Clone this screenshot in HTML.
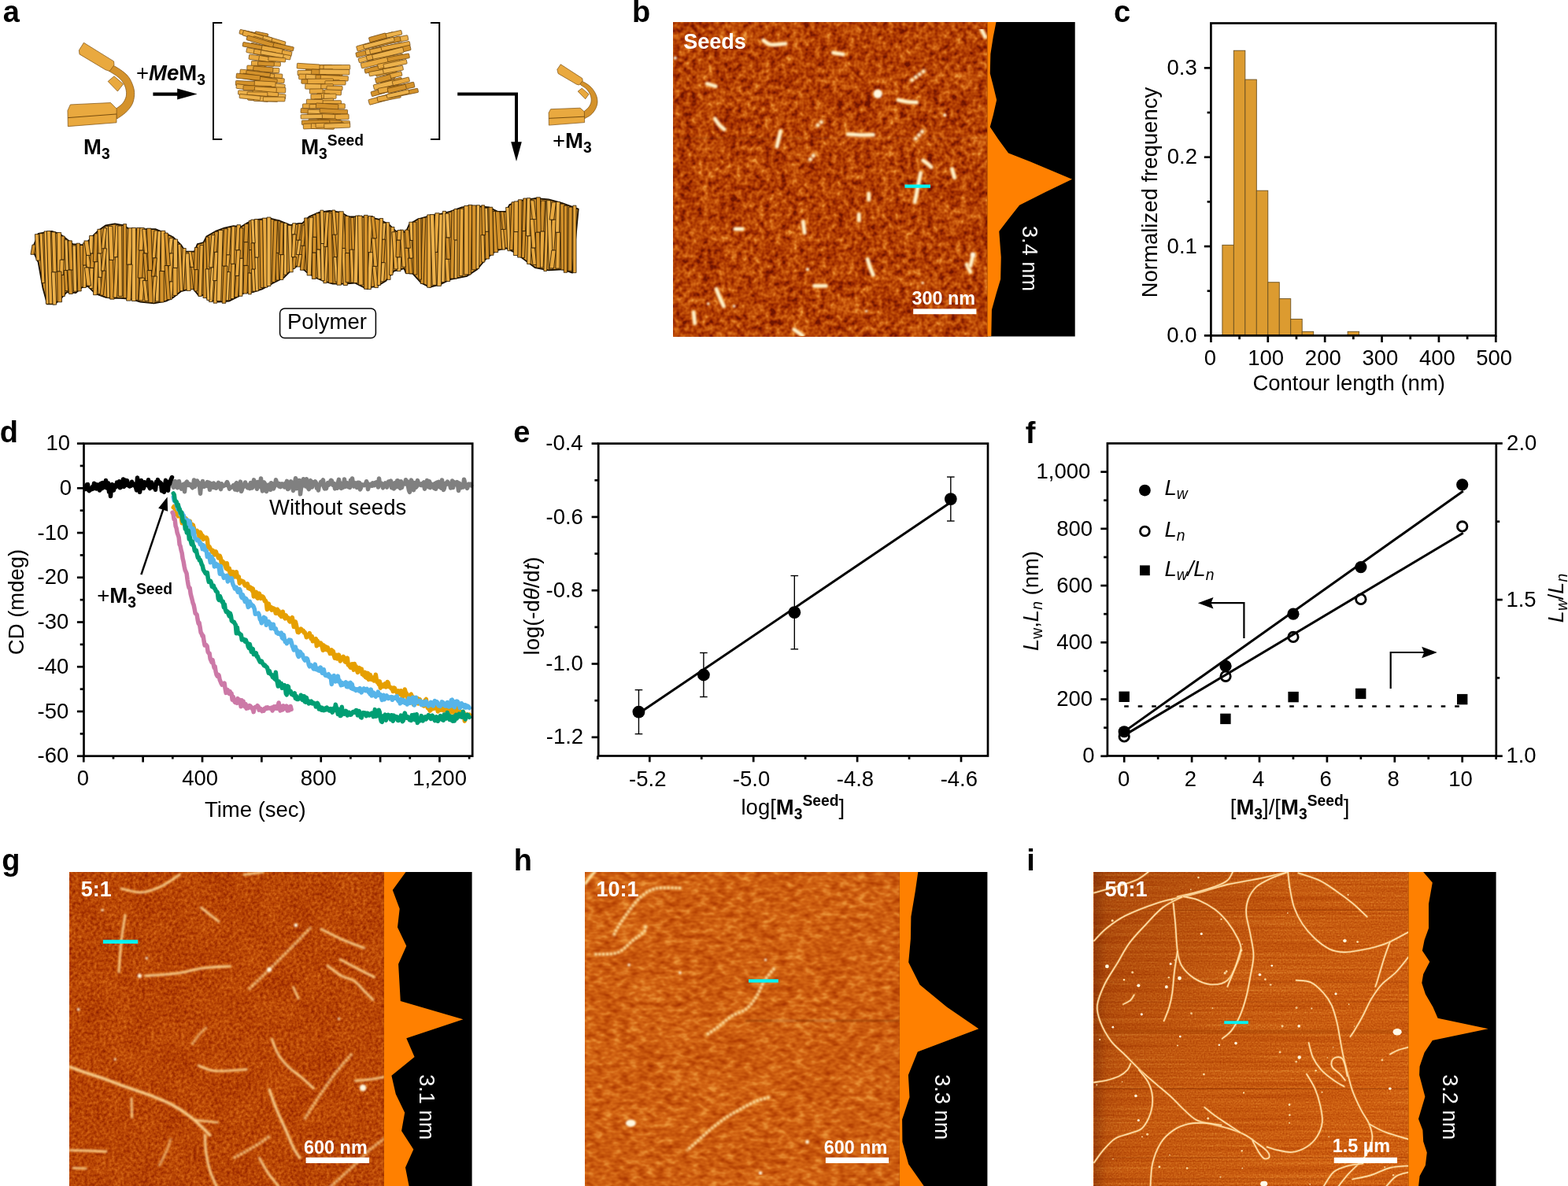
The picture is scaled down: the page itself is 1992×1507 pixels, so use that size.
<!DOCTYPE html>
<html lang="en"><head><meta charset="utf-8"><title>Figure</title>
<style>html,body{margin:0;padding:0;background:#fff}svg{display:block}text{font-family:"Liberation Sans",Arial,Helvetica,sans-serif}</style></head>
<body>
<svg width="1992" height="1507" viewBox="0 0 1992 1507">
<defs><filter id="nb" x="0" y="0" width="1" height="1" color-interpolation-filters="sRGB"><feTurbulence type="fractalNoise" baseFrequency="0.14" numOctaves="2" seed="4" stitchTiles="noStitch" result="t1"/><feColorMatrix in="t1" type="matrix" values="1 0 0 0 0 1 0 0 0 0 1 0 0 0 0 0 0 0 0 1" result="a1"/><feTurbulence type="fractalNoise" baseFrequency="0.035" numOctaves="2" seed="8" stitchTiles="noStitch" result="t2"/><feColorMatrix in="t2" type="matrix" values="1 0 0 0 0 1 0 0 0 0 1 0 0 0 0 0 0 0 0 1" result="a2"/><feComposite in="a1" in2="a2" operator="arithmetic" k1="0" k2="0.75" k3="0.25" k4="0" result="t3"/><feColorMatrix type="matrix" values="1.9 0 0 0 -0.5 1.9 0 0 0 -0.5 1.9 0 0 0 -0.5 0 0 0 0 1"/><feComponentTransfer><feFuncR type="table" tableValues="0.45 0.62 0.73 0.83 0.92"/><feFuncG type="table" tableValues="0.08 0.17 0.28 0.40 0.58"/><feFuncB type="table" tableValues="0.00 0.00 0.02 0.08 0.22"/></feComponentTransfer></filter><filter id="ng" x="0" y="0" width="1" height="1" color-interpolation-filters="sRGB"><feTurbulence type="fractalNoise" baseFrequency="0.26" numOctaves="2" seed="9" stitchTiles="noStitch" result="t1"/><feColorMatrix in="t1" type="matrix" values="1 0 0 0 0 1 0 0 0 0 1 0 0 0 0 0 0 0 0 1" result="a1"/><feTurbulence type="fractalNoise" baseFrequency="0.03" numOctaves="2" seed="2" stitchTiles="noStitch" result="t2"/><feColorMatrix in="t2" type="matrix" values="1 0 0 0 0 1 0 0 0 0 1 0 0 0 0 0 0 0 0 1" result="a2"/><feComposite in="a1" in2="a2" operator="arithmetic" k1="0" k2="0.8" k3="0.2" k4="0" result="t3"/><feColorMatrix type="matrix" values="1.05 0 0 0 -0.04 1.05 0 0 0 -0.04 1.05 0 0 0 -0.04 0 0 0 0 1"/><feComponentTransfer><feFuncR type="table" tableValues="0.45 0.62 0.73 0.83 0.92"/><feFuncG type="table" tableValues="0.08 0.17 0.28 0.40 0.58"/><feFuncB type="table" tableValues="0.00 0.00 0.02 0.08 0.22"/></feComponentTransfer></filter><filter id="nh" x="0" y="0" width="1" height="1" color-interpolation-filters="sRGB"><feTurbulence type="fractalNoise" baseFrequency="0.09 0.15" numOctaves="2" seed="21" stitchTiles="noStitch" result="t1"/><feColorMatrix in="t1" type="matrix" values="1 0 0 0 0 1 0 0 0 0 1 0 0 0 0 0 0 0 0 1" result="a1"/><feTurbulence type="fractalNoise" baseFrequency="0.025" numOctaves="2" seed="5" stitchTiles="noStitch" result="t2"/><feColorMatrix in="t2" type="matrix" values="1 0 0 0 0 1 0 0 0 0 1 0 0 0 0 0 0 0 0 1" result="a2"/><feComposite in="a1" in2="a2" operator="arithmetic" k1="0" k2="0.8" k3="0.2" k4="0" result="t3"/><feColorMatrix type="matrix" values="1.05 0 0 0 0.17 1.05 0 0 0 0.17 1.05 0 0 0 0.17 0 0 0 0 1"/><feComponentTransfer><feFuncR type="table" tableValues="0.45 0.62 0.73 0.83 0.92"/><feFuncG type="table" tableValues="0.08 0.17 0.28 0.40 0.58"/><feFuncB type="table" tableValues="0.00 0.00 0.02 0.08 0.22"/></feComponentTransfer></filter><filter id="ni" x="0" y="0" width="1" height="1" color-interpolation-filters="sRGB"><feTurbulence type="fractalNoise" baseFrequency="0.5" numOctaves="1" seed="5" stitchTiles="noStitch" result="t1"/><feColorMatrix in="t1" type="matrix" values="1 0 0 0 0 1 0 0 0 0 1 0 0 0 0 0 0 0 0 1" result="a1"/><feTurbulence type="fractalNoise" baseFrequency="0.004 0.35" numOctaves="2" seed="3" stitchTiles="noStitch" result="t2"/><feColorMatrix in="t2" type="matrix" values="1 0 0 0 0 1 0 0 0 0 1 0 0 0 0 0 0 0 0 1" result="a2"/><feComposite in="a1" in2="a2" operator="arithmetic" k1="0" k2="0.55" k3="0.45" k4="0" result="t3"/><feColorMatrix type="matrix" values="0.9 0 0 0 0.24 0.9 0 0 0 0.24 0.9 0 0 0 0.24 0 0 0 0 1"/><feComponentTransfer><feFuncR type="table" tableValues="0.45 0.62 0.73 0.83 0.92"/><feFuncG type="table" tableValues="0.08 0.17 0.28 0.40 0.58"/><feFuncB type="table" tableValues="0.00 0.00 0.02 0.08 0.22"/></feComponentTransfer></filter><filter id="soft" x="0" y="0" width="1" height="1" filterUnits="objectBoundingBox"><feGaussianBlur stdDeviation="0.8"/></filter><filter id="softi" x="0" y="0" width="1" height="1" filterUnits="objectBoundingBox"><feGaussianBlur stdDeviation="0.5"/></filter><linearGradient id="gi" x1="0" y1="0" x2="1" y2="0.6"><stop offset="0" stop-color="#5a1800" stop-opacity="0.30"/><stop offset="0.5" stop-color="#5a1800" stop-opacity="0.08"/><stop offset="1" stop-color="#5a1800" stop-opacity="0"/></linearGradient><linearGradient id="gi2" x1="0" y1="0" x2="1" y2="0"><stop offset="0" stop-color="#5a1800" stop-opacity="0.35"/><stop offset="0.04" stop-color="#5a1800" stop-opacity="0.05"/><stop offset="0.1" stop-color="#5a1800" stop-opacity="0"/><stop offset="1" stop-color="#5a1800" stop-opacity="0"/></linearGradient><clipPath id="clip-b"><rect x="855" y="28" width="399.6" height="399.5"/></clipPath><clipPath id="clip-g"><rect x="88.7" y="1108" width="399.3" height="400"/></clipPath><clipPath id="clip-h"><rect x="743.8" y="1108" width="399.1" height="400"/></clipPath><clipPath id="clip-i"><rect x="1389.7" y="1108" width="399.6" height="400"/></clipPath></defs>
<rect width="1992" height="1507" fill="#fff"/>
<g id="panel-a"><text x="3.86" y="28.1" font-size="38" font-weight="bold" fill="#000">a</text><path d="M138.55 80.32 C140.9 81.66 148.53 85.51 152.61 88.35 C156.69 91.2 160.31 93.88 163.05 97.39 C165.8 100.9 167.8 105.59 169.08 109.44 C170.35 113.29 170.88 116.63 170.68 120.48 C170.48 124.33 169.71 128.78 167.87 132.53 C166.03 136.28 162.85 139.89 159.64 142.97 C156.43 146.05 150.44 149.67 148.59 151 L146.99 138.55 C148.43 137.38 153.41 134.2 155.62 131.53 C157.83 128.85 159.54 125.6 160.24 122.49 C160.94 119.38 160.58 115.93 159.84 112.85 C159.1 109.77 157.7 106.69 155.82 104.02 C153.95 101.34 151.47 99.06 148.59 96.79 C145.72 94.51 140.23 91.43 138.55 90.36 Z" fill="#D4922B" stroke="#7a4e10" stroke-width="0.7" stroke-linejoin="round"/><polygon points="85.94,140.56 89.36,132.93 140.56,130.52 148.19,138.15 147.99,155.82 86.35,160.64" fill="#E9A93F" stroke="#7a4e10" stroke-width="0.7" stroke-linejoin="round"/><line x1="86.35" y1="149.6" x2="147.99" y2="144.98" stroke="#6a4208" stroke-width="0.9"/><polygon points="137.15,103.41 144.98,96.79 156.63,106.83 149.4,116.06" fill="#E9A93F" stroke="#7a4e10" stroke-width="0.7" stroke-linejoin="round"/><polygon points="106.43,54.22 144.58,77.91 144.98,82.73 139.36,90.36 134.14,88.76 101,68.88 100.4,63.86" fill="#E9A93F" stroke="#7a4e10" stroke-width="0.7" stroke-linejoin="round"/><path d="M735.62 101.46 C737.08 102.19 741.7 104.14 744.38 105.84 C747.06 107.54 749.54 109.25 751.68 111.68 C753.82 114.11 756.01 117.4 757.23 120.44 C758.44 123.48 759.12 126.89 758.98 129.93 C758.83 132.97 757.76 136.01 756.35 138.69 C754.94 141.36 752.8 143.99 750.51 145.99 C748.22 147.98 743.94 149.88 742.63 150.66 L741.75 141.9 C742.8 140.92 746.47 138.25 748.03 136.06 C749.59 133.87 750.78 131.34 751.09 128.76 C751.41 126.18 750.92 123.19 749.93 120.58 C748.93 117.98 747.13 115.23 745.11 113.14 C743.09 111.05 739.03 108.88 737.81 108.03 Z" fill="#D4922B" stroke="#7a4e10" stroke-width="0.7" stroke-linejoin="round"/><polygon points="697.08,143.36 699.56,138.69 737.08,137.23 742.34,141.9 742.63,155.62 697.37,159.12" fill="#E9A93F" stroke="#7a4e10" stroke-width="0.7" stroke-linejoin="round"/><line x1="697.37" y1="150.36" x2="742.34" y2="148.18" stroke="#6a4208" stroke-width="0.9"/><polygon points="734.16,116.06 739.27,112.12 748.03,119.71 743.65,125.84" fill="#E9A93F" stroke="#7a4e10" stroke-width="0.7" stroke-linejoin="round"/><polygon points="712.26,81.75 739.71,99.56 740.29,102.48 735.91,108.03 732.7,107.3 709.05,93.43 707.88,88.32" fill="#E9A93F" stroke="#7a4e10" stroke-width="0.7" stroke-linejoin="round"/><text x="106.0" y="195.6" font-size="27.5" font-weight="bold" fill="#000">M<tspan font-size="19.3" dy="6">3</tspan></text><text x="173.0" y="102.4" font-size="27.5" fill="#000">+<tspan font-weight="bold" font-style="italic">Me</tspan><tspan font-weight="bold">M<tspan font-size="19.3" dy="6">3</tspan></tspan></text><text x="382.2" y="195.8" font-size="27.5" font-weight="bold" fill="#000">M<tspan font-size="19.3" dy="6">3</tspan><tspan font-size="19.3" dy="-17">Seed</tspan></text><text x="702.0" y="187.6" font-size="27.5" fill="#000">+<tspan font-weight="bold">M<tspan font-size="19.3" dy="6">3</tspan></tspan></text><line x1="194.4" y1="119.6" x2="228" y2="119.6" stroke="#000" stroke-width="4.2"/><polygon points="250.6,119.6 225.2,112.6 225.2,126.6" fill="#000" stroke="none" stroke-width="1"/><polyline points="282.2,29 271,29 271,177 282.2,177" fill="none" stroke="#000" stroke-width="2"/><polyline points="547,29 558.2,29 558.2,177 547,177" fill="none" stroke="#000" stroke-width="2"/><polyline points="581.2,119.4 656,119.4 656,182" fill="none" stroke="#000" stroke-width="4"/><polygon points="656,205 649.2,180.2 662.8,180.2" fill="#000" stroke="none" stroke-width="1"/><rect x="313.74" y="41.34" width="17.02" height="5.96" rx="0.8" fill="#D4922B" stroke="#6b430c" stroke-width="0.7" transform="rotate(11.28 322.25 44.32)"/><rect x="323.62" y="41.36" width="16.7" height="6.54" rx="0.8" fill="#D4922B" stroke="#6b430c" stroke-width="0.7" transform="rotate(11.6 331.97 44.63)"/><rect x="304.18" y="39.71" width="20.69" height="5.63" rx="0.8" fill="#E9A93F" stroke="#6b430c" stroke-width="0.7" transform="rotate(13.81 314.52 42.52)"/><rect x="329.15" y="48.45" width="23.18" height="5.81" rx="0.8" fill="#E9A93F" stroke="#6b430c" stroke-width="0.7" transform="rotate(12.3 340.74 51.36)"/><rect x="335.26" y="49.23" width="27.55" height="6.42" rx="0.8" fill="#E9A93F" stroke="#6b430c" stroke-width="0.7" transform="rotate(16.64 349.04 52.44)"/><rect x="316.74" y="44.51" width="28.98" height="5.55" rx="0.8" fill="#EDB24C" stroke="#6b430c" stroke-width="0.7" transform="rotate(13.76 331.23 47.28)"/><rect x="308.19" y="41.91" width="26.11" height="6.67" rx="0.8" fill="#E9A93F" stroke="#6b430c" stroke-width="0.7" transform="rotate(16.53 321.25 45.24)"/><rect x="335.33" y="54.38" width="26.76" height="6.76" rx="0.8" fill="#EDB24C" stroke="#6b430c" stroke-width="0.7" transform="rotate(14 348.71 57.76)"/><rect x="320.77" y="50.91" width="36.95" height="6.14" rx="0.8" fill="#E9A93F" stroke="#6b430c" stroke-width="0.7" transform="rotate(16.29 339.25 53.98)"/><rect x="337.76" y="56.09" width="35.5" height="5.26" rx="0.8" fill="#D4922B" stroke="#6b430c" stroke-width="0.7" transform="rotate(12.46 355.5 58.72)"/><rect x="313.01" y="49.77" width="34.91" height="5.79" rx="0.8" fill="#D4922B" stroke="#6b430c" stroke-width="0.7" transform="rotate(16.3 330.47 52.66)"/><rect x="336.21" y="62.48" width="34.63" height="6.03" rx="0.8" fill="#E9A93F" stroke="#6b430c" stroke-width="0.7" transform="rotate(11.36 353.53 65.49)"/><rect x="318.26" y="57.86" width="32.45" height="5.69" rx="0.8" fill="#E9A93F" stroke="#6b430c" stroke-width="0.7" transform="rotate(14.09 334.48 60.7)"/><rect x="308.19" y="56.42" width="34.02" height="5.47" rx="0.8" fill="#D4922B" stroke="#6b430c" stroke-width="0.7" transform="rotate(10.36 325.2 59.16)"/><rect x="332.31" y="59.94" width="26.47" height="6.58" rx="0.8" fill="#E9A93F" stroke="#6b430c" stroke-width="0.7" transform="rotate(10.39 345.55 63.22)"/><rect x="313.01" y="63.15" width="28.78" height="6.17" rx="0.8" fill="#EDB24C" stroke="#6b430c" stroke-width="0.7" transform="rotate(11.38 327.4 66.24)"/><rect x="322.44" y="64.44" width="27.93" height="6.1" rx="0.8" fill="#E9A93F" stroke="#6b430c" stroke-width="0.7" transform="rotate(9.56 336.41 67.49)"/><rect x="344.99" y="68.5" width="24.25" height="5.52" rx="0.8" fill="#EDB24C" stroke="#6b430c" stroke-width="0.7" transform="rotate(10.03 357.11 71.26)"/><rect x="331.12" y="66.26" width="29.07" height="5.2" rx="0.8" fill="#EDB24C" stroke="#6b430c" stroke-width="0.7" transform="rotate(10.24 345.65 68.87)"/><rect x="316.22" y="70.72" width="23.83" height="6.22" rx="0.8" fill="#E9A93F" stroke="#6b430c" stroke-width="0.7" transform="rotate(8.3 328.14 73.83)"/><rect x="328.89" y="72.18" width="21.25" height="6.48" rx="0.8" fill="#E9A93F" stroke="#6b430c" stroke-width="0.7" transform="rotate(9.9 339.52 75.42)"/><rect x="340.87" y="72.82" width="21.94" height="5.23" rx="0.8" fill="#E9A93F" stroke="#6b430c" stroke-width="0.7" transform="rotate(5.09 351.84 75.43)"/><rect x="338.88" y="78.78" width="17.5" height="5.31" rx="0.8" fill="#E9A93F" stroke="#6b430c" stroke-width="0.7" transform="rotate(1.96 347.63 81.43)"/><rect x="319.44" y="77.77" width="19.42" height="6.24" rx="0.8" fill="#E9A93F" stroke="#6b430c" stroke-width="0.7" transform="rotate(2.77 329.15 80.89)"/><rect x="327.56" y="78.44" width="20.71" height="5.24" rx="0.8" fill="#D4922B" stroke="#6b430c" stroke-width="0.7" transform="rotate(3.32 337.91 81.06)"/><rect x="335.46" y="86.26" width="19.32" height="6.02" rx="0.8" fill="#EDB24C" stroke="#6b430c" stroke-width="0.7" transform="rotate(2.25 345.12 89.27)"/><rect x="313.82" y="83.32" width="22.17" height="5.84" rx="0.8" fill="#E9A93F" stroke="#6b430c" stroke-width="0.7" transform="rotate(1.21 324.9 86.23)"/><rect x="321.76" y="84.9" width="25.07" height="6.29" rx="0.8" fill="#D4922B" stroke="#6b430c" stroke-width="0.7" transform="rotate(4.27 334.3 88.04)"/><rect x="304.98" y="89.15" width="25" height="6.12" rx="0.8" fill="#E9A93F" stroke="#6b430c" stroke-width="0.7" transform="rotate(4.93 317.48 92.21)"/><rect x="329.4" y="93.13" width="29.39" height="5.4" rx="0.8" fill="#E9A93F" stroke="#6b430c" stroke-width="0.7" transform="rotate(4.27 344.1 95.83)"/><rect x="325.45" y="92.53" width="23.11" height="5.7" rx="0.8" fill="#E9A93F" stroke="#6b430c" stroke-width="0.7" transform="rotate(8.64 337 95.37)"/><rect x="312.72" y="91.02" width="30.61" height="5.41" rx="0.8" fill="#D4922B" stroke="#6b430c" stroke-width="0.7" transform="rotate(6.36 328.02 93.73)"/><rect x="308.05" y="95.9" width="37.39" height="6.59" rx="0.8" fill="#D4922B" stroke="#6b430c" stroke-width="0.7" transform="rotate(8.84 326.74 99.2)"/><rect x="326.97" y="98.64" width="34.23" height="5.76" rx="0.8" fill="#E9A93F" stroke="#6b430c" stroke-width="0.7" transform="rotate(4.23 344.09 101.52)"/><rect x="318.28" y="98.1" width="33.87" height="5.99" rx="0.8" fill="#D4922B" stroke="#6b430c" stroke-width="0.7" transform="rotate(8.63 335.21 101.1)"/><rect x="300.16" y="94.54" width="30.4" height="6.18" rx="0.8" fill="#D4922B" stroke="#6b430c" stroke-width="0.7" transform="rotate(5.41 315.36 97.63)"/><rect x="310.63" y="104.03" width="28.83" height="6.1" rx="0.8" fill="#EDB24C" stroke="#6b430c" stroke-width="0.7" transform="rotate(2.81 325.05 107.08)"/><rect x="330.32" y="105.33" width="31.69" height="6.54" rx="0.8" fill="#EDB24C" stroke="#6b430c" stroke-width="0.7" transform="rotate(7.59 346.16 108.6)"/><rect x="299.36" y="103.04" width="30.62" height="6.05" rx="0.8" fill="#D4922B" stroke="#6b430c" stroke-width="0.7" transform="rotate(2.39 314.67 106.07)"/><rect x="323.24" y="103.23" width="26.82" height="6.66" rx="0.8" fill="#E9A93F" stroke="#6b430c" stroke-width="0.7" transform="rotate(3.28 336.65 106.56)"/><rect x="300.16" y="108.43" width="30.93" height="5.58" rx="0.8" fill="#EDB24C" stroke="#6b430c" stroke-width="0.7" transform="rotate(6.66 315.62 111.22)"/><rect x="309.02" y="109.03" width="36.08" height="6.08" rx="0.8" fill="#D4922B" stroke="#6b430c" stroke-width="0.7" transform="rotate(1.63 327.06 112.07)"/><rect x="336.01" y="110.83" width="26.8" height="6.79" rx="0.8" fill="#E9A93F" stroke="#6b430c" stroke-width="0.7" transform="rotate(1.88 349.41 114.22)"/><rect x="323.34" y="110.71" width="27.88" height="6.45" rx="0.8" fill="#E9A93F" stroke="#6b430c" stroke-width="0.7" transform="rotate(3.27 337.28 113.93)"/><rect x="326.04" y="118.18" width="36.77" height="6.1" rx="0.8" fill="#EDB24C" stroke="#6b430c" stroke-width="0.7" transform="rotate(5.55 344.42 121.23)"/><rect x="302.57" y="115.33" width="30.82" height="5.27" rx="0.8" fill="#EDB24C" stroke="#6b430c" stroke-width="0.7" transform="rotate(1.77 317.98 117.97)"/><rect x="320.93" y="116.25" width="32.69" height="5.38" rx="0.8" fill="#E9A93F" stroke="#6b430c" stroke-width="0.7" transform="rotate(5.31 337.28 118.94)"/><rect x="314.06" y="116.99" width="25.78" height="6.14" rx="0.8" fill="#E9A93F" stroke="#6b430c" stroke-width="0.7" transform="rotate(0.97 326.95 120.06)"/><rect x="314.74" y="121.5" width="26.13" height="6.74" rx="0.8" fill="#E9A93F" stroke="#6b430c" stroke-width="0.7" transform="rotate(4.84 327.81 124.87)"/><rect x="322.35" y="122.49" width="30.57" height="6.34" rx="0.8" fill="#EDB24C" stroke="#6b430c" stroke-width="0.7" transform="rotate(1.89 337.64 125.66)"/><rect x="304.18" y="120.77" width="26.69" height="5.22" rx="0.8" fill="#EDB24C" stroke="#6b430c" stroke-width="0.7" transform="rotate(5.9 317.52 123.38)"/><rect x="334.3" y="123.12" width="27.71" height="5.7" rx="0.8" fill="#EDB24C" stroke="#6b430c" stroke-width="0.7" transform="rotate(0.38 348.15 125.97)"/><rect x="388.69" y="82.47" width="33.21" height="6.27" rx="0.8" fill="#E9A93F" stroke="#6b430c" stroke-width="0.7" transform="rotate(-0.15 405.29 85.61)"/><rect x="397.91" y="82.7" width="36.51" height="5.45" rx="0.8" fill="#E9A93F" stroke="#6b430c" stroke-width="0.7" transform="rotate(0.58 416.16 85.43)"/><rect x="411.09" y="82.59" width="33.65" height="5.91" rx="0.8" fill="#EDB24C" stroke="#6b430c" stroke-width="0.7" transform="rotate(-0.39 427.92 85.54)"/><rect x="377.27" y="81.13" width="28.82" height="6.69" rx="0.8" fill="#E9A93F" stroke="#6b430c" stroke-width="0.7" transform="rotate(3.45 391.68 84.48)"/><rect x="388.34" y="88.09" width="35.05" height="5.48" rx="0.8" fill="#E9A93F" stroke="#6b430c" stroke-width="0.7" transform="rotate(-0.96 405.87 90.83)"/><rect x="378.07" y="89.35" width="34.38" height="6.28" rx="0.8" fill="#EDB24C" stroke="#6b430c" stroke-width="0.7" transform="rotate(-0.91 395.26 92.49)"/><rect x="395.69" y="88.88" width="39.43" height="6.65" rx="0.8" fill="#D4922B" stroke="#6b430c" stroke-width="0.7" transform="rotate(2.58 415.41 92.21)"/><rect x="405.87" y="88.19" width="38.07" height="6.57" rx="0.8" fill="#EDB24C" stroke="#6b430c" stroke-width="0.7" transform="rotate(0.67 424.9 91.48)"/><rect x="379.68" y="94.38" width="34.52" height="6.68" rx="0.8" fill="#E9A93F" stroke="#6b430c" stroke-width="0.7" transform="rotate(1.01 396.94 97.72)"/><rect x="388.32" y="95.34" width="36.73" height="5.93" rx="0.8" fill="#EDB24C" stroke="#6b430c" stroke-width="0.7" transform="rotate(3.42 406.68 98.3)"/><rect x="400.97" y="95.28" width="30.71" height="5.55" rx="0.8" fill="#D4922B" stroke="#6b430c" stroke-width="0.7" transform="rotate(-0.05 416.33 98.05)"/><rect x="407.25" y="96.04" width="35.08" height="6.19" rx="0.8" fill="#E9A93F" stroke="#6b430c" stroke-width="0.7" transform="rotate(2.64 424.79 99.14)"/><rect x="382.89" y="101.01" width="34.38" height="5.53" rx="0.8" fill="#D4922B" stroke="#6b430c" stroke-width="0.7" transform="rotate(1.07 400.08 103.78)"/><rect x="397.63" y="102.29" width="34.12" height="5.75" rx="0.8" fill="#E9A93F" stroke="#6b430c" stroke-width="0.7" transform="rotate(-1.95 414.69 105.16)"/><rect x="390.71" y="100.17" width="32.78" height="6.24" rx="0.8" fill="#E9A93F" stroke="#6b430c" stroke-width="0.7" transform="rotate(-0.36 407.1 103.29)"/><rect x="412.95" y="102.58" width="26.16" height="5.42" rx="0.8" fill="#E9A93F" stroke="#6b430c" stroke-width="0.7" transform="rotate(-0.4 426.04 105.29)"/><rect x="399.45" y="106.89" width="23.91" height="5.78" rx="0.8" fill="#E9A93F" stroke="#6b430c" stroke-width="0.7" transform="rotate(-1.5 411.41 109.78)"/><rect x="414.97" y="109.31" width="20.13" height="5.24" rx="0.8" fill="#E9A93F" stroke="#6b430c" stroke-width="0.7" transform="rotate(1.38 425.04 111.93)"/><rect x="387.71" y="106.6" width="20.1" height="6.7" rx="0.8" fill="#EDB24C" stroke="#6b430c" stroke-width="0.7" transform="rotate(1.41 397.76 109.95)"/><rect x="403.43" y="114.37" width="19.96" height="5.6" rx="0.8" fill="#E9A93F" stroke="#6b430c" stroke-width="0.7" transform="rotate(2.82 413.41 117.17)"/><rect x="393.33" y="112.96" width="16.9" height="5.98" rx="0.8" fill="#E9A93F" stroke="#6b430c" stroke-width="0.7" transform="rotate(-1.15 401.78 115.95)"/><rect x="412.2" y="114.23" width="21.3" height="6.41" rx="0.8" fill="#E9A93F" stroke="#6b430c" stroke-width="0.7" transform="rotate(2.17 422.85 117.43)"/><rect x="402.74" y="118.77" width="16.53" height="6.3" rx="0.8" fill="#E9A93F" stroke="#6b430c" stroke-width="0.7" transform="rotate(2.03 411 121.92)"/><rect x="394.94" y="119.71" width="13.65" height="6.45" rx="0.8" fill="#E9A93F" stroke="#6b430c" stroke-width="0.7" transform="rotate(-0.08 401.76 122.94)"/><rect x="411.47" y="119.23" width="15.6" height="6.17" rx="0.8" fill="#EDB24C" stroke="#6b430c" stroke-width="0.7" transform="rotate(-0.48 419.27 122.31)"/><rect x="399.17" y="125.47" width="24.48" height="5.46" rx="0.8" fill="#EDB24C" stroke="#6b430c" stroke-width="0.7" transform="rotate(-2.42 411.41 128.2)"/><rect x="409.33" y="127.72" width="24.17" height="5.57" rx="0.8" fill="#E9A93F" stroke="#6b430c" stroke-width="0.7" transform="rotate(-0.33 421.41 130.5)"/><rect x="389.32" y="126.38" width="20.77" height="6.48" rx="0.8" fill="#E9A93F" stroke="#6b430c" stroke-width="0.7" transform="rotate(1.26 399.7 129.62)"/><rect x="384.5" y="131.75" width="25.6" height="5.82" rx="0.8" fill="#E9A93F" stroke="#6b430c" stroke-width="0.7" transform="rotate(-1.04 397.3 134.66)"/><rect x="393.07" y="132.37" width="28.11" height="5.36" rx="0.8" fill="#E9A93F" stroke="#6b430c" stroke-width="0.7" transform="rotate(-0.91 407.12 135.05)"/><rect x="413.22" y="131.72" width="25.09" height="6.27" rx="0.8" fill="#E9A93F" stroke="#6b430c" stroke-width="0.7" transform="rotate(0.72 425.77 134.85)"/><rect x="401.46" y="131.8" width="28.37" height="6.65" rx="0.8" fill="#D4922B" stroke="#6b430c" stroke-width="0.7" transform="rotate(3.78 415.65 135.13)"/><rect x="400.47" y="139.82" width="31.87" height="6.69" rx="0.8" fill="#E9A93F" stroke="#6b430c" stroke-width="0.7" transform="rotate(1.49 416.4 143.16)"/><rect x="382.09" y="138.63" width="35.91" height="6.03" rx="0.8" fill="#D4922B" stroke="#6b430c" stroke-width="0.7" transform="rotate(3.53 400.04 141.64)"/><rect x="391.16" y="139.2" width="32.22" height="6.69" rx="0.8" fill="#EDB24C" stroke="#6b430c" stroke-width="0.7" transform="rotate(-0.15 407.27 142.55)"/><rect x="406.17" y="138.58" width="35.36" height="5.69" rx="0.8" fill="#D4922B" stroke="#6b430c" stroke-width="0.7" transform="rotate(3.04 423.85 141.42)"/><rect x="402.35" y="145.28" width="30.65" height="6.62" rx="0.8" fill="#D4922B" stroke="#6b430c" stroke-width="0.7" transform="rotate(1.68 417.68 148.59)"/><rect x="417.43" y="145.25" width="25.7" height="6.7" rx="0.8" fill="#E9A93F" stroke="#6b430c" stroke-width="0.7" transform="rotate(-1.54 430.28 148.6)"/><rect x="390.82" y="144.7" width="34.86" height="5.8" rx="0.8" fill="#E9A93F" stroke="#6b430c" stroke-width="0.7" transform="rotate(2.3 408.25 147.6)"/><rect x="382.09" y="145.35" width="27.34" height="5.39" rx="0.8" fill="#EDB24C" stroke="#6b430c" stroke-width="0.7" transform="rotate(-1.27 395.76 148.05)"/><rect x="410.95" y="153.1" width="33.46" height="5.24" rx="0.8" fill="#E9A93F" stroke="#6b430c" stroke-width="0.7" transform="rotate(1.95 427.69 155.72)"/><rect x="392.01" y="151.07" width="35.13" height="6.74" rx="0.8" fill="#D4922B" stroke="#6b430c" stroke-width="0.7" transform="rotate(-1.15 409.58 154.44)"/><rect x="403.93" y="152.19" width="30.22" height="5.96" rx="0.8" fill="#D4922B" stroke="#6b430c" stroke-width="0.7" transform="rotate(3.73 419.03 155.17)"/><rect x="383.37" y="152.77" width="35.46" height="5.67" rx="0.8" fill="#D4922B" stroke="#6b430c" stroke-width="0.7" transform="rotate(-0.61 401.1 155.6)"/><rect x="385.3" y="156.79" width="31.48" height="6.51" rx="0.8" fill="#E9A93F" stroke="#6b430c" stroke-width="0.7" transform="rotate(-2.42 401.04 160.05)"/><rect x="395.38" y="157.26" width="29.2" height="6.64" rx="0.8" fill="#E9A93F" stroke="#6b430c" stroke-width="0.7" transform="rotate(1.79 409.98 160.57)"/><rect x="401.06" y="156.11" width="35.8" height="5.67" rx="0.8" fill="#E9A93F" stroke="#6b430c" stroke-width="0.7" transform="rotate(-1.61 418.96 158.95)"/><rect x="411.8" y="156.67" width="32.94" height="6.04" rx="0.8" fill="#EDB24C" stroke="#6b430c" stroke-width="0.7" transform="rotate(-2.33 428.27 159.69)"/><rect x="479.4" y="43.43" width="20.63" height="5.3" rx="0.8" fill="#D4922B" stroke="#6b430c" stroke-width="0.7" transform="rotate(-16.92 489.72 46.08)"/><rect x="486.06" y="41" width="24.54" height="5.51" rx="0.8" fill="#EDB24C" stroke="#6b430c" stroke-width="0.7" transform="rotate(-12.7 498.33 43.76)"/><rect x="468.84" y="44.7" width="22.06" height="6.58" rx="0.8" fill="#D4922B" stroke="#6b430c" stroke-width="0.7" transform="rotate(-15.61 479.87 47.99)"/><rect x="452.77" y="53.72" width="37.43" height="6.73" rx="0.8" fill="#E9A93F" stroke="#6b430c" stroke-width="0.7" transform="rotate(-15.74 471.48 57.08)"/><rect x="480.7" y="48.15" width="37.94" height="6.35" rx="0.8" fill="#EDB24C" stroke="#6b430c" stroke-width="0.7" transform="rotate(-10.73 499.67 51.33)"/><rect x="471.97" y="50.02" width="37.07" height="6.48" rx="0.8" fill="#D4922B" stroke="#6b430c" stroke-width="0.7" transform="rotate(-13.33 490.5 53.26)"/><rect x="461.4" y="51.94" width="39.99" height="5.42" rx="0.8" fill="#EDB24C" stroke="#6b430c" stroke-width="0.7" transform="rotate(-14.7 481.39 54.65)"/><rect x="451.97" y="62.95" width="34.83" height="6.05" rx="0.8" fill="#D4922B" stroke="#6b430c" stroke-width="0.7" transform="rotate(-13.55 469.38 65.98)"/><rect x="464.25" y="60.36" width="32.22" height="6.69" rx="0.8" fill="#EDB24C" stroke="#6b430c" stroke-width="0.7" transform="rotate(-10.86 480.36 63.7)"/><rect x="469.55" y="58.45" width="42.7" height="5.72" rx="0.8" fill="#E9A93F" stroke="#6b430c" stroke-width="0.7" transform="rotate(-12.75 490.9 61.31)"/><rect x="484.13" y="55.88" width="36.91" height="5.54" rx="0.8" fill="#E9A93F" stroke="#6b430c" stroke-width="0.7" transform="rotate(-11.01 502.59 58.65)"/><rect x="493" y="60.48" width="28.85" height="6.48" rx="0.8" fill="#D4922B" stroke="#6b430c" stroke-width="0.7" transform="rotate(-13.54 507.42 63.72)"/><rect x="455.18" y="70.2" width="30.01" height="5.86" rx="0.8" fill="#EDB24C" stroke="#6b430c" stroke-width="0.7" transform="rotate(-15.29 470.19 73.13)"/><rect x="465.38" y="66.89" width="36.07" height="6.14" rx="0.8" fill="#E9A93F" stroke="#6b430c" stroke-width="0.7" transform="rotate(-12.69 483.41 69.96)"/><rect x="472.76" y="64.68" width="40.29" height="6.8" rx="0.8" fill="#EDB24C" stroke="#6b430c" stroke-width="0.7" transform="rotate(-14.14 492.91 68.07)"/><rect x="466.44" y="73.92" width="37.71" height="5.62" rx="0.8" fill="#D4922B" stroke="#6b430c" stroke-width="0.7" transform="rotate(-11.86 485.29 76.73)"/><rect x="474.23" y="71.58" width="38.1" height="6.73" rx="0.8" fill="#EDB24C" stroke="#6b430c" stroke-width="0.7" transform="rotate(-10.62 493.28 74.94)"/><rect x="489.59" y="70.68" width="30.65" height="5.82" rx="0.8" fill="#D4922B" stroke="#6b430c" stroke-width="0.7" transform="rotate(-10.8 504.92 73.59)"/><rect x="458.39" y="76.41" width="34.4" height="6.7" rx="0.8" fill="#E9A93F" stroke="#6b430c" stroke-width="0.7" transform="rotate(-12.96 475.59 79.76)"/><rect x="470.26" y="82.41" width="32.68" height="6.03" rx="0.8" fill="#D4922B" stroke="#6b430c" stroke-width="0.7" transform="rotate(-11.71 486.6 85.43)"/><rect x="463.21" y="85.16" width="22.73" height="5.7" rx="0.8" fill="#D4922B" stroke="#6b430c" stroke-width="0.7" transform="rotate(-12.74 474.58 88.01)"/><rect x="479.79" y="78.5" width="28.94" height="6.2" rx="0.8" fill="#E9A93F" stroke="#6b430c" stroke-width="0.7" transform="rotate(-12.2 494.27 81.6)"/><rect x="487.11" y="78.43" width="29.91" height="5.65" rx="0.8" fill="#EDB24C" stroke="#6b430c" stroke-width="0.7" transform="rotate(-12.06 502.07 81.26)"/><rect x="477.27" y="89.07" width="26.5" height="5.6" rx="0.8" fill="#E9A93F" stroke="#6b430c" stroke-width="0.7" transform="rotate(-12.26 490.52 91.87)"/><rect x="468.84" y="89.37" width="23.36" height="5.5" rx="0.8" fill="#EDB24C" stroke="#6b430c" stroke-width="0.7" transform="rotate(-10.45 480.51 92.12)"/><rect x="486.67" y="85.49" width="25.54" height="5.8" rx="0.8" fill="#EDB24C" stroke="#6b430c" stroke-width="0.7" transform="rotate(-10.37 499.44 88.39)"/><rect x="485.6" y="95.55" width="16.26" height="5.63" rx="0.8" fill="#E9A93F" stroke="#6b430c" stroke-width="0.7" transform="rotate(-13.03 493.73 98.36)"/><rect x="491.86" y="92.59" width="18.74" height="5.72" rx="0.8" fill="#E9A93F" stroke="#6b430c" stroke-width="0.7" transform="rotate(-13 501.23 95.44)"/><rect x="476.87" y="96.85" width="19.79" height="6.74" rx="0.8" fill="#D4922B" stroke="#6b430c" stroke-width="0.7" transform="rotate(-14.52 486.76 100.22)"/><rect x="483.68" y="101.44" width="27.33" height="6.46" rx="0.8" fill="#D4922B" stroke="#6b430c" stroke-width="0.7" transform="rotate(-14.8 497.35 104.67)"/><rect x="474.46" y="104.58" width="28" height="6.54" rx="0.8" fill="#EDB24C" stroke="#6b430c" stroke-width="0.7" transform="rotate(-13.9 488.46 107.85)"/><rect x="498.46" y="100.53" width="21.78" height="5.75" rx="0.8" fill="#E9A93F" stroke="#6b430c" stroke-width="0.7" transform="rotate(-14.22 509.35 103.4)"/><rect x="471.24" y="112.81" width="28.43" height="6.11" rx="0.8" fill="#D4922B" stroke="#6b430c" stroke-width="0.7" transform="rotate(-15.79 485.46 115.87)"/><rect x="480.43" y="109.77" width="27.86" height="6.71" rx="0.8" fill="#E9A93F" stroke="#6b430c" stroke-width="0.7" transform="rotate(-10.72 494.36 113.12)"/><rect x="492.45" y="107.56" width="34.22" height="6.78" rx="0.8" fill="#D4922B" stroke="#6b430c" stroke-width="0.7" transform="rotate(-11.7 509.56 110.95)"/><rect x="492.44" y="109.71" width="23.64" height="6.26" rx="0.8" fill="#D4922B" stroke="#6b430c" stroke-width="0.7" transform="rotate(-12.89 504.25 112.84)"/><rect x="468.03" y="121.71" width="37.94" height="6.75" rx="0.8" fill="#E9A93F" stroke="#6b430c" stroke-width="0.7" transform="rotate(-15.28 487 125.09)"/><rect x="479.27" y="120.4" width="29.75" height="6.31" rx="0.8" fill="#E9A93F" stroke="#6b430c" stroke-width="0.7" transform="rotate(-10.46 494.14 123.55)"/><rect x="493.46" y="115.92" width="38.03" height="5.22" rx="0.8" fill="#D4922B" stroke="#6b430c" stroke-width="0.7" transform="rotate(-11.53 512.47 118.53)"/><rect x="491.11" y="116.71" width="28.83" height="5.23" rx="0.8" fill="#EDB24C" stroke="#6b430c" stroke-width="0.7" transform="rotate(-12.78 505.53 119.33)"/><polygon points="40.98,316.8 48.62,296.77 65.78,293.91 75.32,296.77 82.95,302.49 92.49,310.12 102.03,311.08 107.75,311.08 115.38,302.49 124.92,292.95 134.46,286.28 145.91,284.37 157.35,286.28 164.98,292 185.97,291.05 197.41,291.05 208.86,295.81 220.31,301.54 229.84,311.08 235.57,319.66 247.01,319.66 250.83,310.12 258.46,308.21 262.27,300.58 273.72,293.91 285.17,289.52 296.61,287.23 306.15,288.18 313.78,283.41 325.23,279.22 342.4,277.31 355.9,280.72 368.85,286.12 379.64,283.96 383.96,283.96 392.59,275.33 405.55,269.93 418.5,267.77 433.6,269.93 442.24,275.33 459.51,275.33 470.3,276.41 481.09,278.56 494.04,285.04 502.67,293.67 515.62,294.75 519.94,285.04 530.73,278.56 545.84,274.25 558.79,272.09 571.74,268.85 586.85,263.46 604.12,261.94 621.39,263.46 632.18,268.85 642.97,268.85 647.29,260.22 662.4,254.82 679.67,252.02 696.93,253.31 714.2,258.06 734.71,265.61 727.15,346.56 714.2,342.24 696.93,343.32 679.67,340.08 666.71,330.37 653.76,320.65 642.97,315.26 630.02,318.5 617.07,329.29 606.28,342.24 593.33,350.87 571.74,355.19 558.79,361.66 545.84,364.9 535.05,359.51 524.26,347.63 515.62,346.56 513.47,341.16 500.52,344.4 489.72,357.35 478.93,363.82 463.82,365.98 450.87,359.51 437.92,360.58 422.81,360.58 412.02,357.35 401.23,353.03 390.44,346.56 379.64,336.84 371.01,342.24 360.22,353.03 347.27,359.51 332.86,367.35 321.41,371.17 309.97,372.12 302.33,376.89 290.89,382.61 277.54,383.57 266.09,381.66 258.46,374.98 252.74,375.94 245.1,366.4 229.84,370.21 220.31,377.84 210.77,382.61 195.51,385.48 178.34,383.57 164.98,379.75 153.54,378.8 142.09,378.8 134.46,377.84 121.11,373.08 111.57,363.54 103.94,365.44 96.31,372.12 84.86,371.17 77.23,379.75 69.6,386.43 60.06,386.43 54.34,365.44 48.62,333.01 40.98,316.8" fill="#D4922B" stroke="#1a1000" stroke-width="1.8" stroke-linejoin="round"/><polygon points="247.29,314.5 251.43,314.5 250.47,342.61 246.33,342.61" fill="#D4922B" stroke="#241500" stroke-width="0.8" stroke-linejoin="round"/><polygon points="384.18,312.2 388.74,312.2 385.99,343.23 381.42,343.23" fill="#D4922B" stroke="#241500" stroke-width="0.8" stroke-linejoin="round"/><polygon points="687.24,255.01 692.58,255.01 690.73,294.11 685.39,294.11" fill="#D4922B" stroke="#241500" stroke-width="0.8" stroke-linejoin="round"/><polygon points="658.26,253.78 663.05,253.78 662.36,327.06 657.57,327.06" fill="#D4922B" stroke="#241500" stroke-width="0.8" stroke-linejoin="round"/><polygon points="65.59,294.82 70.35,294.82 71.96,345.79 67.2,345.79" fill="#E9A93F" stroke="#241500" stroke-width="0.8" stroke-linejoin="round"/><polygon points="86.45,305.86 91.35,305.86 92.96,343.05 88.06,343.05" fill="#D4922B" stroke="#241500" stroke-width="0.8" stroke-linejoin="round"/><polygon points="77.19,300.06 82.19,300.06 81.59,330.14 76.59,330.14" fill="#D4922B" stroke="#241500" stroke-width="0.8" stroke-linejoin="round"/><polygon points="701.17,279.11 706.69,279.11 703.84,318.04 698.32,318.04" fill="#E9A93F" stroke="#241500" stroke-width="0.8" stroke-linejoin="round"/><polygon points="97.04,309.2 101.53,309.2 103.24,369.92 98.76,369.92" fill="#D4922B" stroke="#241500" stroke-width="0.8" stroke-linejoin="round"/><polygon points="310.07,307.61 315.12,307.61 314.02,337.42 308.97,337.42" fill="#D4922B" stroke="#241500" stroke-width="0.8" stroke-linejoin="round"/><polygon points="513.57,315.21 518.85,315.21 520.75,347.69 515.47,347.69" fill="#D4922B" stroke="#241500" stroke-width="0.8" stroke-linejoin="round"/><polygon points="204.48,293.32 209.87,293.32 209.96,344.52 204.57,344.52" fill="#E9A93F" stroke="#241500" stroke-width="0.8" stroke-linejoin="round"/><polygon points="484.89,304.13 489.44,304.13 487.78,333.68 483.23,333.68" fill="#D4922B" stroke="#241500" stroke-width="0.8" stroke-linejoin="round"/><polygon points="55.99,293.9 59.87,293.9 62.32,386.28 58.43,386.28" fill="#E9A93F" stroke="#241500" stroke-width="0.8" stroke-linejoin="round"/><polygon points="615.95,294.21 620.71,294.21 621.55,328.95 616.79,328.95" fill="#D4922B" stroke="#241500" stroke-width="0.8" stroke-linejoin="round"/><polygon points="635.62,291.45 639.61,291.45 641.95,317.13 637.96,317.13" fill="#E9A93F" stroke="#241500" stroke-width="0.8" stroke-linejoin="round"/><polygon points="402.09,316.96 406.72,316.96 408.42,354.6 403.79,354.6" fill="#EDB24C" stroke="#241500" stroke-width="0.8" stroke-linejoin="round"/><polygon points="322.91,326.97 327.59,326.97 328.39,369.84 323.7,369.84" fill="#EDB24C" stroke="#241500" stroke-width="0.8" stroke-linejoin="round"/><polygon points="215.25,321.85 220.17,321.85 217.76,357.91 212.84,357.91" fill="#E9A93F" stroke="#241500" stroke-width="0.8" stroke-linejoin="round"/><polygon points="664.78,252.03 668.89,252.03 667.46,293.59 663.34,293.59" fill="#D4922B" stroke="#241500" stroke-width="0.8" stroke-linejoin="round"/><polygon points="314.98,346.88 319,346.88 319.26,373.89 315.25,373.89" fill="#E9A93F" stroke="#241500" stroke-width="0.8" stroke-linejoin="round"/><polygon points="177.89,353.04 183.34,353.04 181.57,381.83 176.12,381.83" fill="#E9A93F" stroke="#241500" stroke-width="0.8" stroke-linejoin="round"/><polygon points="508.08,292.12 512.55,292.12 515.5,339.19 511.04,339.19" fill="#E9A93F" stroke="#241500" stroke-width="0.8" stroke-linejoin="round"/><polygon points="316.55,317.55 320.57,317.55 320.83,346.88 316.82,346.88" fill="#D4922B" stroke="#241500" stroke-width="0.8" stroke-linejoin="round"/><polygon points="423.59,326.55 427.49,326.55 429.78,358.21 425.88,358.21" fill="#EDB24C" stroke="#241500" stroke-width="0.8" stroke-linejoin="round"/><polygon points="542.75,272.89 547.88,272.89 547.74,365.26 542.61,365.26" fill="#E9A93F" stroke="#241500" stroke-width="0.8" stroke-linejoin="round"/><polygon points="565.25,329.28 570.13,329.28 571.74,357.45 566.86,357.45" fill="#E9A93F" stroke="#241500" stroke-width="0.8" stroke-linejoin="round"/><polygon points="287.58,345.53 292.32,345.53 290.41,381.76 285.67,381.76" fill="#EDB24C" stroke="#241500" stroke-width="0.8" stroke-linejoin="round"/><polygon points="413.86,313.36 418.02,313.36 415.01,359.71 410.85,359.71" fill="#E9A93F" stroke="#241500" stroke-width="0.8" stroke-linejoin="round"/><polygon points="105.62,336.96 109.75,336.96 109.32,365.44 105.2,365.44" fill="#E9A93F" stroke="#241500" stroke-width="0.8" stroke-linejoin="round"/><polygon points="468.06,274.52 473.5,274.52 470.74,320.7 465.3,320.7" fill="#E9A93F" stroke="#241500" stroke-width="0.8" stroke-linejoin="round"/><polygon points="72.32,295.54 77.7,295.54 78.22,345.02 72.85,345.02" fill="#E9A93F" stroke="#241500" stroke-width="0.8" stroke-linejoin="round"/><polygon points="114.06,340.37 118.88,340.37 118.15,366.47 113.33,366.47" fill="#E9A93F" stroke="#241500" stroke-width="0.8" stroke-linejoin="round"/><polygon points="77.92,349.33 82.92,349.33 82.32,376.53 77.32,376.53" fill="#D4922B" stroke="#241500" stroke-width="0.8" stroke-linejoin="round"/><polygon points="173.65,289.38 178.21,289.38 175.66,381.22 171.11,381.22" fill="#D4922B" stroke="#241500" stroke-width="0.8" stroke-linejoin="round"/><polygon points="176.99,317.95 182.45,317.95 180.68,353.04 175.23,353.04" fill="#D4922B" stroke="#241500" stroke-width="0.8" stroke-linejoin="round"/><polygon points="384.32,285.89 388.89,285.89 386.13,312.2 381.57,312.2" fill="#D4922B" stroke="#241500" stroke-width="0.8" stroke-linejoin="round"/><polygon points="107.59,324.4 112.96,324.4 115.76,339.93 110.39,339.93" fill="#E9A93F" stroke="#241500" stroke-width="0.8" stroke-linejoin="round"/><polygon points="552.74,320.43 558.21,320.43 555.7,361.93 550.24,361.93" fill="#D4922B" stroke="#241500" stroke-width="0.8" stroke-linejoin="round"/><polygon points="594.74,260.38 599.84,260.38 598.2,349.07 593.1,349.07" fill="#D4922B" stroke="#241500" stroke-width="0.8" stroke-linejoin="round"/><polygon points="519.76,282.21 524.28,282.21 525.74,305.48 521.23,305.48" fill="#EDB24C" stroke="#241500" stroke-width="0.8" stroke-linejoin="round"/><polygon points="349.17,279.68 353.11,279.68 354.48,321.38 350.54,321.38" fill="#D4922B" stroke="#241500" stroke-width="0.8" stroke-linejoin="round"/><polygon points="625.98,268.55 631.39,268.55 632.73,320.65 627.32,320.65" fill="#D4922B" stroke="#241500" stroke-width="0.8" stroke-linejoin="round"/><polygon points="123.62,352.25 127.79,352.25 129.08,373.64 124.91,373.64" fill="#E9A93F" stroke="#241500" stroke-width="0.8" stroke-linejoin="round"/><polygon points="397.68,272.96 402.61,272.96 402.46,301.32 397.53,301.32" fill="#D4922B" stroke="#241500" stroke-width="0.8" stroke-linejoin="round"/><polygon points="199.88,293.63 204.45,293.63 201.91,382.92 197.34,382.92" fill="#EDB24C" stroke="#241500" stroke-width="0.8" stroke-linejoin="round"/><polygon points="287.48,323.73 292.22,323.73 290.32,345.53 285.57,345.53" fill="#E9A93F" stroke="#241500" stroke-width="0.8" stroke-linejoin="round"/><polygon points="137.95,330.29 143.43,330.29 145.18,380.13 139.7,380.13" fill="#D4922B" stroke="#241500" stroke-width="0.8" stroke-linejoin="round"/><polygon points="333.35,277.14 338.72,277.14 340.16,365.1 334.79,365.1" fill="#E9A93F" stroke="#241500" stroke-width="0.8" stroke-linejoin="round"/><polygon points="620.91,263.26 625.81,263.26 627.03,324.24 622.12,324.24" fill="#D4922B" stroke="#241500" stroke-width="0.8" stroke-linejoin="round"/><polygon points="272.8,294.26 277.46,294.26 275.43,320.34 270.77,320.34" fill="#D4922B" stroke="#241500" stroke-width="0.8" stroke-linejoin="round"/><polygon points="268.46,339.81 272.73,339.81 269.75,383.55 265.48,383.55" fill="#EDB24C" stroke="#241500" stroke-width="0.8" stroke-linejoin="round"/><polygon points="577.01,304.88 580.93,304.88 580.86,353.87 576.94,353.87" fill="#EDB24C" stroke="#241500" stroke-width="0.8" stroke-linejoin="round"/><polygon points="177.87,289.49 183.32,289.49 181.55,317.95 176.1,317.95" fill="#E9A93F" stroke="#241500" stroke-width="0.8" stroke-linejoin="round"/><polygon points="76.17,330.14 81.17,330.14 80.57,349.33 75.56,349.33" fill="#E9A93F" stroke="#241500" stroke-width="0.8" stroke-linejoin="round"/><polygon points="386.62,276.96 390.62,276.96 393.12,343.1 389.12,343.1" fill="#D4922B" stroke="#241500" stroke-width="0.8" stroke-linejoin="round"/><polygon points="133.7,287.4 137.55,287.4 139.51,378.23 135.66,378.23" fill="#EDB24C" stroke="#241500" stroke-width="0.8" stroke-linejoin="round"/><polygon points="92.02,311.97 96.32,311.97 97.74,370.2 93.44,370.2" fill="#EDB24C" stroke="#241500" stroke-width="0.8" stroke-linejoin="round"/><polygon points="239.05,319.66 243.22,319.66 246.31,339.41 242.13,339.41" fill="#E9A93F" stroke="#241500" stroke-width="0.8" stroke-linejoin="round"/><polygon points="610.91,298.61 615.01,298.61 615.91,333.05 611.81,333.05" fill="#E9A93F" stroke="#241500" stroke-width="0.8" stroke-linejoin="round"/><polygon points="552.78,270.82 558.25,270.82 555.74,320.43 550.28,320.43" fill="#E9A93F" stroke="#241500" stroke-width="0.8" stroke-linejoin="round"/><polygon points="711.63,259.09 717.11,259.09 718.25,342.91 712.78,342.91" fill="#D4922B" stroke="#241500" stroke-width="0.8" stroke-linejoin="round"/><polygon points="319.34,341.94 323.3,341.94 324.71,370.23 320.75,370.23" fill="#E9A93F" stroke="#241500" stroke-width="0.8" stroke-linejoin="round"/><polygon points="378.86,305.1 382.89,305.1 380.35,323.46 376.32,323.46" fill="#EDB24C" stroke="#241500" stroke-width="0.8" stroke-linejoin="round"/><polygon points="693.87,253.69 697.72,253.69 694.66,344.43 690.81,344.43" fill="#E9A93F" stroke="#241500" stroke-width="0.8" stroke-linejoin="round"/><polygon points="445.41,276.51 449.55,276.51 451.17,317.23 447.02,317.23" fill="#D4922B" stroke="#241500" stroke-width="0.8" stroke-linejoin="round"/><polygon points="300.93,285.69 305.64,285.69 303.66,317.88 298.95,317.88" fill="#E9A93F" stroke="#241500" stroke-width="0.8" stroke-linejoin="round"/><polygon points="431.83,274.21 436.94,274.21 439.63,315.49 434.53,315.49" fill="#D4922B" stroke="#241500" stroke-width="0.8" stroke-linejoin="round"/><polygon points="605.16,260.72 609.54,260.72 608.66,341.43 604.29,341.43" fill="#EDB24C" stroke="#241500" stroke-width="0.8" stroke-linejoin="round"/><polygon points="329.62,279.47 333.63,279.47 334.98,365.45 330.96,365.45" fill="#D4922B" stroke="#241500" stroke-width="0.8" stroke-linejoin="round"/><polygon points="284.27,338.01 288.96,338.01 286.82,385.31 282.13,385.31" fill="#D4922B" stroke="#241500" stroke-width="0.8" stroke-linejoin="round"/><polygon points="215.34,302.4 220.26,302.4 217.85,321.85 212.93,321.85" fill="#EDB24C" stroke="#241500" stroke-width="0.8" stroke-linejoin="round"/><polygon points="694.61,254.68 699.65,254.68 702.43,342.05 697.39,342.05" fill="#EDB24C" stroke="#241500" stroke-width="0.8" stroke-linejoin="round"/><polygon points="323.15,278.59 327.83,278.59 328.62,326.97 323.94,326.97" fill="#EDB24C" stroke="#241500" stroke-width="0.8" stroke-linejoin="round"/><polygon points="700.98,256.96 706.49,256.96 703.65,279.11 698.13,279.11" fill="#E9A93F" stroke="#241500" stroke-width="0.8" stroke-linejoin="round"/><polygon points="360.6,283.51 364.69,283.51 364.37,349.11 360.28,349.11" fill="#EDB24C" stroke="#241500" stroke-width="0.8" stroke-linejoin="round"/><polygon points="415.6,270.23 421,270.23 423,359.72 417.6,359.72" fill="#D4922B" stroke="#241500" stroke-width="0.8" stroke-linejoin="round"/><polygon points="299.7,350.36 304.41,350.36 302.43,377.39 297.72,377.39" fill="#D4922B" stroke="#241500" stroke-width="0.8" stroke-linejoin="round"/><polygon points="82.01,304.77 85.92,304.77 87.3,343.52 83.39,343.52" fill="#EDB24C" stroke="#241500" stroke-width="0.8" stroke-linejoin="round"/><polygon points="130.21,343.98 134.41,343.98 131.3,375.18 127.1,375.18" fill="#D4922B" stroke="#241500" stroke-width="0.8" stroke-linejoin="round"/><polygon points="700.83,318.04 706.35,318.04 703.5,340.86 697.99,340.86" fill="#E9A93F" stroke="#241500" stroke-width="0.8" stroke-linejoin="round"/><polygon points="574,267.55 578.69,267.55 576.64,354.01 571.96,354.01" fill="#D4922B" stroke="#241500" stroke-width="0.8" stroke-linejoin="round"/><polygon points="202.83,344.52 208.22,344.52 208.3,383.97 202.91,383.97" fill="#D4922B" stroke="#241500" stroke-width="0.8" stroke-linejoin="round"/><polygon points="85.83,343.05 90.73,343.05 92.34,373.44 87.44,373.44" fill="#D4922B" stroke="#241500" stroke-width="0.8" stroke-linejoin="round"/><polygon points="674.29,314.88 679.32,314.88 681.97,336.45 676.95,336.45" fill="#E9A93F" stroke="#241500" stroke-width="0.8" stroke-linejoin="round"/><polygon points="113.63,299.5 118.45,299.5 117.72,322.14 112.9,322.14" fill="#EDB24C" stroke="#241500" stroke-width="0.8" stroke-linejoin="round"/><polygon points="642.63,263.44 646.87,263.44 649.14,318.73 644.9,318.73" fill="#EDB24C" stroke="#241500" stroke-width="0.8" stroke-linejoin="round"/><polygon points="258.79,307.13 263.22,307.13 262.42,378.62 257.99,378.62" fill="#D4922B" stroke="#241500" stroke-width="0.8" stroke-linejoin="round"/><polygon points="304.47,289.77 308.96,289.77 308.11,328.33 303.62,328.33" fill="#D4922B" stroke="#241500" stroke-width="0.8" stroke-linejoin="round"/><polygon points="438.28,274.45 443.45,274.45 443.88,321.57 438.71,321.57" fill="#D4922B" stroke="#241500" stroke-width="0.8" stroke-linejoin="round"/><polygon points="484.84,333.68 489.39,333.68 487.72,357.77 483.17,357.77" fill="#EDB24C" stroke="#241500" stroke-width="0.8" stroke-linejoin="round"/><polygon points="123.98,321.91 128.15,321.91 129.44,352.25 125.27,352.25" fill="#EDB24C" stroke="#241500" stroke-width="0.8" stroke-linejoin="round"/><polygon points="195.95,292.93 200.2,292.93 197.36,327.8 193.11,327.8" fill="#E9A93F" stroke="#241500" stroke-width="0.8" stroke-linejoin="round"/><polygon points="546.27,272.65 551.43,272.65 554.35,362.3 549.19,362.3" fill="#EDB24C" stroke="#241500" stroke-width="0.8" stroke-linejoin="round"/><polygon points="261.32,301.12 265.28,301.12 266.93,341.83 262.97,341.83" fill="#D4922B" stroke="#241500" stroke-width="0.8" stroke-linejoin="round"/><polygon points="254.02,311.56 258.37,311.56 256.24,376.39 251.89,376.39" fill="#E9A93F" stroke="#241500" stroke-width="0.8" stroke-linejoin="round"/><polygon points="444.24,317.23 448.38,317.23 450,359.08 445.85,359.08" fill="#E9A93F" stroke="#241500" stroke-width="0.8" stroke-linejoin="round"/><polygon points="379.7,323.46 383.72,323.46 381.18,338.97 377.16,338.97" fill="#E9A93F" stroke="#241500" stroke-width="0.8" stroke-linejoin="round"/><polygon points="131.51,289.84 135.71,289.84 132.61,315.83 128.41,315.83" fill="#E9A93F" stroke="#241500" stroke-width="0.8" stroke-linejoin="round"/><polygon points="636.03,269.02 640.02,269.02 642.37,291.45 638.38,291.45" fill="#D4922B" stroke="#241500" stroke-width="0.8" stroke-linejoin="round"/><polygon points="41.01,311.02 45.39,311.02 43.34,323.31 38.95,323.31" fill="#D4922B" stroke="#241500" stroke-width="0.8" stroke-linejoin="round"/><polygon points="670.47,299.73 675.11,299.73 674.19,335.45 669.55,335.45" fill="#EDB24C" stroke="#241500" stroke-width="0.8" stroke-linejoin="round"/><polygon points="304.37,328.33 308.85,328.33 308,376.31 303.52,376.31" fill="#EDB24C" stroke="#241500" stroke-width="0.8" stroke-linejoin="round"/><polygon points="407.29,309.52 411.44,309.52 412.27,356.66 408.12,356.66" fill="#EDB24C" stroke="#241500" stroke-width="0.8" stroke-linejoin="round"/><polygon points="490.51,282.68 494.67,282.68 496.07,355.37 491.91,355.37" fill="#E9A93F" stroke="#241500" stroke-width="0.8" stroke-linejoin="round"/><polygon points="105.63,308.6 109.75,308.6 109.33,336.96 105.2,336.96" fill="#D4922B" stroke="#241500" stroke-width="0.8" stroke-linejoin="round"/><polygon points="50.13,296.63 54.16,296.63 56.96,359.58 52.94,359.58" fill="#E9A93F" stroke="#241500" stroke-width="0.8" stroke-linejoin="round"/><polygon points="378.77,284.11 382.79,284.11 380.26,305.1 376.23,305.1" fill="#D4922B" stroke="#241500" stroke-width="0.8" stroke-linejoin="round"/><polygon points="451.6,274.11 456.85,274.11 454.3,359.47 449.05,359.47" fill="#EDB24C" stroke="#241500" stroke-width="0.8" stroke-linejoin="round"/><polygon points="272.6,320.34 277.25,320.34 275.22,356.55 270.57,356.55" fill="#E9A93F" stroke="#241500" stroke-width="0.8" stroke-linejoin="round"/><polygon points="220.27,304.06 225.6,304.06 225.64,340.43 220.31,340.43" fill="#EDB24C" stroke="#241500" stroke-width="0.8" stroke-linejoin="round"/><polygon points="681.3,250.77 686.44,250.77 687.21,295.22 682.07,295.22" fill="#D4922B" stroke="#241500" stroke-width="0.8" stroke-linejoin="round"/><polygon points="722.37,263.09 727.14,263.09 726.66,344.18 721.89,344.18" fill="#D4922B" stroke="#241500" stroke-width="0.8" stroke-linejoin="round"/><polygon points="195.15,351.05 199.4,351.05 196.56,385.09 192.32,385.09" fill="#E9A93F" stroke="#241500" stroke-width="0.8" stroke-linejoin="round"/><polygon points="673.13,278.6 678.15,278.6 680.81,314.88 675.78,314.88" fill="#E9A93F" stroke="#241500" stroke-width="0.8" stroke-linejoin="round"/><polygon points="589.61,261.52 595.2,261.52 595.25,348.83 589.66,348.83" fill="#E9A93F" stroke="#241500" stroke-width="0.8" stroke-linejoin="round"/><polygon points="186.53,290.17 191.97,290.17 193.9,343.67 188.46,343.67" fill="#D4922B" stroke="#241500" stroke-width="0.8" stroke-linejoin="round"/><polygon points="44.4,297.65 49.12,297.65 50.78,331.03 46.06,331.03" fill="#E9A93F" stroke="#241500" stroke-width="0.8" stroke-linejoin="round"/><polygon points="59.43,293.55 64.25,293.55 67.05,386.19 62.22,386.19" fill="#E9A93F" stroke="#241500" stroke-width="0.8" stroke-linejoin="round"/><polygon points="496.5,288.5 501.01,288.5 499.04,349.41 494.52,349.41" fill="#E9A93F" stroke="#241500" stroke-width="0.8" stroke-linejoin="round"/><polygon points="473,338.39 477.63,338.39 480.41,365.54 475.78,365.54" fill="#E9A93F" stroke="#241500" stroke-width="0.8" stroke-linejoin="round"/><polygon points="356.56,323.59 360.87,323.59 359.87,355.4 355.56,355.4" fill="#E9A93F" stroke="#241500" stroke-width="0.8" stroke-linejoin="round"/><polygon points="422.16,298.14 426.06,298.14 428.36,326.55 424.45,326.55" fill="#D4922B" stroke="#241500" stroke-width="0.8" stroke-linejoin="round"/><polygon points="137.38,287.36 142.86,287.36 144.61,330.29 139.12,330.29" fill="#E9A93F" stroke="#241500" stroke-width="0.8" stroke-linejoin="round"/><polygon points="81.28,343.52 85.2,343.52 86.58,369.56 82.66,369.56" fill="#D4922B" stroke="#241500" stroke-width="0.8" stroke-linejoin="round"/><polygon points="371.67,283.68 375.94,283.68 374.37,297.89 370.1,297.89" fill="#EDB24C" stroke="#241500" stroke-width="0.8" stroke-linejoin="round"/><polygon points="273.11,356.55 277.77,356.55 275.74,385.16 271.08,385.16" fill="#E9A93F" stroke="#241500" stroke-width="0.8" stroke-linejoin="round"/><polygon points="120.1,332.66 124.78,332.66 123.18,374.73 118.51,374.73" fill="#E9A93F" stroke="#241500" stroke-width="0.8" stroke-linejoin="round"/><polygon points="557.97,272.14 563.27,272.14 560.46,363.4 555.17,363.4" fill="#EDB24C" stroke="#241500" stroke-width="0.8" stroke-linejoin="round"/><polygon points="238.59,339.41 242.76,339.41 245.84,367.65 241.67,367.65" fill="#D4922B" stroke="#241500" stroke-width="0.8" stroke-linejoin="round"/><polygon points="349.33,321.38 353.27,321.38 354.64,356.05 350.69,356.05" fill="#D4922B" stroke="#241500" stroke-width="0.8" stroke-linejoin="round"/><polygon points="261.11,341.83 265.06,341.83 266.71,381.39 262.76,381.39" fill="#EDB24C" stroke="#241500" stroke-width="0.8" stroke-linejoin="round"/><polygon points="727.83,261.16 731.99,261.16 732.05,346.6 727.88,346.6" fill="#E9A93F" stroke="#241500" stroke-width="0.8" stroke-linejoin="round"/><polygon points="147.06,286.13 151.72,286.13 149.1,326.73 144.43,326.73" fill="#E9A93F" stroke="#241500" stroke-width="0.8" stroke-linejoin="round"/><polygon points="146.45,326.73 151.11,326.73 148.49,378 143.83,378" fill="#E9A93F" stroke="#241500" stroke-width="0.8" stroke-linejoin="round"/><polygon points="316.2,280.47 320.22,280.47 320.48,317.55 316.47,317.55" fill="#D4922B" stroke="#241500" stroke-width="0.8" stroke-linejoin="round"/><polygon points="181.19,356.55 185.57,356.55 188.41,382.38 184.02,382.38" fill="#E9A93F" stroke="#241500" stroke-width="0.8" stroke-linejoin="round"/><polygon points="584.27,265.17 588.99,265.17 588.01,350.45 583.29,350.45" fill="#E9A93F" stroke="#241500" stroke-width="0.8" stroke-linejoin="round"/><polygon points="716.37,261.37 720.69,261.37 720.57,346.27 716.25,346.27" fill="#D4922B" stroke="#241500" stroke-width="0.8" stroke-linejoin="round"/><polygon points="652.55,294.54 658.04,294.54 657.84,324.52 652.35,324.52" fill="#E9A93F" stroke="#241500" stroke-width="0.8" stroke-linejoin="round"/><polygon points="706.83,295.19 711.77,295.19 710.83,341.1 705.89,341.1" fill="#E9A93F" stroke="#241500" stroke-width="0.8" stroke-linejoin="round"/><polygon points="180.66,291.25 185.05,291.25 187.89,321.95 183.5,321.95" fill="#E9A93F" stroke="#241500" stroke-width="0.8" stroke-linejoin="round"/><polygon points="706.57,256.51 711.51,256.51 710.57,295.19 705.64,295.19" fill="#EDB24C" stroke="#241500" stroke-width="0.8" stroke-linejoin="round"/><polygon points="485.86,283.35 490.41,283.35 488.75,304.13 484.2,304.13" fill="#EDB24C" stroke="#241500" stroke-width="0.8" stroke-linejoin="round"/><polygon points="162.91,289.76 168.48,289.76 166.56,336.16 161,336.16" fill="#E9A93F" stroke="#241500" stroke-width="0.8" stroke-linejoin="round"/><polygon points="536.8,276.65 540.83,276.65 538.21,360.44 534.17,360.44" fill="#D4922B" stroke="#241500" stroke-width="0.8" stroke-linejoin="round"/><polygon points="518.41,328.03 522.92,328.03 524.39,347.84 519.88,347.84" fill="#D4922B" stroke="#241500" stroke-width="0.8" stroke-linejoin="round"/><polygon points="524.45,282.17 529,282.17 529.87,349.01 525.32,349.01" fill="#D4922B" stroke="#241500" stroke-width="0.8" stroke-linejoin="round"/><polygon points="215.71,357.91 220.63,357.91 218.22,380.64 213.3,380.64" fill="#E9A93F" stroke="#241500" stroke-width="0.8" stroke-linejoin="round"/><polygon points="468.67,320.7 474.11,320.7 471.35,367.58 465.91,367.58" fill="#EDB24C" stroke="#241500" stroke-width="0.8" stroke-linejoin="round"/><polygon points="518.62,305.48 523.14,305.48 524.6,328.03 520.09,328.03" fill="#E9A93F" stroke="#241500" stroke-width="0.8" stroke-linejoin="round"/><polygon points="599.53,260.9 604.8,260.9 604.93,342.74 599.66,342.74" fill="#D4922B" stroke="#241500" stroke-width="0.8" stroke-linejoin="round"/><polygon points="235.13,322.01 240.2,322.01 242.24,369.41 237.17,369.41" fill="#EDB24C" stroke="#241500" stroke-width="0.8" stroke-linejoin="round"/><polygon points="181.83,321.95 186.21,321.95 189.05,356.55 184.66,356.55" fill="#D4922B" stroke="#241500" stroke-width="0.8" stroke-linejoin="round"/><polygon points="401.18,270.94 405.81,270.94 407.5,316.96 402.88,316.96" fill="#D4922B" stroke="#241500" stroke-width="0.8" stroke-linejoin="round"/><polygon points="209.03,337.51 213.56,337.51 216.64,380.67 212.11,380.67" fill="#D4922B" stroke="#241500" stroke-width="0.8" stroke-linejoin="round"/><polygon points="504.84,326.75 509.73,326.75 509.07,344.5 504.18,344.5" fill="#EDB24C" stroke="#241500" stroke-width="0.8" stroke-linejoin="round"/><polygon points="288.73,288.95 293.47,288.95 291.57,323.73 286.82,323.73" fill="#E9A93F" stroke="#241500" stroke-width="0.8" stroke-linejoin="round"/><polygon points="663.84,293.59 667.95,293.59 666.51,327.48 662.4,327.48" fill="#D4922B" stroke="#241500" stroke-width="0.8" stroke-linejoin="round"/><polygon points="565.79,301.84 570.67,301.84 572.27,329.28 567.39,329.28" fill="#D4922B" stroke="#241500" stroke-width="0.8" stroke-linejoin="round"/><polygon points="531.09,277.67 534.9,277.67 535.5,355.13 531.69,355.13" fill="#D4922B" stroke="#241500" stroke-width="0.8" stroke-linejoin="round"/><polygon points="219.74,340.43 225.06,340.43 225.1,375.37 219.77,375.37" fill="#E9A93F" stroke="#241500" stroke-width="0.8" stroke-linejoin="round"/><polygon points="355.82,282.74 360.13,282.74 359.13,323.59 354.82,323.59" fill="#D4922B" stroke="#241500" stroke-width="0.8" stroke-linejoin="round"/><polygon points="372.25,326.58 376.52,326.58 374.94,341.21 370.68,341.21" fill="#D4922B" stroke="#241500" stroke-width="0.8" stroke-linejoin="round"/><polygon points="576.93,265.64 580.85,265.64 580.78,304.88 576.86,304.88" fill="#E9A93F" stroke="#241500" stroke-width="0.8" stroke-linejoin="round"/><polygon points="277.61,292.53 283.13,292.53 280.71,382.36 275.18,382.36" fill="#EDB24C" stroke="#241500" stroke-width="0.8" stroke-linejoin="round"/><polygon points="433.58,315.49 438.69,315.49 441.38,362.54 436.28,362.54" fill="#E9A93F" stroke="#241500" stroke-width="0.8" stroke-linejoin="round"/><polygon points="365.54,286.32 370.15,286.32 372.23,345.76 367.62,345.76" fill="#EDB24C" stroke="#241500" stroke-width="0.8" stroke-linejoin="round"/><polygon points="149.69,287 154.64,287 155.3,376.44 150.36,376.44" fill="#E9A93F" stroke="#241500" stroke-width="0.8" stroke-linejoin="round"/><polygon points="414.02,269.55 418.18,269.55 415.17,313.36 411.02,313.36" fill="#E9A93F" stroke="#241500" stroke-width="0.8" stroke-linejoin="round"/><polygon points="649.99,256.79 654.26,256.79 651.75,317.51 647.47,317.51" fill="#D4922B" stroke="#241500" stroke-width="0.8" stroke-linejoin="round"/><polygon points="462.37,273.4 467.24,273.4 467.4,367.29 462.53,367.29" fill="#D4922B" stroke="#241500" stroke-width="0.8" stroke-linejoin="round"/><polygon points="294.11,335.29 298.59,335.29 297.43,379.5 292.95,379.5" fill="#E9A93F" stroke="#241500" stroke-width="0.8" stroke-linejoin="round"/><polygon points="72.68,345.02 78.05,345.02 78.57,383.82 73.2,383.82" fill="#D4922B" stroke="#241500" stroke-width="0.8" stroke-linejoin="round"/><polygon points="614.71,264.37 619.48,264.37 620.31,294.21 615.55,294.21" fill="#EDB24C" stroke="#241500" stroke-width="0.8" stroke-linejoin="round"/><polygon points="482.29,277.52 486.57,277.52 483.44,362.42 479.17,362.42" fill="#E9A93F" stroke="#241500" stroke-width="0.8" stroke-linejoin="round"/><polygon points="472.13,302.79 476.76,302.79 479.54,338.39 474.91,338.39" fill="#E9A93F" stroke="#241500" stroke-width="0.8" stroke-linejoin="round"/><polygon points="421.9,267.06 425.8,267.06 428.09,298.14 424.19,298.14" fill="#E9A93F" stroke="#241500" stroke-width="0.8" stroke-linejoin="round"/><polygon points="131.44,315.83 135.64,315.83 132.54,343.98 128.34,343.98" fill="#E9A93F" stroke="#241500" stroke-width="0.8" stroke-linejoin="round"/><polygon points="371.93,297.89 376.2,297.89 374.62,326.58 370.36,326.58" fill="#E9A93F" stroke="#241500" stroke-width="0.8" stroke-linejoin="round"/><polygon points="686.61,294.11 691.96,294.11 690.11,339.94 684.76,339.94" fill="#E9A93F" stroke="#241500" stroke-width="0.8" stroke-linejoin="round"/><polygon points="504.97,292.47 509.86,292.47 509.2,305.2 504.32,305.2" fill="#E9A93F" stroke="#241500" stroke-width="0.8" stroke-linejoin="round"/><polygon points="310.06,337.42 315.11,337.42 314.01,373.07 308.96,373.07" fill="#D4922B" stroke="#241500" stroke-width="0.8" stroke-linejoin="round"/><polygon points="167.31,289.44 172.68,289.44 172.68,382.47 167.31,382.47" fill="#EDB24C" stroke="#241500" stroke-width="0.8" stroke-linejoin="round"/><polygon points="396.52,320.93 401.45,320.93 401.29,354.38 396.36,354.38" fill="#D4922B" stroke="#241500" stroke-width="0.8" stroke-linejoin="round"/><polygon points="430.7,268.79 436.29,268.79 433.51,362.16 427.91,362.16" fill="#E9A93F" stroke="#241500" stroke-width="0.8" stroke-linejoin="round"/><polygon points="347.88,280.28 352.45,280.28 349.81,358.5 345.24,358.5" fill="#D4922B" stroke="#241500" stroke-width="0.8" stroke-linejoin="round"/><polygon points="232.24,315.52 236.25,315.52 233.52,369.07 229.5,369.07" fill="#E9A93F" stroke="#241500" stroke-width="0.8" stroke-linejoin="round"/><polygon points="268.71,298.59 272.99,298.59 270.01,339.81 265.73,339.81" fill="#EDB24C" stroke="#241500" stroke-width="0.8" stroke-linejoin="round"/><polygon points="187.04,343.67 192.49,343.67 194.41,384.41 188.97,384.41" fill="#D4922B" stroke="#241500" stroke-width="0.8" stroke-linejoin="round"/><polygon points="310.87,284.58 315.92,284.58 314.82,307.61 309.77,307.61" fill="#D4922B" stroke="#241500" stroke-width="0.8" stroke-linejoin="round"/><polygon points="65.39,345.79 70.15,345.79 71.76,387.12 67,387.12" fill="#EDB24C" stroke="#241500" stroke-width="0.8" stroke-linejoin="round"/><polygon points="514.2,292.11 519.47,292.11 521.37,315.21 516.1,315.21" fill="#D4922B" stroke="#241500" stroke-width="0.8" stroke-linejoin="round"/><polygon points="339.07,276.08 344.06,276.08 343.99,363.46 339,363.46" fill="#EDB24C" stroke="#241500" stroke-width="0.8" stroke-linejoin="round"/><polygon points="107.39,339.93 112.76,339.93 115.56,363.09 110.19,363.09" fill="#E9A93F" stroke="#241500" stroke-width="0.8" stroke-linejoin="round"/><polygon points="611.61,260.83 615.72,260.83 616.61,298.61 612.51,298.61" fill="#D4922B" stroke="#241500" stroke-width="0.8" stroke-linejoin="round"/><polygon points="318.78,279.12 322.74,279.12 324.15,308.82 320.19,308.82" fill="#EDB24C" stroke="#241500" stroke-width="0.8" stroke-linejoin="round"/><polygon points="319.01,308.82 322.98,308.82 324.39,341.94 320.42,341.94" fill="#D4922B" stroke="#241500" stroke-width="0.8" stroke-linejoin="round"/><polygon points="115.24,322.14 120.06,322.14 119.33,340.37 114.51,340.37" fill="#D4922B" stroke="#241500" stroke-width="0.8" stroke-linejoin="round"/><polygon points="300.7,317.88 305.4,317.88 303.42,350.36 298.72,350.36" fill="#E9A93F" stroke="#241500" stroke-width="0.8" stroke-linejoin="round"/><polygon points="284.59,290.67 289.28,290.67 287.13,338.01 282.44,338.01" fill="#D4922B" stroke="#241500" stroke-width="0.8" stroke-linejoin="round"/><polygon points="497.83,294.75 502.49,294.75 505.43,341.94 500.78,341.94" fill="#E9A93F" stroke="#241500" stroke-width="0.8" stroke-linejoin="round"/><polygon points="119.93,296.79 124.6,296.79 123.01,332.66 118.33,332.66" fill="#D4922B" stroke="#241500" stroke-width="0.8" stroke-linejoin="round"/><polygon points="669.29,251.65 673.93,251.65 673.01,299.73 668.37,299.73" fill="#EDB24C" stroke="#241500" stroke-width="0.8" stroke-linejoin="round"/><polygon points="438.57,321.57 443.74,321.57 444.17,358.64 439.01,358.64" fill="#D4922B" stroke="#241500" stroke-width="0.8" stroke-linejoin="round"/><polygon points="562.3,268.36 566.55,268.36 564.9,358.49 560.66,358.49" fill="#EDB24C" stroke="#241500" stroke-width="0.8" stroke-linejoin="round"/><polygon points="653.05,255.89 658.53,255.89 658.33,294.54 652.84,294.54" fill="#E9A93F" stroke="#241500" stroke-width="0.8" stroke-linejoin="round"/><polygon points="392.81,276.25 398.01,276.25 395.32,349.89 390.12,349.89" fill="#EDB24C" stroke="#241500" stroke-width="0.8" stroke-linejoin="round"/><polygon points="106.84,305.99 112.21,305.99 115.01,324.4 109.65,324.4" fill="#E9A93F" stroke="#241500" stroke-width="0.8" stroke-linejoin="round"/><polygon points="629.38,268.79 634.79,268.79 637.7,316.83 632.29,316.83" fill="#D4922B" stroke="#241500" stroke-width="0.8" stroke-linejoin="round"/><polygon points="503.64,305.2 508.52,305.2 507.86,326.75 502.98,326.75" fill="#D4922B" stroke="#241500" stroke-width="0.8" stroke-linejoin="round"/><polygon points="123.87,291.29 128.04,291.29 129.33,321.91 125.16,321.91" fill="#E9A93F" stroke="#241500" stroke-width="0.8" stroke-linejoin="round"/><polygon points="162.52,336.16 168.08,336.16 166.16,382.09 160.6,382.09" fill="#E9A93F" stroke="#241500" stroke-width="0.8" stroke-linejoin="round"/><polygon points="397.04,301.32 401.97,301.32 401.81,320.93 396.88,320.93" fill="#D4922B" stroke="#241500" stroke-width="0.8" stroke-linejoin="round"/><polygon points="208.74,296.08 213.26,296.08 216.34,337.51 211.81,337.51" fill="#D4922B" stroke="#241500" stroke-width="0.8" stroke-linejoin="round"/><polygon points="565.67,271.25 570.55,271.25 572.16,301.84 567.28,301.84" fill="#EDB24C" stroke="#241500" stroke-width="0.8" stroke-linejoin="round"/><polygon points="195.1,327.8 199.35,327.8 196.51,351.05 192.27,351.05" fill="#D4922B" stroke="#241500" stroke-width="0.8" stroke-linejoin="round"/><polygon points="673.63,254.74 678.65,254.74 681.3,278.6 676.28,278.6" fill="#E9A93F" stroke="#241500" stroke-width="0.8" stroke-linejoin="round"/><polygon points="247.65,342.61 251.79,342.61 250.83,369.94 246.69,369.94" fill="#D4922B" stroke="#241500" stroke-width="0.8" stroke-linejoin="round"/><polygon points="156.55,284.7 160.65,284.7 160.87,378.75 156.77,378.75" fill="#D4922B" stroke="#241500" stroke-width="0.8" stroke-linejoin="round"/><polygon points="454.48,274.14 460,274.14 461.17,362.12 455.65,362.12" fill="#E9A93F" stroke="#241500" stroke-width="0.8" stroke-linejoin="round"/><polygon points="225.88,310.37 229.81,310.37 232.48,369.81 228.55,369.81" fill="#E9A93F" stroke="#241500" stroke-width="0.8" stroke-linejoin="round"/><polygon points="406.84,267.2 410.99,267.2 411.82,309.52 407.67,309.52" fill="#EDB24C" stroke="#241500" stroke-width="0.8" stroke-linejoin="round"/><polygon points="680.53,295.22 685.67,295.22 686.45,340.3 681.3,340.3" fill="#D4922B" stroke="#241500" stroke-width="0.8" stroke-linejoin="round"/><polygon points="294.17,287.67 298.65,287.67 297.49,335.29 293.02,335.29" fill="#E9A93F" stroke="#241500" stroke-width="0.8" stroke-linejoin="round"/><polygon points="471.11,275.39 475.73,275.39 478.52,302.79 473.89,302.79" fill="#D4922B" stroke="#241500" stroke-width="0.8" stroke-linejoin="round"/><rect x="355.6" y="392.0" width="121.8" height="37.6" rx="6" ry="6" fill="#fff" stroke="#000" stroke-width="1.5"/><text x="365" y="417.8" font-size="27.5" fill="#000">Polymer</text></g>
<text x="802.93" y="28.4" font-size="38" font-weight="bold" fill="#000">b</text>
<g id="panel-b"><rect x="855" y="28" width="399.6" height="399.5" fill="#B4520F"/><rect x="855" y="28" width="399.6" height="399.5" filter="url(#nb)"/><g clip-path="url(#clip-b)"><g filter="url(#soft)"><line x1="855" y1="175.8" x2="1020" y2="175.8" stroke="#7a2300" stroke-width="1.6" opacity="0.55"/><line x1="1030" y1="175.5" x2="1254" y2="175.5" stroke="#E08A3A" stroke-width="1.2" opacity="0.45"/><path d="M969.85 51.35 C971.41 52.24 974.52 55.97 979.19 56.64 C983.86 57.32 994.75 55.61 997.86 55.4" fill="none" stroke="#F0A048" stroke-width="6.6" stroke-linecap="round" opacity="0.7"/><path d="M969.85 51.35 C971.41 52.24 974.52 55.97 979.19 56.64 C983.86 57.32 994.75 55.61 997.86 55.4" fill="none" stroke="#FFF4CC" stroke-width="4" stroke-linecap="round" opacity="1"/><path d="M1058.56 66.92 L1071.01 69.09" fill="none" stroke="#F0A048" stroke-width="6.6" stroke-linecap="round" opacity="0.7"/><path d="M1058.56 66.92 L1071.01 69.09" fill="none" stroke="#FFF4CC" stroke-width="4" stroke-linecap="round" opacity="1"/><path d="M1141.03 126.98 C1143.11 127.4 1149.59 128.96 1153.48 129.47 C1157.37 129.99 1162.56 129.99 1164.38 130.1" fill="none" stroke="#F0A048" stroke-width="6.6" stroke-linecap="round" opacity="0.7"/><path d="M1141.03 126.98 C1143.11 127.4 1149.59 128.96 1153.48 129.47 C1157.37 129.99 1162.56 129.99 1164.38 130.1" fill="none" stroke="#FFF4CC" stroke-width="4" stroke-linecap="round" opacity="1"/><path d="M898.27 106.44 L909.16 109.55" fill="none" stroke="#F0A048" stroke-width="6.6" stroke-linecap="round" opacity="0.7"/><path d="M898.27 106.44 L909.16 109.55" fill="none" stroke="#FFF4CC" stroke-width="4" stroke-linecap="round" opacity="1"/><path d="M908.23 150.95 C909.16 152.25 911.86 156.5 913.83 158.73 C915.8 160.96 919.02 163.4 920.06 164.33" fill="none" stroke="#F0A048" stroke-width="6.6" stroke-linecap="round" opacity="0.7"/><path d="M908.23 150.95 C909.16 152.25 911.86 156.5 913.83 158.73 C915.8 160.96 919.02 163.4 920.06 164.33" fill="none" stroke="#FFF4CC" stroke-width="4" stroke-linecap="round" opacity="1"/><path d="M1077.23 170.56 C1080.08 170.71 1089.01 171.39 1094.35 171.49 C1099.69 171.59 1106.8 171.23 1109.29 171.18" fill="none" stroke="#F0A048" stroke-width="6.6" stroke-linecap="round" opacity="0.7"/><path d="M1077.23 170.56 C1080.08 170.71 1089.01 171.39 1094.35 171.49 C1099.69 171.59 1106.8 171.23 1109.29 171.18" fill="none" stroke="#FFF4CC" stroke-width="4" stroke-linecap="round" opacity="1"/><path d="M991.64 166.51 C991.23 168.22 989.93 173.51 989.15 176.78 C988.37 180.05 987.33 184.56 986.97 186.12" fill="none" stroke="#F0A048" stroke-width="6.6" stroke-linecap="round" opacity="0.7"/><path d="M991.64 166.51 C991.23 168.22 989.93 173.51 989.15 176.78 C988.37 180.05 987.33 184.56 986.97 186.12" fill="none" stroke="#FFF4CC" stroke-width="4" stroke-linecap="round" opacity="1"/><path d="M1172.78 203.86 C1173.71 204.53 1176.67 206.5 1178.38 207.91 C1180.09 209.31 1182.27 211.54 1183.05 212.26" fill="none" stroke="#F0A048" stroke-width="6.6" stroke-linecap="round" opacity="0.7"/><path d="M1172.78 203.86 C1173.71 204.53 1176.67 206.5 1178.38 207.91 C1180.09 209.31 1182.27 211.54 1183.05 212.26" fill="none" stroke="#FFF4CC" stroke-width="4" stroke-linecap="round" opacity="1"/><path d="M1209.51 214.75 L1212.62 225.65" fill="none" stroke="#F0A048" stroke-width="6.6" stroke-linecap="round" opacity="0.7"/><path d="M1209.51 214.75 L1212.62 225.65" fill="none" stroke="#FFF4CC" stroke-width="4" stroke-linecap="round" opacity="1"/><path d="M1169.67 219.42 C1169.04 222.53 1167.18 231.87 1165.93 238.1 C1164.69 244.32 1162.82 253.66 1162.2 256.77" fill="none" stroke="#F0A048" stroke-width="6.6" stroke-linecap="round" opacity="0.7"/><path d="M1169.67 219.42 C1169.04 222.53 1167.18 231.87 1165.93 238.1 C1164.69 244.32 1162.82 253.66 1162.2 256.77" fill="none" stroke="#FFF4CC" stroke-width="4" stroke-linecap="round" opacity="1"/><path d="M1103.69 245.88 L1103.69 253.66" fill="none" stroke="#F0A048" stroke-width="6.6" stroke-linecap="round" opacity="0.7"/><path d="M1103.69 245.88 L1103.69 253.66" fill="none" stroke="#FFF4CC" stroke-width="4" stroke-linecap="round" opacity="1"/><path d="M1091.24 272.33 L1091.24 280.11" fill="none" stroke="#F0A048" stroke-width="6.6" stroke-linecap="round" opacity="0.7"/><path d="M1091.24 272.33 L1091.24 280.11" fill="none" stroke="#FFF4CC" stroke-width="4" stroke-linecap="round" opacity="1"/><path d="M1020.27 281.67 L1022.14 295.67" fill="none" stroke="#F0A048" stroke-width="6.6" stroke-linecap="round" opacity="0.7"/><path d="M1020.27 281.67 L1022.14 295.67" fill="none" stroke="#FFF4CC" stroke-width="4" stroke-linecap="round" opacity="1"/><path d="M934.06 291.01 L943.4 291.01" fill="none" stroke="#F0A048" stroke-width="6.6" stroke-linecap="round" opacity="0.7"/><path d="M934.06 291.01 L943.4 291.01" fill="none" stroke="#FFF4CC" stroke-width="4" stroke-linecap="round" opacity="1"/><path d="M1102.13 329.29 C1102.65 330.95 1104.05 335.93 1105.24 339.25 C1106.43 342.57 1108.61 347.55 1109.29 349.21" fill="none" stroke="#F0A048" stroke-width="6.6" stroke-linecap="round" opacity="0.7"/><path d="M1102.13 329.29 C1102.65 330.95 1104.05 335.93 1105.24 339.25 C1106.43 342.57 1108.61 347.55 1109.29 349.21" fill="none" stroke="#FFF4CC" stroke-width="4" stroke-linecap="round" opacity="1"/><path d="M1228.18 336.13 L1232.85 345.47" fill="none" stroke="#F0A048" stroke-width="6.6" stroke-linecap="round" opacity="0.7"/><path d="M1228.18 336.13 L1232.85 345.47" fill="none" stroke="#FFF4CC" stroke-width="4" stroke-linecap="round" opacity="1"/><path d="M1235.96 325.24 L1232.85 337.69" fill="none" stroke="#F0A048" stroke-width="6.6" stroke-linecap="round" opacity="0.7"/><path d="M1235.96 325.24 L1232.85 337.69" fill="none" stroke="#FFF4CC" stroke-width="4" stroke-linecap="round" opacity="1"/><path d="M1034.59 363.21 L1049.22 363.21" fill="none" stroke="#F0A048" stroke-width="6.6" stroke-linecap="round" opacity="0.7"/><path d="M1034.59 363.21 L1049.22 363.21" fill="none" stroke="#FFF4CC" stroke-width="4" stroke-linecap="round" opacity="1"/><path d="M910.1 367.26 C910.82 369.07 912.9 374.52 914.45 378.15 C916.01 381.78 918.6 387.23 919.43 389.04" fill="none" stroke="#F0A048" stroke-width="6.6" stroke-linecap="round" opacity="0.7"/><path d="M910.1 367.26 C910.82 369.07 912.9 374.52 914.45 378.15 C916.01 381.78 918.6 387.23 919.43 389.04" fill="none" stroke="#FFF4CC" stroke-width="4" stroke-linecap="round" opacity="1"/><path d="M881.15 396.83 L882.71 410.83" fill="none" stroke="#F0A048" stroke-width="6.6" stroke-linecap="round" opacity="0.7"/><path d="M881.15 396.83 L882.71 410.83" fill="none" stroke="#FFF4CC" stroke-width="4" stroke-linecap="round" opacity="1"/><path d="M1008.76 418.61 L1019.65 426.39" fill="none" stroke="#F0A048" stroke-width="6.6" stroke-linecap="round" opacity="0.7"/><path d="M1008.76 418.61 L1019.65 426.39" fill="none" stroke="#FFF4CC" stroke-width="4" stroke-linecap="round" opacity="1"/><path d="M1246.85 37.35 L1251.52 46.69" fill="none" stroke="#F0A048" stroke-width="6.6" stroke-linecap="round" opacity="0.7"/><path d="M1246.85 37.35 L1251.52 46.69" fill="none" stroke="#FFF4CC" stroke-width="4" stroke-linecap="round" opacity="1"/><path d="M1157.22 102.71 L1174.65 89.64" fill="none" stroke="#F0A048" stroke-width="6" stroke-linecap="round" opacity="0.6"/><path d="M1157.22 102.71 L1174.65 89.64" fill="none" stroke="#FFF4CC" stroke-width="4" stroke-linecap="butt" stroke-dasharray="3.6 2.4" opacity="1"/><path d="M1037.7 160.29 L1044.55 154.06" fill="none" stroke="#F0A048" stroke-width="6" stroke-linecap="round" opacity="0.6"/><path d="M1037.7 160.29 L1044.55 154.06" fill="none" stroke="#FFF4CC" stroke-width="4" stroke-linecap="butt" stroke-dasharray="3.6 2.4" opacity="1"/><path d="M1162.2 177.4 L1173.71 164.95" fill="none" stroke="#F0A048" stroke-width="6" stroke-linecap="round" opacity="0.6"/><path d="M1162.2 177.4 L1173.71 164.95" fill="none" stroke="#FFF4CC" stroke-width="4" stroke-linecap="butt" stroke-dasharray="3.6 2.4" opacity="1"/><path d="M1028.37 203.86 L1035.84 194.52" fill="none" stroke="#F0A048" stroke-width="6" stroke-linecap="round" opacity="0.6"/><path d="M1028.37 203.86 L1035.84 194.52" fill="none" stroke="#FFF4CC" stroke-width="4" stroke-linecap="butt" stroke-dasharray="3.6 2.4" opacity="1"/><circle cx="1115.2" cy="119.2" r="5.6" fill="#FFF8E0"/><circle cx="1235.96" cy="323.69" r="3.2" fill="#FFF8E0"/><circle cx="1025.88" cy="342.36" r="2" fill="#FFF8E0"/><circle cx="1200.17" cy="146.28" r="2" fill="#FFF8E0"/><circle cx="899.83" cy="385.93" r="1.8" fill="#FFF8E0"/><circle cx="932.51" cy="389.04" r="1.8" fill="#FFF8E0"/><circle cx="857.81" cy="73.76" r="2" fill="#FFF8E0"/><circle cx="1100.57" cy="395.27" r="1.6" fill="#FFF8E0"/><circle cx="1172.16" cy="359.48" r="1.6" fill="#FFF8E0"/><circle cx="935.62" cy="291.01" r="1.8" fill="#FFF8E0"/></g></g><line x1="1149.4" y1="236.6" x2="1182" y2="236.6" stroke="#00F4F4" stroke-width="4.3"/><text x="868.19" y="61.6" font-size="27" font-weight="bold" fill="#fff">Seeds</text><rect x="1160.2" y="392.4" width="80.2" height="6.8" fill="#fff"/><text x="1158.41" y="386.6" font-size="23.4" font-weight="bold" fill="#fff">300 nm</text><rect x="1254.3" y="28" width="111.4" height="399.5" fill="#000"/><polygon points="1254.3,28 1265.53,28.01 1261.79,46.69 1258.37,68.47 1257.75,93.37 1261.79,108.93 1266.15,126.98 1261.79,146.28 1257.75,161.22 1268.64,177.4 1281.09,194.52 1309.1,205.42 1362.01,227.82 1327.77,244.32 1295.09,260.82 1281.09,278.56 1269.26,294.12 1271.75,326.8 1271.13,354.81 1265.53,373.48 1259.93,393.71 1259.3,427.33 1254.3,427.5" fill="#FF8000" stroke="none" stroke-width="1"/><text transform="translate(1298.9 287) rotate(90)" font-size="27.2" fill="#fff">3.4 nm</text></g>
<text x="1415.08" y="28.4" font-size="38" font-weight="bold" fill="#000">c</text>
<g id="panel-c"><rect x="1552.88" y="311.35" width="14.48" height="115.05" fill="#DC9B30" stroke="#6b5020" stroke-width="0.9"/><rect x="1567.35" y="64.25" width="14.48" height="362.15" fill="#DC9B30" stroke="#6b5020" stroke-width="0.9"/><rect x="1581.83" y="101.09" width="14.48" height="325.31" fill="#DC9B30" stroke="#6b5020" stroke-width="0.9"/><rect x="1596.3" y="242.21" width="14.48" height="184.19" fill="#DC9B30" stroke="#6b5020" stroke-width="0.9"/><rect x="1610.78" y="358.73" width="14.48" height="67.67" fill="#DC9B30" stroke="#6b5020" stroke-width="0.9"/><rect x="1625.26" y="379.59" width="14.48" height="46.81" fill="#DC9B30" stroke="#6b5020" stroke-width="0.9"/><rect x="1639.73" y="405.43" width="14.48" height="20.97" fill="#DC9B30" stroke="#6b5020" stroke-width="0.9"/><rect x="1654.21" y="421.3" width="14.48" height="5.1" fill="#DC9B30" stroke="#6b5020" stroke-width="0.9"/><rect x="1712.11" y="421.3" width="14.48" height="5.1" fill="#DC9B30" stroke="#6b5020" stroke-width="0.9"/><rect x="1538.4" y="29.5" width="361.9" height="396.9" fill="none" stroke="#000" stroke-width="2.7"/><line x1="1538.4" y1="426.4" x2="1538.4" y2="435" stroke="#000" stroke-width="2.7"/><line x1="1610.78" y1="426.4" x2="1610.78" y2="435" stroke="#000" stroke-width="2.7"/><line x1="1683.16" y1="426.4" x2="1683.16" y2="435" stroke="#000" stroke-width="2.7"/><line x1="1755.54" y1="426.4" x2="1755.54" y2="435" stroke="#000" stroke-width="2.7"/><line x1="1827.92" y1="426.4" x2="1827.92" y2="435" stroke="#000" stroke-width="2.7"/><line x1="1900.3" y1="426.4" x2="1900.3" y2="435" stroke="#000" stroke-width="2.7"/><line x1="1574.59" y1="426.4" x2="1574.59" y2="431.2" stroke="#000" stroke-width="2.7"/><line x1="1646.97" y1="426.4" x2="1646.97" y2="431.2" stroke="#000" stroke-width="2.7"/><line x1="1719.35" y1="426.4" x2="1719.35" y2="431.2" stroke="#000" stroke-width="2.7"/><line x1="1791.73" y1="426.4" x2="1791.73" y2="431.2" stroke="#000" stroke-width="2.7"/><line x1="1864.11" y1="426.4" x2="1864.11" y2="431.2" stroke="#000" stroke-width="2.7"/><line x1="1529.8" y1="426.4" x2="1538.4" y2="426.4" stroke="#000" stroke-width="2.7"/><line x1="1529.8" y1="313.05" x2="1538.4" y2="313.05" stroke="#000" stroke-width="2.7"/><line x1="1529.8" y1="199.7" x2="1538.4" y2="199.7" stroke="#000" stroke-width="2.7"/><line x1="1529.8" y1="86.35" x2="1538.4" y2="86.35" stroke="#000" stroke-width="2.7"/><line x1="1533.6" y1="369.72" x2="1538.4" y2="369.72" stroke="#000" stroke-width="2.7"/><line x1="1533.6" y1="256.38" x2="1538.4" y2="256.38" stroke="#000" stroke-width="2.7"/><line x1="1533.6" y1="143.02" x2="1538.4" y2="143.02" stroke="#000" stroke-width="2.7"/><text x="1482.34" y="435.09" font-size="27.5" fill="#000">0.0</text><text x="1482.61" y="321.74" font-size="27.5" fill="#000">0.1</text><text x="1482.75" y="208.39" font-size="27.5" fill="#000">0.2</text><text x="1482.47" y="95.04" font-size="27.5" fill="#000">0.3</text><text x="1529.7" y="463.9" font-size="27.5" fill="#000">0</text><text x="1585.14" y="463.9" font-size="27.5" fill="#000">100</text><text x="1657.86" y="463.9" font-size="27.5" fill="#000">200</text><text x="1730.38" y="463.9" font-size="27.5" fill="#000">300</text><text x="1803.03" y="463.9" font-size="27.5" fill="#000">400</text><text x="1875.14" y="463.9" font-size="27.5" fill="#000">500</text><text x="1591.42" y="495.6" font-size="27.5" fill="#000">Contour length (nm)</text><text transform="translate(1470.2 378.3) rotate(-90)" font-size="27.5" text-anchor="start" fill="#000">Normalized frequency</text></g>
<text x="-0.32" y="562.3" font-size="38" font-weight="bold" fill="#000">d</text>
<g id="panel-d"><polyline points="218.5,611.84 219.5,617.28 220.5,619.38 221.5,614.26 222.5,611.48 223.5,615.78 224.5,617.63 225.5,619.73 226.5,611.87 227.5,611.6 228.5,618.4 229.5,617.61 230.5,621.21 231.5,619.34 232.5,615.65 233.5,615.07 234.5,624.74 235.5,615.02 236.5,613.33 237.5,612.13 238.5,616.32 239.5,616.49 240.5,614.83 241.5,615.79 242.5,616.93 243.5,618.35 244.5,619.73 245.5,616.71 246.5,609.91 247.5,618.39 248.5,611.17 249.5,615.42 250.5,610.99 251.5,616.01 252.5,613.35 253.5,616.73 254.5,627.22 255.5,615.83 256.5,618.86 257.5,611.5 258.5,615.02 259.5,618.25 260.5,615.68 261.5,617.26 262.5,616.35 263.5,612.58 264.5,617.92 265.5,613.24 266.5,622.36 267.5,614.28 268.5,618.33 269.5,616.01 270.5,619.24 271.5,613.95 272.5,619.4 273.5,615.58 274.5,620.3 275.5,618.12 276.5,616.48 277.5,613.35 278.5,618.61 279.5,617.59 280.5,621.58 281.5,614.72 282.5,617.89 283.5,617.73 284.5,616.96 285.5,616.71 286.5,616.62 287.5,613.97 288.5,612.55 289.5,614.65 290.5,618.01 291.5,621.14 292.5,619.32 293.5,619.58 294.5,618.64 295.5,618.37 296.5,616.62 297.5,618.62 298.5,622.03 299.5,614.89 300.5,613.64 301.5,622.66 302.5,616.83 303.5,619.3 304.5,618.97 305.5,612.14 306.5,624.27 307.5,622.04 308.5,616.6 309.5,618.56 310.5,616.43 311.5,612.99 312.5,615.62 313.5,617.27 314.5,619.79 315.5,618.41 316.5,616.2 317.5,620.61 318.5,613.41 319.5,618.7 320.5,619.78 321.5,615.01 322.5,609.91 323.5,612.92 324.5,616.81 325.5,617.79 326.5,621.26 327.5,612.59 328.5,616.01 329.5,618.21 330.5,615.46 331.5,607.94 332.5,618.74 333.5,623.86 334.5,619.41 335.5,612.88 336.5,614.6 337.5,616.75 338.5,624.46 339.5,618.1 340.5,616.39 341.5,621.3 342.5,615.72 343.5,622.33 344.5,613.67 345.5,614.39 346.5,618.45 347.5,620.84 348.5,618.22 349.5,617.03 350.5,609.81 351.5,613.58 352.5,613.92 353.5,614.19 354.5,617.99 355.5,614.86 356.5,618.68 357.5,616.28 358.5,614.87 359.5,616.4 360.5,617.46 361.5,618.92 362.5,614.38 363.5,615.21 364.5,611.36 365.5,621.45 366.5,620.94 367.5,615.39 368.5,614.37 369.5,611.8 370.5,616.58 371.5,616.7 372.5,623.42 373.5,616.84 374.5,613.36 375.5,607.69 376.5,620.79 377.5,616.64 378.5,610.53 379.5,616.61 380.5,610.53 381.5,627.83 382.5,619.8 383.5,617.95 384.5,615.4 385.5,608.72 386.5,615.57 387.5,610.71 388.5,618.03 389.5,608.73 390.5,612.91 391.5,620.15 392.5,621.59 393.5,611.98 394.5,610.78 395.5,618.99 396.5,618.9 397.5,612.65 398.5,613.64 399.5,613.64 400.5,611.96 401.5,613.69 402.5,620.25 403.5,618.34 404.5,622.99 405.5,615.71 406.5,615.54 407.5,612.66 408.5,615.58 409.5,611.54 410.5,609.96 411.5,618.37 412.5,620.9 413.5,618.85 414.5,620.53 415.5,616.86 416.5,613.56 417.5,616.29 418.5,614.73 419.5,612.22 420.5,610.25 421.5,610.96 422.5,615.98 423.5,616.51 424.5,614.39 425.5,620.86 426.5,616.61 427.5,617.98 428.5,620.14 429.5,613.21 430.5,609.3 431.5,618.56 432.5,613.66 433.5,620.46 434.5,617.15 435.5,619.42 436.5,618.6 437.5,608.93 438.5,618.45 439.5,613.71 440.5,613.43 441.5,614.52 442.5,618.61 443.5,619.01 444.5,619.44 445.5,610.36 446.5,613.99 447.5,607.92 448.5,615.65 449.5,618.04 450.5,613.4 451.5,616.83 452.5,616.79 453.5,619.43 454.5,613.21 455.5,613.18 456.5,613.4 457.5,621.96 458.5,619.71 459.5,615.58 460.5,616.77 461.5,616.39 462.5,616.69 463.5,615.29 464.5,614.86 465.5,611.73 466.5,613.82 467.5,621.61 468.5,617.82 469.5,616.22 470.5,615.27 471.5,616.21 472.5,617.2 473.5,613.8 474.5,616.67 475.5,616.82 476.5,613.45 477.5,613.32 478.5,612.6 479.5,612.38 480.5,619.03 481.5,607.98 482.5,615.09 483.5,613.92 484.5,613.89 485.5,616.33 486.5,619.83 487.5,616.26 488.5,615.52 489.5,613.92 490.5,615.56 491.5,619.1 492.5,614.66 493.5,612.1 494.5,611.7 495.5,612.24 496.5,611.27 497.5,619.74 498.5,617.21 499.5,615.19 500.5,620.96 501.5,613.76 502.5,618.56 503.5,618.72 504.5,610.74 505.5,610.71 506.5,612.85 507.5,619.08 508.5,620.41 509.5,611.83 510.5,619.57 511.5,614.7 512.5,614.66 513.5,614.13 514.5,614.9 515.5,609.82 516.5,612.6 517.5,611.8 518.5,617.67 519.5,623.1 520.5,625.29 521.5,614.86 522.5,610.15 523.5,614.62 524.5,612.81 525.5,622.74 526.5,617.94 527.5,613.52 528.5,619.18 529.5,617.82 530.5,610.47 531.5,614.19 532.5,615.19 533.5,616.06 534.5,616.45 535.5,614.85 536.5,616.65 537.5,614.01 538.5,612.95 539.5,621.15 540.5,617.22 541.5,617.49 542.5,610.58 543.5,615.43 544.5,618.79 545.5,611.61 546.5,619.73 547.5,614.68 548.5,617.37 549.5,615.55 550.5,616.74 551.5,620.09 552.5,614.63 553.5,621.32 554.5,613.34 555.5,612.83 556.5,618.42 557.5,612.38 558.5,614.74 559.5,619.08 560.5,620.12 561.5,609.97 562.5,617.72 563.5,622.4 564.5,620.06 565.5,615.18 566.5,613.96 567.5,614.99 568.5,612.08 569.5,615.1 570.5,615.36 571.5,615.5 572.5,620.02 573.5,615.22 574.5,611.04 575.5,619.57 576.5,612.35 577.5,614.48 578.5,615.55 579.5,614.83 580.5,612.59 581.5,615.15 582.5,623.43 583.5,613.94 584.5,615.54 585.5,619.82 586.5,618.53 587.5,618.6 588.5,618.93 589.5,609.31 590.5,613.06 591.5,616.44 592.5,617.7 593.5,620.4 594.5,617.6 595.5,615.19 596.5,616.13 597.5,615.28 598.5,616.84" fill="none" stroke="#808080" stroke-width="5.5" stroke-linejoin="round" stroke-linecap="round"/><polyline points="108.5,621.56 109.5,617.65 110.5,615.79 111.5,615.57 112.5,622.93 113.5,623.57 114.5,622.41 115.5,621.83 116.5,621.68 117.5,618.45 118.5,620.92 119.5,614.34 120.5,617.51 121.5,615.43 122.5,620.92 123.5,615.89 124.5,617.63 125.5,619.5 126.5,623.06 127.5,614.85 128.5,614.23 129.5,620.84 130.5,613.47 131.5,619.33 132.5,615.39 133.5,617.09 134.5,610.51 135.5,620.08 136.5,615.41 137.5,613.84 138.5,625.09 139.5,619.84 140.5,630.41 141.5,618.56 142.5,615.63 143.5,617.3 144.5,622.94 145.5,616.67 146.5,618.42 147.5,618.61 148.5,613.13 149.5,617.02 150.5,614.59 151.5,611.78 152.5,619.83 153.5,619.06 154.5,616.82 155.5,613.09 156.5,608.93 157.5,618.4 158.5,616.19 159.5,610.17 160.5,616.35 161.5,610.81 162.5,616.49 163.5,617.14 164.5,617.96 165.5,617.44 166.5,617.27 167.5,612.3 168.5,615.18 169.5,614.7 170.5,615.76 171.5,617.69 172.5,619.02 173.5,622.89 174.5,606.92 175.5,618.21 176.5,615.94 177.5,625.35 178.5,620.26 179.5,610.44 180.5,618.25 181.5,614.76 182.5,620.52 183.5,612.74 184.5,616.37 185.5,616.27 186.5,616.4 187.5,614.56 188.5,609.8 189.5,618.54 190.5,620.6 191.5,616.55 192.5,612.95 193.5,617.6 194.5,618.98 195.5,616.17 196.5,616.79 197.5,622.21 198.5,612.61 199.5,614.75 200.5,609.64 201.5,614.22 202.5,614.08 203.5,613.25 204.5,614.27 205.5,623.74 206.5,616.18 207.5,616.49 208.5,625.29 209.5,616.71 210.5,610.36 211.5,618.49 212.5,613.41 213.5,623.2 214.5,612.25 215.5,614.78 216.5,610.89 218.5,606.5" fill="none" stroke="#000" stroke-width="5.5" stroke-linejoin="round" stroke-linecap="round"/><polyline points="220.31,644.76 221.31,643.29 222.31,646.79 223.31,647.71 224.31,648.44 225.31,653.86 226.31,655.87 227.31,655.08 228.31,653.64 229.31,653.76 230.31,657.91 231.31,664.76 232.31,658.92 233.31,657.82 234.31,658.52 235.31,658.22 236.31,659.13 237.31,661.93 238.31,667.32 239.31,665.24 240.31,664.43 241.31,662.25 242.31,667.59 243.31,668.61 244.31,666.45 245.31,667.35 246.31,671.08 247.31,675.27 248.31,675.63 249.31,675.24 250.31,674.46 251.31,676.73 252.31,676.87 253.31,683.33 254.31,676.27 255.31,677.9 256.31,683.14 257.31,680.56 258.31,685.31 259.31,682.83 260.31,684.11 261.31,684.35 262.31,683.08 263.31,685.33 264.31,695.42 265.31,694.16 266.31,695.23 267.31,697.66 268.31,698.38 269.31,701.04 270.31,699.4 271.31,700.63 272.31,704.97 273.31,702.92 274.31,700.88 275.31,704.34 276.31,704.87 277.31,708.85 278.31,706.78 279.31,706.42 280.31,709.14 281.31,715.37 282.31,712.93 283.31,713.97 284.31,714.71 285.31,716.61 286.31,719.58 287.31,722.27 288.31,715.69 289.31,723.64 290.31,722.26 291.31,722.23 292.31,730.41 293.31,725.9 294.31,731.81 295.31,731.14 296.31,726.65 297.31,730.82 298.31,732.95 299.31,731.84 300.31,726.73 301.31,732.03 302.31,734.08 303.31,732.83 304.31,741.22 305.31,737.87 306.31,737.83 307.31,738.92 308.31,738.49 309.31,739.12 310.31,742.19 311.31,743.91 312.31,742.69 313.31,744.28 314.31,741.77 315.31,747.12 316.31,745.25 317.31,748.19 318.31,746.35 319.31,747.79 320.31,750.61 321.31,747.96 322.31,757.94 323.31,753.51 324.31,753.43 325.31,752.36 326.31,759.01 327.31,760.14 328.31,758.13 329.31,754.11 330.31,756.46 331.31,760.45 332.31,758.94 333.31,757.79 334.31,758.46 335.31,760.51 336.31,763.73 337.31,763.32 338.31,765.87 339.31,774.41 340.31,773.85 341.31,767.22 342.31,770.71 343.31,771.41 344.31,771.48 345.31,775.19 346.31,772.72 347.31,772.96 348.31,773.47 349.31,774.86 350.31,779.32 351.31,779.24 352.31,774.24 353.31,776.46 354.31,776.45 355.31,781.29 356.31,781.05 357.31,783.37 358.31,781.8 359.31,777.29 360.31,783.43 361.31,784.36 362.31,785.83 363.31,781.88 364.31,785.52 365.31,784.64 366.31,785.1 367.31,788.54 368.31,789.94 369.31,787.72 370.31,786.08 371.31,784.67 372.31,790.31 373.31,796.48 374.31,795.16 375.31,790.02 376.31,793.76 377.31,798.55 378.31,803.42 379.31,803.62 380.31,801.99 381.31,801.81 382.31,798.98 383.31,800.67 384.31,801.75 385.31,801.26 386.31,803.9 387.31,803.6 388.31,805.99 389.31,809.75 390.31,809 391.31,808.58 392.31,807.49 393.31,804.63 394.31,808.59 395.31,811.6 396.31,808.64 397.31,814.84 398.31,812.26 399.31,814.42 400.31,813.57 401.31,811.68 402.31,820.84 403.31,814.33 404.31,819.32 405.31,816.7 406.31,819.01 407.31,817.01 408.31,818.25 409.31,822.47 410.31,826.31 411.31,820.04 412.31,821.87 413.31,825.12 414.31,821.96 415.31,825.59 416.31,822.9 417.31,826.83 418.31,827.66 419.31,830.51 420.31,829.38 421.31,825.79 422.31,830.82 423.31,827.61 424.31,832.68 425.31,836.13 426.31,834.91 427.31,832.31 428.31,837.01 429.31,835.53 430.31,832.09 431.31,834.43 432.31,839.97 433.31,836.77 434.31,837.92 435.31,837.38 436.31,834.27 437.31,837.41 438.31,840.68 439.31,841.28 440.31,840.88 441.31,836.16 442.31,844.81 443.31,845.29 444.31,846.68 445.31,848.12 446.31,844.25 447.31,843.76 448.31,846.62 449.31,851.14 450.31,843.47 451.31,846.76 452.31,846.67 453.31,850.7 454.31,854.37 455.31,850.96 456.31,848.64 457.31,852.37 458.31,852.73 459.31,850.15 460.31,856.84 461.31,854.81 462.31,858.37 463.31,854.21 464.31,860.43 465.31,855.19 466.31,861.49 467.31,855.4 468.31,863.4 469.31,860.49 470.31,857.45 471.31,860.98 472.31,863.53 473.31,860.92 474.31,862.35 475.31,864.97 476.31,864.54 477.31,857.18 478.31,863.36 479.31,866.89 480.31,867.41 481.31,869.71 482.31,865.91 483.31,874.23 484.31,871.2 485.31,869.8 486.31,871.97 487.31,872.29 488.31,870.43 489.31,868.59 490.31,872.98 491.31,872.4 492.31,866.55 493.31,868.09 494.31,872.8 495.31,872.9 496.31,873.71 497.31,875.12 498.31,874.37 499.31,878.52 500.31,873.94 501.31,874.26 502.31,876.72 503.31,878.72 504.31,879.64 505.31,882.13 506.31,877.84 507.31,882.03 508.31,881.33 509.31,877.76 510.31,880.12 511.31,886.69 512.31,884.58 513.31,881.3 514.31,876.06 515.31,880 516.31,881.02 517.31,883.56 518.31,890.17 519.31,887.38 520.31,886.16 521.31,883.03 522.31,882.23 523.31,885.2 524.31,885.47 525.31,895.18 526.31,888.15 527.31,887.05 528.31,892 529.31,890.48 530.31,887.3 531.31,893.99 532.31,891.28 533.31,888.7 534.31,893.18 535.31,894.62 536.31,893 537.31,895.83 538.31,896.91 539.31,892.93 540.31,889.58 541.31,888.53 542.31,894.68 543.31,899.52 544.31,899.99 545.31,901.42 546.31,903.2 547.31,898.87 548.31,901.21 549.31,895.01 550.31,900.18 551.31,900.43 552.31,899.43 553.31,898.62 554.31,896.98 555.31,900.3 556.31,904.05 557.31,900.54 558.31,902.63 559.31,899.85 560.31,901.94 561.31,899.02 562.31,902.31 563.31,901.32 564.31,902.66 565.31,900.52 566.31,898.78 567.31,900.84 568.31,904.83 569.31,906.95 570.31,902.33 571.31,904.79 572.31,905.22 573.31,904.49 574.31,899.43 575.31,903.78 576.31,901.19 577.31,906.63 578.31,906.59 579.31,906.31 580.31,898.13 581.31,905.39 582.31,906.87 583.31,902.27 584.31,907.85 585.31,906.69 586.31,906.19 587.31,905.07 588.31,904.45 589.31,906.25 590.31,916.15 591.31,910.4 592.31,909.9 593.31,907.92 594.31,908.06 595.31,908.61 596.31,908.16" fill="none" stroke="#E69F00" stroke-width="5.5" stroke-linejoin="round" stroke-linecap="round"/><polyline points="219.11,651.21 220.11,653.3 221.11,659.81 222.11,660.01 223.11,668.32 224.11,671.14 225.11,676.78 226.11,679.61 227.11,682.54 228.11,691.88 229.11,693.9 230.11,699.08 231.11,702.48 232.11,709.65 233.11,713.66 234.11,719.55 235.11,724.23 236.11,726.33 237.11,728.73 238.11,736.85 239.11,742.82 240.11,746.91 241.11,746.97 242.11,754.22 243.11,758.22 244.11,762 245.11,766.29 246.11,768.67 247.11,773.61 248.11,779.22 249.11,779.98 250.11,781.14 251.11,787.39 252.11,792.1 253.11,791.42 254.11,797.01 255.11,803.6 256.11,805.1 257.11,808.12 258.11,807.86 259.11,814.87 260.11,820.06 261.11,818.79 262.11,819.69 263.11,821.15 264.11,828.16 265.11,829.74 266.11,830.26 267.11,837.04 268.11,839.33 269.11,841.59 270.11,838.69 271.11,843.89 272.11,848.27 273.11,846.82 274.11,853.34 275.11,857.41 276.11,859.13 277.11,857.1 278.11,858.29 279.11,863.6 280.11,866 281.11,868.37 282.11,870.15 283.11,869.03 284.11,869.66 285.11,868.05 286.11,875.07 287.11,880.42 288.11,876.23 289.11,876.64 290.11,880.25 291.11,881.24 292.11,878.6 293.11,880.71 294.11,881.25 295.11,889.28 296.11,885.14 297.11,888.45 298.11,891.81 299.11,892.78 300.11,892.39 301.11,893.3 302.11,887.61 303.11,889.23 304.11,889.14 305.11,890.61 306.11,897.77 307.11,889.85 308.11,894.06 309.11,891.14 310.11,896.82 311.11,898.01 312.11,894.61 313.11,900.23 314.11,897.09 315.11,899.76 316.11,898.39 317.11,896.69 318.11,897.25 319.11,898.34 320.11,900.33 321.11,899.67 322.11,904.65 323.11,899.9 324.11,898.72 325.11,898.13 326.11,898.05 327.11,896.72 328.11,897.67 329.11,902.13 330.11,901.07 331.11,900.54 332.11,901.76 333.11,903.67 334.11,903.01 335.11,903.17 336.11,900.17 337.11,900.31 338.11,899.12 339.11,900.38 340.11,898.9 341.11,899.59 342.11,900.06 343.11,899.97 344.11,899.78 345.11,899.18 346.11,903 347.11,899.85 348.11,897.83 349.11,900.28 350.11,897.89 351.11,897.63 352.11,900.22 353.11,896.81 354.11,892.94 355.11,900.18 356.11,902.99 357.11,897.5 358.11,898.46 359.11,901.93 360.11,896.86 361.11,898.63 362.11,898.23 363.11,900.51 364.11,897.05 365.11,902.99 366.11,901.71 367.11,902.63 368.11,901.49 369.11,897.48 370.11,901.35" fill="none" stroke="#CC79A7" stroke-width="5.5" stroke-linejoin="round" stroke-linecap="round"/><polyline points="220.31,631.41 221.31,636.16 222.31,636.05 223.31,638.91 224.31,641.07 225.31,645.44 226.31,647.54 227.31,644.64 228.31,648.27 229.31,654.02 230.31,653.61 231.31,651.6 232.31,654.17 233.31,655.24 234.31,660.07 235.31,659.67 236.31,661.79 237.31,668.22 238.31,661.02 239.31,662.43 240.31,662.23 241.31,664.06 242.31,672.27 243.31,673.51 244.31,678.7 245.31,671.47 246.31,674.76 247.31,682.86 248.31,684.29 249.31,685.29 250.31,686.59 251.31,685.77 252.31,686.72 253.31,688.16 254.31,691.71 255.31,690.78 256.31,693.1 257.31,697.63 258.31,692.7 259.31,694.14 260.31,699.01 261.31,698.75 262.31,700.18 263.31,707.53 264.31,705.39 265.31,704.06 266.31,709.04 267.31,714.72 268.31,707.21 269.31,708.43 270.31,711.87 271.31,711.6 272.31,720.02 273.31,717.95 274.31,716.23 275.31,719.33 276.31,717.43 277.31,718.66 278.31,721.74 279.31,729.24 280.31,719.16 281.31,725.7 282.31,730.16 283.31,730.24 284.31,734.38 285.31,732.15 286.31,732.03 287.31,732.3 288.31,731.45 289.31,738.91 290.31,733.62 291.31,736.64 292.31,737.06 293.31,737.45 294.31,734.75 295.31,740.21 296.31,743.42 297.31,744.93 298.31,748.03 299.31,746.86 300.31,746.44 301.31,749.9 302.31,752.38 303.31,749.64 304.31,748.63 305.31,750.8 306.31,757.63 307.31,759.52 308.31,755.69 309.31,758.59 310.31,761.8 311.31,764.42 312.31,760.42 313.31,761.78 314.31,767.18 315.31,771.48 316.31,770.65 317.31,764.34 318.31,768.43 319.31,767.92 320.31,769.67 321.31,769.54 322.31,771.2 323.31,773.87 324.31,780.24 325.31,779.48 326.31,779.84 327.31,780.02 328.31,779.19 329.31,781.63 330.31,787.06 331.31,787.99 332.31,791.75 333.31,788.5 334.31,787.95 335.31,784.34 336.31,789.79 337.31,785.7 338.31,794.33 339.31,790.62 340.31,792.41 341.31,789.79 342.31,792.33 343.31,792.25 344.31,798.54 345.31,798.01 346.31,795.02 347.31,793.44 348.31,798.96 349.31,799.54 350.31,798.83 351.31,804.06 352.31,803.65 353.31,805.22 354.31,804.45 355.31,805.24 356.31,806.3 357.31,804.12 358.31,810.36 359.31,811.38 360.31,806.61 361.31,811.38 362.31,815.55 363.31,814.44 364.31,817.74 365.31,814.8 366.31,815.75 367.31,813.16 368.31,814.68 369.31,813.35 370.31,816.44 371.31,820.76 372.31,822.98 373.31,825.86 374.31,824.42 375.31,822.1 376.31,826.35 377.31,826.32 378.31,832.25 379.31,834.44 380.31,832.99 381.31,828.1 382.31,829.83 383.31,832.82 384.31,831.74 385.31,835.69 386.31,837.56 387.31,839.09 388.31,838.56 389.31,836.4 390.31,837.04 391.31,839.84 392.31,844.74 393.31,846.8 394.31,846.22 395.31,845.19 396.31,846.54 397.31,847.81 398.31,849.92 399.31,849.77 400.31,844.12 401.31,850.51 402.31,850.66 403.31,849.08 404.31,851.93 405.31,852.24 406.31,851.9 407.31,848.05 408.31,852.72 409.31,855.11 410.31,854.38 411.31,850.72 412.31,856.08 413.31,858.08 414.31,857.47 415.31,858.53 416.31,857.15 417.31,856.65 418.31,860.2 419.31,858.93 420.31,860.66 421.31,869.53 422.31,864.67 423.31,862.93 424.31,858.55 425.31,862.93 426.31,865.84 427.31,862.86 428.31,863.96 429.31,859.16 430.31,866.18 431.31,864.54 432.31,868 433.31,870.66 434.31,867.37 435.31,870.24 436.31,869.08 437.31,868.04 438.31,868.03 439.31,866.86 440.31,872.65 441.31,872.8 442.31,868.19 443.31,872.71 444.31,869.58 445.31,867.41 446.31,874.55 447.31,869.43 448.31,875.5 449.31,874.15 450.31,876.14 451.31,875.66 452.31,877.43 453.31,875.74 454.31,876.27 455.31,875.65 456.31,877.95 457.31,874.55 458.31,877.92 459.31,879.89 460.31,876.22 461.31,877.16 462.31,874.96 463.31,875.55 464.31,877.54 465.31,876.67 466.31,875.53 467.31,878.04 468.31,879.43 469.31,880.4 470.31,882 471.31,876.12 472.31,884.05 473.31,881.5 474.31,879.95 475.31,881.03 476.31,883.49 477.31,885.15 478.31,882.32 479.31,883.44 480.31,879.16 481.31,883.34 482.31,883.39 483.31,882.73 484.31,886.27 485.31,889.36 486.31,887.99 487.31,883.18 488.31,888.71 489.31,884.8 490.31,885.16 491.31,883.96 492.31,886.68 493.31,887.52 494.31,886.74 495.31,885.85 496.31,886.07 497.31,885.59 498.31,889.3 499.31,886.17 500.31,886.94 501.31,887.15 502.31,886.02 503.31,887.47 504.31,884.69 505.31,889.46 506.31,890.78 507.31,889.02 508.31,893.89 509.31,888.63 510.31,891.71 511.31,892.07 512.31,889.54 513.31,890.02 514.31,893.15 515.31,891.53 516.31,891.95 517.31,895.03 518.31,892.47 519.31,887.22 520.31,888.97 521.31,893.44 522.31,891.67 523.31,888.99 524.31,886.32 525.31,892.04 526.31,896.07 527.31,889.54 528.31,886.25 529.31,892.82 530.31,891.17 531.31,891.66 532.31,891.74 533.31,890.32 534.31,893.71 535.31,895.52 536.31,894.38 537.31,891.83 538.31,895.68 539.31,893.28 540.31,894.78 541.31,891.07 542.31,894.73 543.31,895.55 544.31,897.14 545.31,894.12 546.31,894.8 547.31,892.27 548.31,895.76 549.31,896.04 550.31,896.92 551.31,893.26 552.31,890.57 553.31,893.23 554.31,893.3 555.31,891.95 556.31,895.32 557.31,896.76 558.31,895.57 559.31,897.26 560.31,895.65 561.31,891.82 562.31,892.27 563.31,892.94 564.31,895.75 565.31,896.79 566.31,894.9 567.31,896.9 568.31,892.42 569.31,893.59 570.31,897.96 571.31,895.88 572.31,897.13 573.31,889.68 574.31,889.13 575.31,891.15 576.31,896.32 577.31,898.7 578.31,893.22 579.31,891.45 580.31,891.11 581.31,891.37 582.31,895.2 583.31,893.76 584.31,899.45 585.31,897.51 586.31,893.78 587.31,895.82 588.31,895.33 589.31,897.92 590.31,898.83 591.31,895.91 592.31,898.91 593.31,898.74 594.31,897.22 595.31,898.09 596.31,899.54" fill="none" stroke="#56B4E9" stroke-width="5.5" stroke-linejoin="round" stroke-linecap="round"/><polyline points="220.31,626.96 221.31,628.77 222.31,636.51 223.31,636.82 224.31,637.75 225.31,643.05 226.31,641.25 227.31,647.38 228.31,647.06 229.31,651.63 230.31,650.91 231.31,655.68 232.31,662.71 233.31,663.09 234.31,662.6 235.31,672.3 236.31,669.75 237.31,676.97 238.31,674.97 239.31,674.37 240.31,684.97 241.31,682.79 242.31,687.67 243.31,691.65 244.31,687.88 245.31,693.03 246.31,694.25 247.31,699.62 248.31,700.68 249.31,699.27 250.31,704.18 251.31,708.44 252.31,708.04 253.31,711.9 254.31,711.35 255.31,714.21 256.31,717.37 257.31,719.02 258.31,723.87 259.31,725.47 260.31,727.14 261.31,728.78 262.31,729.26 263.31,727.63 264.31,734.83 265.31,739.36 266.31,737.83 267.31,738.06 268.31,740.36 269.31,745.61 270.31,745.72 271.31,744.17 272.31,747.6 273.31,748.1 274.31,751.16 275.31,751.36 276.31,752.98 277.31,760.83 278.31,762.41 279.31,757.33 280.31,759.72 281.31,762.98 282.31,765.15 283.31,764.44 284.31,771.72 285.31,767.9 286.31,774.8 287.31,777.37 288.31,776.55 289.31,777.21 290.31,780.68 291.31,782.96 292.31,779.05 293.31,782.16 294.31,788.76 295.31,789.63 296.31,790.35 297.31,790.32 298.31,792.42 299.31,793.95 300.31,804.7 301.31,797.24 302.31,804.67 303.31,804.42 304.31,805.06 305.31,806.47 306.31,806.56 307.31,813.06 308.31,812.4 309.31,812.1 310.31,813 311.31,815.16 312.31,813.22 313.31,816.24 314.31,817.09 315.31,821.62 316.31,823.43 317.31,818.55 318.31,823.23 319.31,828.25 320.31,824.13 321.31,824.82 322.31,831.57 323.31,830.69 324.31,830.75 325.31,829.81 326.31,834.26 327.31,834.07 328.31,837.05 329.31,839.06 330.31,841.1 331.31,839.78 332.31,840.08 333.31,842.58 334.31,843.64 335.31,845.52 336.31,845.01 337.31,846.71 338.31,847.08 339.31,848.16 340.31,851.25 341.31,855.31 342.31,852.58 343.31,856.08 344.31,857.01 345.31,857.56 346.31,860.13 347.31,858.35 348.31,861.99 349.31,862.88 350.31,854.26 351.31,863.9 352.31,867 353.31,871.97 354.31,865.97 355.31,869.06 356.31,870.8 357.31,868.34 358.31,874.25 359.31,873.88 360.31,871.29 361.31,870.54 362.31,873.12 363.31,881.39 364.31,882.75 365.31,871.68 366.31,872.39 367.31,879.59 368.31,879.25 369.31,878.44 370.31,882.11 371.31,881.94 372.31,883 373.31,883.7 374.31,880.91 375.31,887.29 376.31,884.26 377.31,888.51 378.31,888.6 379.31,887.47 380.31,887.76 381.31,887.58 382.31,883.18 383.31,886.69 384.31,889.42 385.31,884.81 386.31,884.68 387.31,891.56 388.31,892.15 389.31,886.4 390.31,890.99 391.31,890.67 392.31,893.82 393.31,891.44 394.31,891.85 395.31,891.06 396.31,893.86 397.31,893.99 398.31,893.16 399.31,894.34 400.31,893.97 401.31,897.99 402.31,894.82 403.31,893.45 404.31,895.09 405.31,900.98 406.31,898.08 407.31,900.98 408.31,901.98 409.31,899.24 410.31,902.45 411.31,902.63 412.31,901.57 413.31,900.03 414.31,901.81 415.31,899.1 416.31,901.17 417.31,900.6 418.31,903.07 419.31,903.11 420.31,900.48 421.31,903.91 422.31,905.19 423.31,902.37 424.31,899.77 425.31,902.53 426.31,895.21 427.31,898.99 428.31,902.88 429.31,907.4 430.31,901.22 431.31,906.44 432.31,909.55 433.31,909.12 434.31,898.29 435.31,905.91 436.31,904.94 437.31,907.19 438.31,904.68 439.31,903.36 440.31,904.29 441.31,909.05 442.31,908.17 443.31,905.22 444.31,906.66 445.31,908.26 446.31,907.85 447.31,906.33 448.31,904.63 449.31,904.28 450.31,905.15 451.31,905.11 452.31,902.55 453.31,902.73 454.31,908.85 455.31,904.69 456.31,903.69 457.31,906.98 458.31,911.49 459.31,911.81 460.31,907.61 461.31,905.49 462.31,906.6 463.31,905.89 464.31,906.81 465.31,909.72 466.31,906.21 467.31,906.5 468.31,907.99 469.31,908.91 470.31,907.2 471.31,906.97 472.31,906.13 473.31,907.07 474.31,910.64 475.31,909.25 476.31,901.63 477.31,910.32 478.31,909.91 479.31,907.83 480.31,909.22 481.31,902.26 482.31,904.89 483.31,912.75 484.31,916.56 485.31,917.34 486.31,909.9 487.31,910.86 488.31,912.99 489.31,908.09 490.31,915.19 491.31,909.83 492.31,911.89 493.31,908.29 494.31,911.78 495.31,911.34 496.31,914.2 497.31,908.8 498.31,911.04 499.31,916.22 500.31,909.12 501.31,912.16 502.31,912.89 503.31,910.58 504.31,910.88 505.31,915.39 506.31,915.39 507.31,913.92 508.31,912.96 509.31,909.17 510.31,911.87 511.31,916.75 512.31,915.54 513.31,909.01 514.31,906.15 515.31,909.43 516.31,912.1 517.31,910.62 518.31,911.04 519.31,912.81 520.31,914.53 521.31,912.99 522.31,915.5 523.31,908.83 524.31,912.81 525.31,913.29 526.31,908.32 527.31,914.8 528.31,908.26 529.31,907.68 530.31,918.44 531.31,916.43 532.31,913.71 533.31,915.88 534.31,915.67 535.31,909.62 536.31,912.97 537.31,915.9 538.31,912.21 539.31,912.28 540.31,910.87 541.31,913.82 542.31,910.86 543.31,910.33 544.31,908.56 545.31,909.09 546.31,912.2 547.31,913.33 548.31,911.23 549.31,909.16 550.31,912.53 551.31,913.08 552.31,915.58 553.31,911.28 554.31,910.85 555.31,913.24 556.31,916.28 557.31,912.56 558.31,911.92 559.31,909.51 560.31,910.59 561.31,914.21 562.31,914.46 563.31,915.16 564.31,907.92 565.31,913.36 566.31,909.46 567.31,912.86 568.31,905.47 569.31,910.34 570.31,908.95 571.31,914.41 572.31,912.14 573.31,914.88 574.31,910.63 575.31,916.34 576.31,910.75 577.31,916.09 578.31,910.52 579.31,908.33 580.31,912.94 581.31,910.15 582.31,910.59 583.31,907.17 584.31,909.24 585.31,910.7 586.31,908.67 587.31,911.21 588.31,904.37 589.31,911.75 590.31,909.33 591.31,913.89 592.31,909.66 593.31,908.15 594.31,908.4 595.31,910.3 596.31,911.36" fill="none" stroke="#009E73" stroke-width="5.5" stroke-linejoin="round" stroke-linecap="round"/><rect x="106.5" y="563.6" width="493.7" height="397.1" fill="none" stroke="#000" stroke-width="2.7"/><line x1="106.3" y1="960.7" x2="106.3" y2="968.5" stroke="#000" stroke-width="2.7"/><line x1="181.66" y1="960.7" x2="181.66" y2="968.5" stroke="#000" stroke-width="2.7"/><line x1="257.02" y1="960.7" x2="257.02" y2="968.5" stroke="#000" stroke-width="2.7"/><line x1="332.38" y1="960.7" x2="332.38" y2="968.5" stroke="#000" stroke-width="2.7"/><line x1="407.74" y1="960.7" x2="407.74" y2="968.5" stroke="#000" stroke-width="2.7"/><line x1="483.1" y1="960.7" x2="483.1" y2="968.5" stroke="#000" stroke-width="2.7"/><line x1="558.46" y1="960.7" x2="558.46" y2="968.5" stroke="#000" stroke-width="2.7"/><line x1="143.98" y1="960.7" x2="143.98" y2="964.5" stroke="#000" stroke-width="2.7"/><line x1="219.34" y1="960.7" x2="219.34" y2="964.5" stroke="#000" stroke-width="2.7"/><line x1="294.7" y1="960.7" x2="294.7" y2="964.5" stroke="#000" stroke-width="2.7"/><line x1="370.06" y1="960.7" x2="370.06" y2="964.5" stroke="#000" stroke-width="2.7"/><line x1="445.42" y1="960.7" x2="445.42" y2="964.5" stroke="#000" stroke-width="2.7"/><line x1="520.78" y1="960.7" x2="520.78" y2="964.5" stroke="#000" stroke-width="2.7"/><line x1="596.14" y1="960.7" x2="596.14" y2="964.5" stroke="#000" stroke-width="2.7"/><line x1="97.9" y1="563.56" x2="106.5" y2="563.56" stroke="#000" stroke-width="2.7"/><line x1="97.9" y1="620.3" x2="106.5" y2="620.3" stroke="#000" stroke-width="2.7"/><line x1="97.9" y1="677.04" x2="106.5" y2="677.04" stroke="#000" stroke-width="2.7"/><line x1="97.9" y1="733.78" x2="106.5" y2="733.78" stroke="#000" stroke-width="2.7"/><line x1="97.9" y1="790.52" x2="106.5" y2="790.52" stroke="#000" stroke-width="2.7"/><line x1="97.9" y1="847.26" x2="106.5" y2="847.26" stroke="#000" stroke-width="2.7"/><line x1="97.9" y1="904" x2="106.5" y2="904" stroke="#000" stroke-width="2.7"/><line x1="97.9" y1="960.74" x2="106.5" y2="960.74" stroke="#000" stroke-width="2.7"/><line x1="101.7" y1="591.93" x2="106.5" y2="591.93" stroke="#000" stroke-width="2.7"/><line x1="101.7" y1="648.67" x2="106.5" y2="648.67" stroke="#000" stroke-width="2.7"/><line x1="101.7" y1="705.41" x2="106.5" y2="705.41" stroke="#000" stroke-width="2.7"/><line x1="101.7" y1="762.15" x2="106.5" y2="762.15" stroke="#000" stroke-width="2.7"/><line x1="101.7" y1="818.89" x2="106.5" y2="818.89" stroke="#000" stroke-width="2.7"/><line x1="101.7" y1="875.63" x2="106.5" y2="875.63" stroke="#000" stroke-width="2.7"/><line x1="101.7" y1="932.37" x2="106.5" y2="932.37" stroke="#000" stroke-width="2.7"/><text x="47.52" y="685.73" font-size="27.5" fill="#000">-10</text><text x="47.52" y="742.47" font-size="27.5" fill="#000">-20</text><text x="47.52" y="799.21" font-size="27.5" fill="#000">-30</text><text x="47.52" y="855.95" font-size="27.5" fill="#000">-40</text><text x="47.52" y="912.69" font-size="27.5" fill="#000">-50</text><text x="47.52" y="969.43" font-size="27.5" fill="#000">-60</text><text x="58.44" y="572.25" font-size="27.5" fill="#000">10</text><text x="75.7" y="628.99" font-size="27.5" fill="#000">0</text><text x="97.7" y="998.4" font-size="27.5" fill="#000">0</text><text x="231.13" y="998.4" font-size="27.5" fill="#000">400</text><text x="381.71" y="998.4" font-size="27.5" fill="#000">800</text><text x="524.14" y="998.4" font-size="27.5" fill="#000">1,200</text><text x="259.95" y="1038" font-size="27.5" fill="#000">Time (sec)</text><text transform="translate(30.4 765) rotate(-90)" font-size="27.5" text-anchor="middle" fill="#000">CD (mdeg)</text><text x="341.96" y="654.3" font-size="27.5" fill="#000">Without seeds</text><line x1="179.4" y1="730.1" x2="207.81" y2="645.81" stroke="#000" stroke-width="2.5"/><polygon points="212.6,631.6 213.14,649.72 201.2,645.7" fill="#000" stroke="none" stroke-width="1"/><text x="123.2" y="765.5" font-size="27.5" fill="#000">+<tspan font-weight="bold">M<tspan font-size="19.3" dy="6">3</tspan><tspan font-size="19.3" dy="-17">Seed</tspan></tspan></text></g>
<text x="652.18" y="562.3" font-size="38" font-weight="bold" fill="#000">e</text>
<g id="panel-e"><line x1="811.45" y1="876.62" x2="811.45" y2="932.6" stroke="#000" stroke-width="1.4"/><line x1="806.65" y1="876.62" x2="816.25" y2="876.62" stroke="#000" stroke-width="1.4"/><line x1="806.65" y1="932.6" x2="816.25" y2="932.6" stroke="#000" stroke-width="1.4"/><line x1="893.89" y1="829.5" x2="893.89" y2="885.49" stroke="#000" stroke-width="1.4"/><line x1="889.09" y1="829.5" x2="898.69" y2="829.5" stroke="#000" stroke-width="1.4"/><line x1="889.09" y1="885.49" x2="898.69" y2="885.49" stroke="#000" stroke-width="1.4"/><line x1="1009.3" y1="731.54" x2="1009.3" y2="824.84" stroke="#000" stroke-width="1.4"/><line x1="1004.5" y1="731.54" x2="1014.1" y2="731.54" stroke="#000" stroke-width="1.4"/><line x1="1004.5" y1="824.84" x2="1014.1" y2="824.84" stroke="#000" stroke-width="1.4"/><line x1="1207.81" y1="606.05" x2="1207.81" y2="662.03" stroke="#000" stroke-width="1.4"/><line x1="1203.01" y1="606.05" x2="1212.61" y2="606.05" stroke="#000" stroke-width="1.4"/><line x1="1203.01" y1="662.03" x2="1212.61" y2="662.03" stroke="#000" stroke-width="1.4"/><line x1="811.45" y1="906.51" x2="1204.81" y2="640.24" stroke="#000" stroke-width="3"/><circle cx="811.45" cy="904.61" r="7.9" fill="#000"/><circle cx="893.89" cy="857.5" r="7.9" fill="#000"/><circle cx="1009.3" cy="778.19" r="7.9" fill="#000"/><circle cx="1207.81" cy="634.04" r="7.9" fill="#000"/><rect x="760.2" y="563.6" width="494.8" height="396.9" fill="none" stroke="#000" stroke-width="2.7"/><line x1="825.3" y1="960.5" x2="825.3" y2="968.3" stroke="#000" stroke-width="2.7"/><line x1="957.2" y1="960.5" x2="957.2" y2="968.3" stroke="#000" stroke-width="2.7"/><line x1="1089.1" y1="960.5" x2="1089.1" y2="968.3" stroke="#000" stroke-width="2.7"/><line x1="1221" y1="960.5" x2="1221" y2="968.3" stroke="#000" stroke-width="2.7"/><line x1="759.35" y1="960.5" x2="759.35" y2="964.9" stroke="#000" stroke-width="2.7"/><line x1="891.25" y1="960.5" x2="891.25" y2="964.9" stroke="#000" stroke-width="2.7"/><line x1="1023.15" y1="960.5" x2="1023.15" y2="964.9" stroke="#000" stroke-width="2.7"/><line x1="1155.05" y1="960.5" x2="1155.05" y2="964.9" stroke="#000" stroke-width="2.7"/><line x1="751.6" y1="563.6" x2="760.2" y2="563.6" stroke="#000" stroke-width="2.7"/><line x1="751.6" y1="656.9" x2="760.2" y2="656.9" stroke="#000" stroke-width="2.7"/><line x1="751.6" y1="750.2" x2="760.2" y2="750.2" stroke="#000" stroke-width="2.7"/><line x1="751.6" y1="843.5" x2="760.2" y2="843.5" stroke="#000" stroke-width="2.7"/><line x1="751.6" y1="936.8" x2="760.2" y2="936.8" stroke="#000" stroke-width="2.7"/><line x1="755.4" y1="610.25" x2="760.2" y2="610.25" stroke="#000" stroke-width="2.7"/><line x1="755.4" y1="703.55" x2="760.2" y2="703.55" stroke="#000" stroke-width="2.7"/><line x1="755.4" y1="796.85" x2="760.2" y2="796.85" stroke="#000" stroke-width="2.7"/><line x1="755.4" y1="890.15" x2="760.2" y2="890.15" stroke="#000" stroke-width="2.7"/><text x="693.23" y="572.29" font-size="27.5" fill="#000">-0.4</text><text x="693.5" y="665.59" font-size="27.5" fill="#000">-0.6</text><text x="693.5" y="758.89" font-size="27.5" fill="#000">-0.8</text><text x="693.36" y="852.19" font-size="27.5" fill="#000">-1.0</text><text x="693.78" y="945.49" font-size="27.5" fill="#000">-1.2</text><text x="799.12" y="998.5" font-size="27.5" fill="#000">-5.2</text><text x="930.81" y="998.5" font-size="27.5" fill="#000">-5.0</text><text x="1062.78" y="998.5" font-size="27.5" fill="#000">-4.8</text><text x="1194.68" y="998.5" font-size="27.5" fill="#000">-4.6</text><text x="941.5" y="1035.0" font-size="27.5" fill="#000">log[<tspan font-weight="bold">M<tspan font-size="19.3" dy="6">3</tspan><tspan font-size="19.3" dy="-17">Seed</tspan></tspan><tspan dy="11">]</tspan></text><text transform="translate(685.2 770) rotate(-90)" font-size="27.5" text-anchor="middle" fill="#000">log(-d<tspan font-style="italic">θ</tspan>/d<tspan font-style="italic">t</tspan>)</text></g>
<text x="1302.73" y="562.8" font-size="38" font-weight="bold" fill="#000">f</text>
<g id="panel-f"><line x1="1428.2" y1="897.5" x2="1858.5" y2="897.5" stroke="#000" stroke-width="2.6" stroke-dasharray="5.6 11.9"/><rect x="1421.5" y="878.6" width="13.4" height="13.4" fill="#000"/><rect x="1550.2" y="906.7" width="13.4" height="13.4" fill="#000"/><rect x="1636.4" y="878.9" width="13.4" height="13.4" fill="#000"/><rect x="1722" y="874.7" width="13.4" height="13.4" fill="#000"/><rect x="1851" y="881.9" width="13.4" height="13.4" fill="#000"/><circle cx="1428.2" cy="935.88" r="6.2" fill="#fff" stroke="#000" stroke-width="2.8"/><circle cx="1557.05" cy="859.3" r="6.2" fill="#fff" stroke="#000" stroke-width="2.8"/><circle cx="1642.95" cy="809.46" r="6.2" fill="#fff" stroke="#000" stroke-width="2.8"/><circle cx="1728.85" cy="761.42" r="6.2" fill="#fff" stroke="#000" stroke-width="2.8"/><circle cx="1857.7" cy="668.95" r="6.2" fill="#fff" stroke="#000" stroke-width="2.8"/><line x1="1428.2" y1="929.6" x2="1858.8" y2="624" stroke="#000" stroke-width="3"/><line x1="1428.2" y1="934.4" x2="1858.8" y2="677.3" stroke="#000" stroke-width="3"/><circle cx="1428.2" cy="929.74" r="7.6" fill="#000"/><circle cx="1557.05" cy="846.3" r="7.6" fill="#000"/><circle cx="1642.95" cy="780.2" r="7.6" fill="#000"/><circle cx="1728.85" cy="720.6" r="7.6" fill="#000"/><circle cx="1857.7" cy="615.85" r="7.6" fill="#000"/><rect x="1406.9" y="563.4" width="493.9" height="397.1" fill="none" stroke="#000" stroke-width="2.7"/><line x1="1428.2" y1="960.5" x2="1428.2" y2="968.7" stroke="#000" stroke-width="2.7"/><line x1="1514.1" y1="960.5" x2="1514.1" y2="968.7" stroke="#000" stroke-width="2.7"/><line x1="1600" y1="960.5" x2="1600" y2="968.7" stroke="#000" stroke-width="2.7"/><line x1="1685.9" y1="960.5" x2="1685.9" y2="968.7" stroke="#000" stroke-width="2.7"/><line x1="1771.8" y1="960.5" x2="1771.8" y2="968.7" stroke="#000" stroke-width="2.7"/><line x1="1857.7" y1="960.5" x2="1857.7" y2="968.7" stroke="#000" stroke-width="2.7"/><line x1="1471.15" y1="960.5" x2="1471.15" y2="964.9" stroke="#000" stroke-width="2.7"/><line x1="1557.05" y1="960.5" x2="1557.05" y2="964.9" stroke="#000" stroke-width="2.7"/><line x1="1642.95" y1="960.5" x2="1642.95" y2="964.9" stroke="#000" stroke-width="2.7"/><line x1="1728.85" y1="960.5" x2="1728.85" y2="964.9" stroke="#000" stroke-width="2.7"/><line x1="1814.75" y1="960.5" x2="1814.75" y2="964.9" stroke="#000" stroke-width="2.7"/><line x1="1900.65" y1="960.5" x2="1900.65" y2="964.9" stroke="#000" stroke-width="2.7"/><line x1="1398.3" y1="960.8" x2="1406.9" y2="960.8" stroke="#000" stroke-width="2.7"/><line x1="1398.3" y1="888.56" x2="1406.9" y2="888.56" stroke="#000" stroke-width="2.7"/><line x1="1398.3" y1="816.32" x2="1406.9" y2="816.32" stroke="#000" stroke-width="2.7"/><line x1="1398.3" y1="744.08" x2="1406.9" y2="744.08" stroke="#000" stroke-width="2.7"/><line x1="1398.3" y1="671.84" x2="1406.9" y2="671.84" stroke="#000" stroke-width="2.7"/><line x1="1398.3" y1="599.6" x2="1406.9" y2="599.6" stroke="#000" stroke-width="2.7"/><line x1="1402.1" y1="924.68" x2="1406.9" y2="924.68" stroke="#000" stroke-width="2.7"/><line x1="1402.1" y1="852.44" x2="1406.9" y2="852.44" stroke="#000" stroke-width="2.7"/><line x1="1402.1" y1="780.2" x2="1406.9" y2="780.2" stroke="#000" stroke-width="2.7"/><line x1="1402.1" y1="707.96" x2="1406.9" y2="707.96" stroke="#000" stroke-width="2.7"/><line x1="1402.1" y1="635.72" x2="1406.9" y2="635.72" stroke="#000" stroke-width="2.7"/><line x1="1900.8" y1="960.7" x2="1908.8" y2="960.7" stroke="#000" stroke-width="2.7"/><line x1="1900.8" y1="762.05" x2="1908.8" y2="762.05" stroke="#000" stroke-width="2.7"/><line x1="1900.8" y1="563.4" x2="1908.8" y2="563.4" stroke="#000" stroke-width="2.7"/><line x1="1900.8" y1="861.38" x2="1905.2" y2="861.38" stroke="#000" stroke-width="2.7"/><line x1="1900.8" y1="662.73" x2="1905.2" y2="662.73" stroke="#000" stroke-width="2.7"/><text x="1342.17" y="897.25" font-size="27.5" fill="#000">200</text><text x="1342.17" y="825.01" font-size="27.5" fill="#000">400</text><text x="1342.17" y="752.77" font-size="27.5" fill="#000">600</text><text x="1342.17" y="680.53" font-size="27.5" fill="#000">800</text><text x="1375.3" y="969.49" font-size="27.5" fill="#000">0</text><text x="1316.51" y="608.29" font-size="27.5" fill="#000">1,000</text><text x="1913.44" y="969.39" font-size="27.5" fill="#000">1.0</text><text x="1913.44" y="770.74" font-size="27.5" fill="#000">1.5</text><text x="1914.12" y="572.09" font-size="27.5" fill="#000">2.0</text><text x="1420" y="998.6" font-size="27.5" fill="#000">0</text><text x="1504.87" y="998.6" font-size="27.5" fill="#000">2</text><text x="1590.91" y="998.6" font-size="27.5" fill="#000">4</text><text x="1676.53" y="998.6" font-size="27.5" fill="#000">6</text><text x="1762.5" y="998.6" font-size="27.5" fill="#000">8</text><text x="1840.29" y="998.6" font-size="27.5" fill="#000">10</text><circle cx="1454.4" cy="623.1" r="7.4" fill="#000"/><circle cx="1454.4" cy="675.0" r="5.9" fill="#fff" stroke="#000" stroke-width="2.8"/><rect x="1448" y="718.4" width="12.8" height="12.8" fill="#000"/><text x="1479.5" y="629.4" font-size="27.5" font-style="italic" fill="#000">L<tspan font-size="19.3" dy="5">w</tspan></text><text x="1479.5" y="681.5" font-size="27.5" font-style="italic" fill="#000">L<tspan font-size="19.3" dy="5">n</tspan></text><text x="1479.5" y="731.5" font-size="27.5" font-style="italic" fill="#000">L<tspan font-size="19.3" dy="5">w</tspan><tspan dy="-5">/L</tspan><tspan font-size="19.3" dy="5">n</tspan></text><polyline points="1580.4,811 1580.4,766.2 1536,766.2" fill="none" stroke="#000" stroke-width="2.2"/><polygon points="1521.8,766.2 1541.5,759 1538.5,766.2 1541.5,773.4" fill="#000" stroke="none" stroke-width="1"/><polyline points="1766.7,875 1766.7,829 1812,829" fill="none" stroke="#000" stroke-width="2.2"/><polygon points="1825.8,829 1806.2,821.8 1809.2,829 1806.2,836.2" fill="#000" stroke="none" stroke-width="1"/><text x="1562.8" y="1034.9" font-size="27.5" fill="#000">[<tspan font-weight="bold">M<tspan font-size="19.3" dy="6">3</tspan></tspan><tspan dy="-6">]/[</tspan><tspan font-weight="bold">M<tspan font-size="19.3" dy="6">3</tspan><tspan font-size="19.3" dy="-17">Seed</tspan></tspan><tspan dy="11">]</tspan></text><text transform="translate(1318.9 763.5) rotate(-90)" font-size="27.5" text-anchor="middle" fill="#000"><tspan font-style="italic">L</tspan><tspan font-size="19.3" dy="5">w</tspan><tspan dy="-5">,</tspan><tspan font-style="italic">L</tspan><tspan font-size="19.3" font-style="italic" dy="5">n</tspan><tspan dy="-5"> (nm)</tspan></text><text transform="translate(1985.8 760) rotate(-90)" font-size="27" text-anchor="middle" fill="#000"><tspan font-style="italic">L</tspan><tspan font-size="19.3" font-style="italic" dy="5">w</tspan><tspan dy="-5">/</tspan><tspan font-style="italic">L</tspan><tspan font-size="19.3" font-style="italic" dy="5">n</tspan></text></g>
<text x="2.28" y="1106.2" font-size="38" font-weight="bold" fill="#000">g</text>
<g id="panel-g"><rect x="88.7" y="1108" width="399.3" height="400" fill="#B8520F"/><rect x="88.7" y="1108" width="399.3" height="400" filter="url(#ng)"/><g clip-path="url(#clip-g)"><g filter="url(#soft)"><path d="M154.22 1129.08 C158.5 1129.88 171.35 1134.43 179.92 1133.9 C188.49 1133.36 197.59 1129.61 205.62 1125.86 C213.65 1122.12 224.36 1113.82 228.11 1111.41" fill="none" stroke="#F0A048" stroke-width="4.8" stroke-linecap="round" opacity="0.35"/><path d="M154.22 1129.08 C158.5 1129.88 171.35 1134.43 179.92 1133.9 C188.49 1133.36 197.59 1129.61 205.62 1125.86 C213.65 1122.12 224.36 1113.82 228.11 1111.41" fill="none" stroke="#FFDFA0" stroke-width="2.4" stroke-linecap="round" opacity="0.85"/><path d="M159.04 1162.81 C158.23 1168.17 155.56 1182.89 154.22 1194.94 C152.88 1206.99 151.54 1228.41 151 1235.1" fill="none" stroke="#F0A048" stroke-width="4.8" stroke-linecap="round" opacity="0.35"/><path d="M159.04 1162.81 C158.23 1168.17 155.56 1182.89 154.22 1194.94 C152.88 1206.99 151.54 1228.41 151 1235.1" fill="none" stroke="#FFDFA0" stroke-width="2.4" stroke-linecap="round" opacity="0.85"/><path d="M255.42 1153.17 C257.3 1154.67 262.92 1159.22 266.67 1162.17 C270.41 1165.11 276.04 1169.4 277.91 1170.84" fill="none" stroke="#F0A048" stroke-width="4.8" stroke-linecap="round" opacity="0.35"/><path d="M255.42 1153.17 C257.3 1154.67 262.92 1159.22 266.67 1162.17 C270.41 1165.11 276.04 1169.4 277.91 1170.84" fill="none" stroke="#FFDFA0" stroke-width="2.4" stroke-linecap="round" opacity="0.85"/><path d="M184.74 1239.92 C191.43 1239.38 212.85 1238.31 224.9 1236.71 C236.95 1235.1 245.78 1231.78 257.03 1230.28 C268.27 1228.78 286.48 1228.14 292.37 1227.71" fill="none" stroke="#F0A048" stroke-width="5" stroke-linecap="round" opacity="0.35"/><path d="M184.74 1239.92 C191.43 1239.38 212.85 1238.31 224.9 1236.71 C236.95 1235.1 245.78 1231.78 257.03 1230.28 C268.27 1228.78 286.48 1228.14 292.37 1227.71" fill="none" stroke="#FFDFA0" stroke-width="2.6" stroke-linecap="round" opacity="0.85"/><path d="M316.47 1256.63 C320.48 1252.77 331.73 1242.17 340.56 1233.49 C349.4 1224.82 360.48 1213.68 369.48 1204.58 C378.47 1195.48 390.36 1183.16 394.54 1178.88" fill="none" stroke="#F0A048" stroke-width="5.4" stroke-linecap="round" opacity="0.35"/><path d="M316.47 1256.63 C320.48 1252.77 331.73 1242.17 340.56 1233.49 C349.4 1224.82 360.48 1213.68 369.48 1204.58 C378.47 1195.48 390.36 1183.16 394.54 1178.88" fill="none" stroke="#FFDFA0" stroke-width="3" stroke-linecap="butt" stroke-dasharray="2.7 1.8" opacity="0.85"/><path d="M408.03 1180.48 C412.32 1182.62 424.63 1189.32 433.73 1193.33 C442.84 1197.35 457.83 1202.7 462.65 1204.58" fill="none" stroke="#F0A048" stroke-width="4.8" stroke-linecap="round" opacity="0.35"/><path d="M408.03 1180.48 C412.32 1182.62 424.63 1189.32 433.73 1193.33 C442.84 1197.35 457.83 1202.7 462.65 1204.58" fill="none" stroke="#FFDFA0" stroke-width="2.4" stroke-linecap="round" opacity="0.85"/><path d="M432.13 1219.04 C436.14 1221.18 449 1228.14 456.22 1231.89 C463.45 1235.64 472.29 1239.92 475.5 1241.53" fill="none" stroke="#F0A048" stroke-width="4.8" stroke-linecap="round" opacity="0.35"/><path d="M432.13 1219.04 C436.14 1221.18 449 1228.14 456.22 1231.89 C463.45 1235.64 472.29 1239.92 475.5 1241.53" fill="none" stroke="#FFDFA0" stroke-width="2.4" stroke-linecap="round" opacity="0.85"/><path d="M416.06 1227.07 C419.01 1229.21 428.11 1236.71 433.73 1239.92 C439.36 1243.13 444.98 1243.13 449.8 1246.35 C454.62 1249.56 458.63 1255.18 462.65 1259.2 C466.67 1263.21 472.02 1268.57 473.9 1270.44" fill="none" stroke="#F0A048" stroke-width="4.8" stroke-linecap="round" opacity="0.35"/><path d="M416.06 1227.07 C419.01 1229.21 428.11 1236.71 433.73 1239.92 C439.36 1243.13 444.98 1243.13 449.8 1246.35 C454.62 1249.56 458.63 1255.18 462.65 1259.2 C466.67 1263.21 472.02 1268.57 473.9 1270.44" fill="none" stroke="#FFDFA0" stroke-width="2.4" stroke-linecap="round" opacity="0.85"/><path d="M372.69 1254.38 L379.12 1268.84" fill="none" stroke="#F0A048" stroke-width="4.6" stroke-linecap="round" opacity="0.35"/><path d="M372.69 1254.38 L379.12 1268.84" fill="none" stroke="#FFDFA0" stroke-width="2.2" stroke-linecap="round" opacity="0.85"/><path d="M88.67 1355.58 C91.57 1356.65 98.31 1359.33 106.02 1362.01 C113.73 1364.69 125.84 1368.43 134.94 1371.65 C144.04 1374.86 151 1377.8 160.64 1381.29 C170.28 1384.77 183.13 1388.78 192.77 1392.53 C202.41 1396.28 210.44 1399.49 218.47 1403.78 C226.51 1408.06 234.54 1413.41 240.96 1418.23 C247.39 1423.05 252.74 1428.67 257.03 1432.69 C261.31 1436.71 265.06 1440.72 266.67 1442.33" fill="none" stroke="#F0A048" stroke-width="5.6" stroke-linecap="round" opacity="0.35"/><path d="M88.67 1355.58 C91.57 1356.65 98.31 1359.33 106.02 1362.01 C113.73 1364.69 125.84 1368.43 134.94 1371.65 C144.04 1374.86 151 1377.8 160.64 1381.29 C170.28 1384.77 183.13 1388.78 192.77 1392.53 C202.41 1396.28 210.44 1399.49 218.47 1403.78 C226.51 1408.06 234.54 1413.41 240.96 1418.23 C247.39 1423.05 252.74 1428.67 257.03 1432.69 C261.31 1436.71 265.06 1440.72 266.67 1442.33" fill="none" stroke="#FFDFA0" stroke-width="3.2" stroke-linecap="round" opacity="0.85"/><path d="M260.24 1442.33 C260.51 1446.08 260.78 1457.32 261.85 1464.82 C262.92 1472.32 264.52 1480.29 266.67 1487.31 C268.81 1494.32 272.56 1501.02 274.7 1506.91 C276.84 1512.8 278.71 1520.03 279.52 1522.65" fill="none" stroke="#F0A048" stroke-width="5" stroke-linecap="round" opacity="0.35"/><path d="M260.24 1442.33 C260.51 1446.08 260.78 1457.32 261.85 1464.82 C262.92 1472.32 264.52 1480.29 266.67 1487.31 C268.81 1494.32 272.56 1501.02 274.7 1506.91 C276.84 1512.8 278.71 1520.03 279.52 1522.65" fill="none" stroke="#FFDFA0" stroke-width="2.6" stroke-linecap="round" opacity="0.85"/><path d="M252.21 1353.98 C255.15 1355.05 263.19 1359.33 269.88 1360.4 C276.57 1361.47 285.14 1360.67 292.37 1360.4 C299.6 1360.13 309.77 1359.06 313.25 1358.8" fill="none" stroke="#F0A048" stroke-width="4.8" stroke-linecap="round" opacity="0.35"/><path d="M252.21 1353.98 C255.15 1355.05 263.19 1359.33 269.88 1360.4 C276.57 1361.47 285.14 1360.67 292.37 1360.4 C299.6 1360.13 309.77 1359.06 313.25 1358.8" fill="none" stroke="#FFDFA0" stroke-width="2.4" stroke-linecap="round" opacity="0.85"/><path d="M345.38 1320.24 C346.72 1323.45 349.93 1333.63 353.41 1339.52 C356.89 1345.41 361.45 1350.76 366.27 1355.58 C371.08 1360.4 376.97 1363.88 382.33 1368.43 C387.68 1372.99 395.72 1380.48 398.39 1382.89" fill="none" stroke="#F0A048" stroke-width="4.8" stroke-linecap="round" opacity="0.35"/><path d="M345.38 1320.24 C346.72 1323.45 349.93 1333.63 353.41 1339.52 C356.89 1345.41 361.45 1350.76 366.27 1355.58 C371.08 1360.4 376.97 1363.88 382.33 1368.43 C387.68 1372.99 395.72 1380.48 398.39 1382.89" fill="none" stroke="#FFDFA0" stroke-width="2.4" stroke-linecap="round" opacity="0.85"/><path d="M446.59 1339.52 C443.37 1343.27 433.2 1354.51 427.31 1362.01 C421.42 1369.5 416.06 1377.54 411.24 1384.5 C406.43 1391.46 402.41 1397.62 398.39 1403.78 C394.38 1409.93 389.02 1418.5 387.15 1421.45" fill="none" stroke="#F0A048" stroke-width="5.4" stroke-linecap="round" opacity="0.35"/><path d="M446.59 1339.52 C443.37 1343.27 433.2 1354.51 427.31 1362.01 C421.42 1369.5 416.06 1377.54 411.24 1384.5 C406.43 1391.46 402.41 1397.62 398.39 1403.78 C394.38 1409.93 389.02 1418.5 387.15 1421.45" fill="none" stroke="#FFDFA0" stroke-width="3" stroke-linecap="butt" stroke-dasharray="2.7 1.8" opacity="0.85"/><path d="M342.17 1384.5 C343.51 1388.25 346.72 1398.42 350.2 1406.99 C353.68 1415.56 359.3 1427.34 363.05 1435.9 C366.8 1444.47 369.75 1452.5 372.69 1458.39 C375.64 1464.28 379.38 1469.1 380.72 1471.24" fill="none" stroke="#F0A048" stroke-width="5.2" stroke-linecap="round" opacity="0.35"/><path d="M342.17 1384.5 C343.51 1388.25 346.72 1398.42 350.2 1406.99 C353.68 1415.56 359.3 1427.34 363.05 1435.9 C366.8 1444.47 369.75 1452.5 372.69 1458.39 C375.64 1464.28 379.38 1469.1 380.72 1471.24" fill="none" stroke="#FFDFA0" stroke-width="2.8" stroke-linecap="round" opacity="0.85"/><path d="M244.18 1326.67 C245.78 1324.52 250.87 1317.3 253.82 1313.82 C256.76 1310.33 260.51 1307.12 261.85 1305.78" fill="none" stroke="#F0A048" stroke-width="4.8" stroke-linecap="round" opacity="0.35"/><path d="M244.18 1326.67 C245.78 1324.52 250.87 1317.3 253.82 1313.82 C256.76 1310.33 260.51 1307.12 261.85 1305.78" fill="none" stroke="#FFDFA0" stroke-width="2.4" stroke-linecap="butt" stroke-dasharray="2.16 1.44" opacity="0.85"/><path d="M451.41 1373.25 C454.35 1372.99 463.03 1372.45 469.08 1371.65 C475.13 1370.84 484.61 1368.97 487.71 1368.43" fill="none" stroke="#F0A048" stroke-width="4.8" stroke-linecap="round" opacity="0.35"/><path d="M451.41 1373.25 C454.35 1372.99 463.03 1372.45 469.08 1371.65 C475.13 1370.84 484.61 1368.97 487.71 1368.43" fill="none" stroke="#FFDFA0" stroke-width="2.4" stroke-linecap="round" opacity="0.85"/><path d="M297.19 1471.24 C300.13 1469.64 309.24 1464.82 314.86 1461.61 C320.48 1458.39 326.37 1454.91 330.92 1451.97 C335.48 1449.02 340.29 1445.27 342.17 1443.94" fill="none" stroke="#F0A048" stroke-width="5.4" stroke-linecap="round" opacity="0.35"/><path d="M297.19 1471.24 C300.13 1469.64 309.24 1464.82 314.86 1461.61 C320.48 1458.39 326.37 1454.91 330.92 1451.97 C335.48 1449.02 340.29 1445.27 342.17 1443.94" fill="none" stroke="#FFDFA0" stroke-width="3" stroke-linecap="butt" stroke-dasharray="2.7 1.8" opacity="0.85"/><path d="M202.41 1480.88 C204.02 1477.67 209.64 1467.23 212.05 1461.61 C214.46 1455.98 216.06 1449.56 216.87 1447.15" fill="none" stroke="#F0A048" stroke-width="4.8" stroke-linecap="round" opacity="0.35"/><path d="M202.41 1480.88 C204.02 1477.67 209.64 1467.23 212.05 1461.61 C214.46 1455.98 216.06 1449.56 216.87 1447.15" fill="none" stroke="#FFDFA0" stroke-width="2.4" stroke-linecap="butt" stroke-dasharray="2.16 1.44" opacity="0.85"/><path d="M167.07 1395.74 L167.71 1419.84" fill="none" stroke="#F0A048" stroke-width="4.6" stroke-linecap="round" opacity="0.35"/><path d="M167.07 1395.74 L167.71 1419.84" fill="none" stroke="#FFDFA0" stroke-width="2.2" stroke-linecap="round" opacity="0.85"/><path d="M88.67 1461.61 C92.64 1461.71 104.74 1461.98 112.45 1462.25 C120.16 1462.52 131.19 1463.05 134.94 1463.21" fill="none" stroke="#F0A048" stroke-width="4.8" stroke-linecap="round" opacity="0.35"/><path d="M88.67 1461.61 C92.64 1461.71 104.74 1461.98 112.45 1462.25 C120.16 1462.52 131.19 1463.05 134.94 1463.21" fill="none" stroke="#FFDFA0" stroke-width="2.4" stroke-linecap="round" opacity="0.85"/><path d="M93.17 1484.1 L109.24 1484.74" fill="none" stroke="#F0A048" stroke-width="4.6" stroke-linecap="round" opacity="0.35"/><path d="M93.17 1484.1 L109.24 1484.74" fill="none" stroke="#FFDFA0" stroke-width="2.2" stroke-linecap="round" opacity="0.85"/><path d="M329.32 1471.24 C331.19 1474.46 336.55 1484.58 340.56 1490.52 C344.58 1496.47 349.67 1501.55 353.41 1506.91 C357.16 1512.26 361.45 1520.03 363.05 1522.65" fill="none" stroke="#F0A048" stroke-width="4.8" stroke-linecap="round" opacity="0.35"/><path d="M329.32 1471.24 C331.19 1474.46 336.55 1484.58 340.56 1490.52 C344.58 1496.47 349.67 1501.55 353.41 1506.91 C357.16 1512.26 361.45 1520.03 363.05 1522.65" fill="none" stroke="#FFDFA0" stroke-width="2.4" stroke-linecap="round" opacity="0.85"/><path d="M417.67 1509.8 C423.03 1504.98 441.23 1488.92 449.8 1480.88 C458.37 1472.85 462.76 1467.23 469.08 1461.61 C475.39 1455.98 484.61 1449.56 487.71 1447.15" fill="none" stroke="#F0A048" stroke-width="5.2" stroke-linecap="round" opacity="0.35"/><path d="M417.67 1509.8 C423.03 1504.98 441.23 1488.92 449.8 1480.88 C458.37 1472.85 462.76 1467.23 469.08 1461.61 C475.39 1455.98 484.61 1449.56 487.71 1447.15" fill="none" stroke="#FFDFA0" stroke-width="2.8" stroke-linecap="butt" stroke-dasharray="2.52 1.68" opacity="0.85"/><path d="M310.04 1111.41 L334.14 1108.19" fill="none" stroke="#F0A048" stroke-width="4.6" stroke-linecap="round" opacity="0.35"/><path d="M310.04 1111.41 L334.14 1108.19" fill="none" stroke="#FFDFA0" stroke-width="2.2" stroke-linecap="round" opacity="0.85"/><path d="M247.39 1423.05 L276.31 1426.27" fill="none" stroke="#F0A048" stroke-width="4.6" stroke-linecap="round" opacity="0.35"/><path d="M247.39 1423.05 L276.31 1426.27" fill="none" stroke="#FFDFA0" stroke-width="2.2" stroke-linecap="round" opacity="0.85"/><circle cx="375.9" cy="1175.66" r="2.4" fill="#FFF8E0"/><circle cx="177.35" cy="1239.92" r="2.6" fill="#FFF8E0"/><circle cx="342.17" cy="1231.89" r="3" fill="#FFF8E0"/><circle cx="461.04" cy="1382.25" r="4.2" fill="#FFF8E0"/><circle cx="130.12" cy="1156.39" r="1.6" fill="#FFF8E0"/><circle cx="99.6" cy="1282.65" r="1.8" fill="#FFF8E0"/><circle cx="146.18" cy="1345.94" r="1.5" fill="#FFF8E0"/><circle cx="430.52" cy="1294.54" r="1.5" fill="#FFF8E0"/><circle cx="186.35" cy="1217.43" r="1.6" fill="#FFF8E0"/></g></g><line x1="130.9" y1="1196.6" x2="175.2" y2="1196.6" stroke="#00F4F4" stroke-width="4.6"/><text x="102.79" y="1139" font-size="27" font-weight="bold" fill="#fff">5:1</text><rect x="388.6" y="1470.7" width="80.5" height="7.3" fill="#fff"/><text x="386.08" y="1465.6" font-size="23.4" font-weight="bold" fill="#fff">600 nm</text><rect x="487.9" y="1108" width="111.7" height="400" fill="#000"/><polygon points="487.9,1108 515.5,1108 498.8,1131 507.7,1154.8 505,1178.3 516.3,1202 506.1,1225 508.8,1272 588.4,1295.2 516.3,1319.2 526.6,1343 497.4,1366.7 502.8,1390.2 514.2,1413.7 510.1,1436.9 525.3,1460.4 515,1483.4 519.8,1508 487.9,1508" fill="#FF8000" stroke="none" stroke-width="1"/><text transform="translate(532.6 1365.2) rotate(90)" font-size="27.2" fill="#fff">3.1 nm</text></g>
<text x="652.74" y="1106.2" font-size="38" font-weight="bold" fill="#000">h</text>
<g id="panel-h"><rect x="743.8" y="1108" width="399.1" height="400" fill="#C4641A"/><rect x="743.8" y="1108" width="399.1" height="400" filter="url(#nh)"/><g clip-path="url(#clip-h)"><g filter="url(#soft)"><line x1="947" y1="1297" x2="1143" y2="1297" stroke="#7a2300" stroke-width="2" opacity="0.6"/><line x1="981" y1="1297" x2="1010" y2="1297" stroke="#F0B060" stroke-width="1.6" opacity="0.7"/><line x1="1035" y1="1297" x2="1061" y2="1297" stroke="#F0B060" stroke-width="1.6" opacity="0.7"/><path d="M864.9 1128.43 C859.54 1128.54 841.34 1127.1 832.77 1129.08 C824.2 1131.06 819.38 1135.23 813.49 1140.32 C807.6 1145.41 802.25 1153.17 797.43 1159.6 C792.61 1166.02 787.52 1174.06 784.58 1178.88 C781.63 1183.69 780.56 1186.91 779.76 1188.51" fill="none" stroke="#F0A048" stroke-width="5.6" stroke-linecap="round" opacity="0.5"/><path d="M864.9 1128.43 C859.54 1128.54 841.34 1127.1 832.77 1129.08 C824.2 1131.06 819.38 1135.23 813.49 1140.32 C807.6 1145.41 802.25 1153.17 797.43 1159.6 C792.61 1166.02 787.52 1174.06 784.58 1178.88 C781.63 1183.69 780.56 1186.91 779.76 1188.51" fill="none" stroke="#FFE8A8" stroke-width="3.2" stroke-linecap="butt" stroke-dasharray="2.88 1.92" opacity="1"/><path d="M755.66 1212.61 C760.48 1212.24 776.55 1213.31 784.58 1210.36 C792.61 1207.42 798.23 1199.38 803.86 1194.94 C809.48 1190.5 815.64 1186.91 818.31 1183.69 C820.99 1180.48 819.65 1177 819.92 1175.66" fill="none" stroke="#F0A048" stroke-width="5.6" stroke-linecap="round" opacity="0.5"/><path d="M755.66 1212.61 C760.48 1212.24 776.55 1213.31 784.58 1210.36 C792.61 1207.42 798.23 1199.38 803.86 1194.94 C809.48 1190.5 815.64 1186.91 818.31 1183.69 C820.99 1180.48 819.65 1177 819.92 1175.66" fill="none" stroke="#FFE8A8" stroke-width="3.2" stroke-linecap="butt" stroke-dasharray="2.88 1.92" opacity="1"/><path d="M983.78 1230.28 C981.63 1232.96 974.67 1240.46 970.92 1246.35 C967.18 1252.24 965.03 1259.73 961.29 1265.62 C957.54 1271.51 953.79 1277.4 948.43 1281.69 C943.08 1285.97 935.05 1287.58 929.16 1291.33 C923.27 1295.07 918.45 1300.16 913.09 1304.18 C907.74 1308.19 899.71 1313.55 897.03 1315.42" fill="none" stroke="#F0A048" stroke-width="5.6" stroke-linecap="round" opacity="0.5"/><path d="M983.78 1230.28 C981.63 1232.96 974.67 1240.46 970.92 1246.35 C967.18 1252.24 965.03 1259.73 961.29 1265.62 C957.54 1271.51 953.79 1277.4 948.43 1281.69 C943.08 1285.97 935.05 1287.58 929.16 1291.33 C923.27 1295.07 918.45 1300.16 913.09 1304.18 C907.74 1308.19 899.71 1313.55 897.03 1315.42" fill="none" stroke="#FFE8A8" stroke-width="3.2" stroke-linecap="butt" stroke-dasharray="2.88 1.92" opacity="1"/><path d="M977.35 1394.14 C974.67 1394.94 967.18 1396.55 961.29 1398.96 C955.39 1401.37 948.43 1405.11 942.01 1408.59 C935.58 1412.07 929.16 1415.56 922.73 1419.84 C916.31 1424.12 909.34 1429.48 903.45 1434.3 C897.56 1439.12 892.48 1444.2 887.39 1448.76 C882.3 1453.31 875.34 1459.46 872.93 1461.61" fill="none" stroke="#F0A048" stroke-width="5.6" stroke-linecap="round" opacity="0.5"/><path d="M977.35 1394.14 C974.67 1394.94 967.18 1396.55 961.29 1398.96 C955.39 1401.37 948.43 1405.11 942.01 1408.59 C935.58 1412.07 929.16 1415.56 922.73 1419.84 C916.31 1424.12 909.34 1429.48 903.45 1434.3 C897.56 1439.12 892.48 1444.2 887.39 1448.76 C882.3 1453.31 875.34 1459.46 872.93 1461.61" fill="none" stroke="#FFE8A8" stroke-width="3.2" stroke-linecap="butt" stroke-dasharray="2.88 1.92" opacity="1"/><path d="M743.78 1122.65 C744.95 1121.04 748.86 1115.42 750.84 1113.01 C752.82 1110.6 754.86 1109 755.66 1108.19" fill="none" stroke="#F0A048" stroke-width="5.2" stroke-linecap="round" opacity="0.5"/><path d="M743.78 1122.65 C744.95 1121.04 748.86 1115.42 750.84 1113.01 C752.82 1110.6 754.86 1109 755.66 1108.19" fill="none" stroke="#FFE8A8" stroke-width="2.8" stroke-linecap="round" opacity="1"/><circle cx="800.64" cy="1427.23" r="4.2" fill="#FFF8E0"/><circle cx="1025.54" cy="1451" r="2.4" fill="#FFF8E0"/><circle cx="966.1" cy="1490.52" r="2.2" fill="#FFF8E0"/><circle cx="863.94" cy="1236.06" r="1.8" fill="#FFF8E0"/><circle cx="799.04" cy="1226.1" r="1.8" fill="#FFF8E0"/><circle cx="972.53" cy="1219.68" r="1.6" fill="#FFF8E0"/><ellipse cx="801.29" cy="1427.23" rx="6.4" ry="4.4" fill="#FFF8E0"/></g></g><line x1="951" y1="1246.4" x2="988.8" y2="1246.4" stroke="#00F4F4" stroke-width="4.3"/><text x="757.38" y="1138.7" font-size="27" font-weight="bold" fill="#fff">10:1</text><rect x="1048.9" y="1470.7" width="80.2" height="7.3" fill="#fff"/><text x="1046.78" y="1465.6" font-size="23.4" font-weight="bold" fill="#fff">600 nm</text><rect x="1142.9" y="1108" width="111.5" height="400" fill="#000"/><polygon points="1142.9,1108 1166.3,1108 1162.8,1132.4 1157.4,1164.8 1156.9,1193.1 1154.2,1222.8 1168.5,1251.2 1202.8,1279.5 1243.3,1307.3 1165.8,1336.5 1153.9,1365.9 1155.5,1394.3 1146.1,1422.6 1146.4,1451 1154.2,1479.3 1174.4,1508 1142.9,1508" fill="#FF8000" stroke="none" stroke-width="1"/><text transform="translate(1187.5 1365.2) rotate(90)" font-size="27.2" fill="#fff">3.3 nm</text></g>
<text x="1304.34" y="1105.6" font-size="38" font-weight="bold" fill="#000">i</text>
<g id="panel-i"><rect x="1389.7" y="1108" width="399.6" height="400" fill="#C8661A"/><rect x="1389.7" y="1108" width="399.6" height="400" filter="url(#ni)"/><rect x="1389.7" y="1108" width="399.6" height="400" fill="url(#gi)"/><rect x="1389.7" y="1108" width="399.6" height="400" fill="url(#gi2)"/><g clip-path="url(#clip-i)"><g filter="url(#softi)"><line x1="1389.7" y1="1156.5" x2="1789.3" y2="1156.5" stroke="#8a3000" stroke-width="1.2" opacity="0.5"/><line x1="1389.7" y1="1248" x2="1789.3" y2="1248" stroke="#8a3000" stroke-width="1" opacity="0.35"/><line x1="1389.7" y1="1273" x2="1789.3" y2="1273" stroke="#8a3000" stroke-width="1" opacity="0.35"/><line x1="1389.7" y1="1311" x2="1789.3" y2="1311" stroke="#9a3a00" stroke-width="5" opacity="0.35"/><line x1="1389.7" y1="1383.5" x2="1789.3" y2="1383.5" stroke="#7a2800" stroke-width="1.2" opacity="0.55"/><line x1="1389.7" y1="1471" x2="1789.3" y2="1471" stroke="#8a3000" stroke-width="1" opacity="0.4"/><line x1="1389.7" y1="1498" x2="1789.3" y2="1498" stroke="#8a3000" stroke-width="1" opacity="0.35"/><path d="M1390 1195.35 C1392.65 1192.7 1399.26 1184.76 1405.88 1179.47 C1412.5 1174.17 1419.12 1168.88 1429.7 1163.58 C1440.29 1158.29 1457.5 1151.67 1469.41 1147.7 C1481.32 1143.73 1492.35 1141.97 1501.17 1139.76 C1509.99 1137.56 1512.64 1137.12 1522.35 1134.47 C1532.05 1131.82 1546.17 1126.97 1559.4 1123.88 C1572.64 1120.79 1588.96 1118.59 1601.75 1115.94 C1614.55 1113.29 1630.43 1109.32 1636.16 1108" fill="none" stroke="#F0A048" stroke-width="3.4" stroke-linecap="round" opacity="0.45"/><path d="M1390 1195.35 C1392.65 1192.7 1399.26 1184.76 1405.88 1179.47 C1412.5 1174.17 1419.12 1168.88 1429.7 1163.58 C1440.29 1158.29 1457.5 1151.67 1469.41 1147.7 C1481.32 1143.73 1492.35 1141.97 1501.17 1139.76 C1509.99 1137.56 1512.64 1137.12 1522.35 1134.47 C1532.05 1131.82 1546.17 1126.97 1559.4 1123.88 C1572.64 1120.79 1588.96 1118.59 1601.75 1115.94 C1614.55 1113.29 1630.43 1109.32 1636.16 1108" fill="none" stroke="#FFE6B4" stroke-width="1.6" stroke-linecap="round" opacity="0.95"/><path d="M1390 1134.47 C1394.41 1133.23 1407.65 1129.7 1416.47 1127.06 C1425.29 1124.41 1435.88 1121.76 1442.94 1118.59 C1450 1115.41 1456.17 1109.76 1458.82 1108" fill="none" stroke="#F0A048" stroke-width="3.4" stroke-linecap="round" opacity="0.45"/><path d="M1390 1134.47 C1394.41 1133.23 1407.65 1129.7 1416.47 1127.06 C1425.29 1124.41 1435.88 1121.76 1442.94 1118.59 C1450 1115.41 1456.17 1109.76 1458.82 1108" fill="none" stroke="#FFE6B4" stroke-width="1.6" stroke-linecap="round" opacity="0.95"/><path d="M1566.02 1108 C1564.92 1109.76 1563.15 1115.5 1559.4 1118.59 C1555.65 1121.68 1550.58 1123.88 1543.52 1126.53 C1536.46 1129.18 1524.99 1132.35 1517.05 1134.47 C1509.11 1136.59 1499.41 1138.44 1495.88 1139.23" fill="none" stroke="#F0A048" stroke-width="3.4" stroke-linecap="round" opacity="0.45"/><path d="M1566.02 1108 C1564.92 1109.76 1563.15 1115.5 1559.4 1118.59 C1555.65 1121.68 1550.58 1123.88 1543.52 1126.53 C1536.46 1129.18 1524.99 1132.35 1517.05 1134.47 C1509.11 1136.59 1499.41 1138.44 1495.88 1139.23" fill="none" stroke="#FFE6B4" stroke-width="1.6" stroke-linecap="round" opacity="0.95"/><path d="M1490.58 1147.7 C1491.02 1152.12 1492.35 1164.03 1493.23 1174.17 C1494.11 1184.32 1494.55 1199.76 1495.88 1208.58 C1497.2 1217.41 1497.64 1221.38 1501.17 1227.11 C1504.7 1232.85 1510.88 1239.02 1517.05 1242.99 C1523.23 1246.96 1531.17 1250.49 1538.23 1250.93 C1545.28 1251.37 1553.67 1250.49 1559.4 1245.64 C1565.14 1240.79 1569.77 1228.43 1572.64 1221.82 C1575.5 1215.2 1576.61 1210.79 1576.61 1205.94 C1576.61 1201.08 1575.5 1198.44 1572.64 1192.7 C1569.77 1186.97 1564.25 1177.7 1559.4 1171.53 C1554.55 1165.35 1549.7 1160.28 1543.52 1155.64 C1537.34 1151.01 1528.96 1146.47 1522.35 1143.73 C1515.73 1141 1506.9 1139.98 1503.82 1139.23" fill="none" stroke="#F0A048" stroke-width="3.4" stroke-linecap="round" opacity="0.45"/><path d="M1490.58 1147.7 C1491.02 1152.12 1492.35 1164.03 1493.23 1174.17 C1494.11 1184.32 1494.55 1199.76 1495.88 1208.58 C1497.2 1217.41 1497.64 1221.38 1501.17 1227.11 C1504.7 1232.85 1510.88 1239.02 1517.05 1242.99 C1523.23 1246.96 1531.17 1250.49 1538.23 1250.93 C1545.28 1251.37 1553.67 1250.49 1559.4 1245.64 C1565.14 1240.79 1569.77 1228.43 1572.64 1221.82 C1575.5 1215.2 1576.61 1210.79 1576.61 1205.94 C1576.61 1201.08 1575.5 1198.44 1572.64 1192.7 C1569.77 1186.97 1564.25 1177.7 1559.4 1171.53 C1554.55 1165.35 1549.7 1160.28 1543.52 1155.64 C1537.34 1151.01 1528.96 1146.47 1522.35 1143.73 C1515.73 1141 1506.9 1139.98 1503.82 1139.23" fill="none" stroke="#FFE6B4" stroke-width="1.6" stroke-linecap="round" opacity="0.95"/><path d="M1495.88 1208.58 C1495.21 1212.99 1493.01 1226.23 1491.91 1235.05 C1490.8 1243.87 1490.36 1254.02 1489.26 1261.52 C1488.16 1269.02 1487.05 1274.09 1485.29 1280.05 C1483.52 1286 1479.77 1294.39 1478.67 1297.25" fill="none" stroke="#F0A048" stroke-width="3.4" stroke-linecap="round" opacity="0.45"/><path d="M1495.88 1208.58 C1495.21 1212.99 1493.01 1226.23 1491.91 1235.05 C1490.8 1243.87 1490.36 1254.02 1489.26 1261.52 C1488.16 1269.02 1487.05 1274.09 1485.29 1280.05 C1483.52 1286 1479.77 1294.39 1478.67 1297.25" fill="none" stroke="#FFE6B4" stroke-width="1.6" stroke-linecap="round" opacity="0.95"/><path d="M1576.61 1205.94 C1575.5 1209.46 1572.86 1219.17 1569.99 1227.11 C1567.12 1235.05 1561.17 1249.17 1559.4 1253.58" fill="none" stroke="#F0A048" stroke-width="3.4" stroke-linecap="round" opacity="0.45"/><path d="M1576.61 1205.94 C1575.5 1209.46 1572.86 1219.17 1569.99 1227.11 C1567.12 1235.05 1561.17 1249.17 1559.4 1253.58" fill="none" stroke="#FFE6B4" stroke-width="1.6" stroke-linecap="round" opacity="0.95"/><path d="M1636.16 1108 C1632.63 1109.32 1621.6 1112.85 1614.99 1115.94 C1608.37 1119.03 1601.31 1122.12 1596.46 1126.53 C1591.61 1130.94 1588.08 1136.67 1585.87 1142.41 C1583.67 1148.14 1582.78 1153.44 1583.22 1160.94 C1583.67 1168.44 1586.97 1178.58 1588.52 1187.41 C1590.06 1196.23 1592.49 1205.05 1592.49 1213.88 C1592.49 1222.7 1590.06 1231.52 1588.52 1240.35 C1586.97 1249.17 1585.43 1258.43 1583.22 1266.81 C1581.02 1275.2 1578.37 1283.58 1575.28 1290.64 C1572.2 1297.69 1568.45 1304.31 1564.7 1309.16 C1560.95 1314.02 1554.77 1317.99 1552.78 1319.75" fill="none" stroke="#F0A048" stroke-width="3.4" stroke-linecap="round" opacity="0.45"/><path d="M1636.16 1108 C1632.63 1109.32 1621.6 1112.85 1614.99 1115.94 C1608.37 1119.03 1601.31 1122.12 1596.46 1126.53 C1591.61 1130.94 1588.08 1136.67 1585.87 1142.41 C1583.67 1148.14 1582.78 1153.44 1583.22 1160.94 C1583.67 1168.44 1586.97 1178.58 1588.52 1187.41 C1590.06 1196.23 1592.49 1205.05 1592.49 1213.88 C1592.49 1222.7 1590.06 1231.52 1588.52 1240.35 C1586.97 1249.17 1585.43 1258.43 1583.22 1266.81 C1581.02 1275.2 1578.37 1283.58 1575.28 1290.64 C1572.2 1297.69 1568.45 1304.31 1564.7 1309.16 C1560.95 1314.02 1554.77 1317.99 1552.78 1319.75" fill="none" stroke="#FFE6B4" stroke-width="1.6" stroke-linecap="round" opacity="0.95"/><path d="M1636.16 1108 C1636.6 1111.53 1637.49 1121.68 1638.81 1129.18 C1640.13 1136.67 1641.46 1145.5 1644.1 1153 C1646.75 1160.5 1650.28 1167.56 1654.69 1174.17 C1659.1 1180.79 1664.84 1187.41 1670.57 1192.7 C1676.31 1197.99 1682.92 1203.07 1689.1 1205.94 C1695.28 1208.8 1701.01 1209.69 1707.63 1209.91 C1714.25 1210.13 1722.19 1208.36 1728.8 1207.26 C1735.42 1206.16 1741.16 1205.05 1747.33 1203.29 C1753.51 1201.52 1758.58 1199.98 1765.86 1196.67 C1773.14 1193.36 1786.81 1185.64 1791.01 1183.44" fill="none" stroke="#F0A048" stroke-width="3.4" stroke-linecap="round" opacity="0.45"/><path d="M1636.16 1108 C1636.6 1111.53 1637.49 1121.68 1638.81 1129.18 C1640.13 1136.67 1641.46 1145.5 1644.1 1153 C1646.75 1160.5 1650.28 1167.56 1654.69 1174.17 C1659.1 1180.79 1664.84 1187.41 1670.57 1192.7 C1676.31 1197.99 1682.92 1203.07 1689.1 1205.94 C1695.28 1208.8 1701.01 1209.69 1707.63 1209.91 C1714.25 1210.13 1722.19 1208.36 1728.8 1207.26 C1735.42 1206.16 1741.16 1205.05 1747.33 1203.29 C1753.51 1201.52 1758.58 1199.98 1765.86 1196.67 C1773.14 1193.36 1786.81 1185.64 1791.01 1183.44" fill="none" stroke="#FFE6B4" stroke-width="1.6" stroke-linecap="round" opacity="0.95"/><path d="M1649.4 1109.32 C1653.81 1110.87 1667.92 1114.84 1675.87 1118.59 C1683.81 1122.34 1689.98 1126.97 1697.04 1131.82 C1704.1 1136.67 1711.6 1142.19 1718.22 1147.7 C1724.83 1153.22 1733.66 1162.04 1736.74 1164.91" fill="none" stroke="#F0A048" stroke-width="3.4" stroke-linecap="round" opacity="0.45"/><path d="M1649.4 1109.32 C1653.81 1110.87 1667.92 1114.84 1675.87 1118.59 C1683.81 1122.34 1689.98 1126.97 1697.04 1131.82 C1704.1 1136.67 1711.6 1142.19 1718.22 1147.7 C1724.83 1153.22 1733.66 1162.04 1736.74 1164.91" fill="none" stroke="#FFE6B4" stroke-width="1.6" stroke-linecap="round" opacity="0.95"/><path d="M1646.75 1245.64 C1649.84 1246.08 1659.54 1245.64 1665.28 1248.29 C1671.01 1250.93 1676.75 1256.67 1681.16 1261.52 C1685.57 1266.37 1688.88 1271.23 1691.75 1277.4 C1694.61 1283.58 1696.6 1291.52 1698.36 1298.58 C1700.13 1305.64 1701.01 1312.69 1702.33 1319.75 C1703.66 1326.81 1704.76 1333.87 1706.3 1340.93 C1707.85 1347.99 1709.61 1354.6 1711.6 1362.1 C1713.58 1369.6 1715.35 1377.98 1718.22 1385.92 C1721.08 1393.87 1725.27 1402.69 1728.8 1409.75 C1732.33 1416.81 1736.96 1422.1 1739.39 1428.28 C1741.82 1434.45 1743.8 1440.63 1743.36 1446.8 C1742.92 1452.98 1739.61 1460.04 1736.74 1465.33 C1733.88 1470.63 1730.13 1474.15 1726.16 1478.57 C1722.19 1482.98 1717.33 1486.86 1712.92 1491.8 C1708.51 1496.74 1701.89 1505.48 1699.69 1508.21" fill="none" stroke="#F0A048" stroke-width="3.4" stroke-linecap="round" opacity="0.45"/><path d="M1646.75 1245.64 C1649.84 1246.08 1659.54 1245.64 1665.28 1248.29 C1671.01 1250.93 1676.75 1256.67 1681.16 1261.52 C1685.57 1266.37 1688.88 1271.23 1691.75 1277.4 C1694.61 1283.58 1696.6 1291.52 1698.36 1298.58 C1700.13 1305.64 1701.01 1312.69 1702.33 1319.75 C1703.66 1326.81 1704.76 1333.87 1706.3 1340.93 C1707.85 1347.99 1709.61 1354.6 1711.6 1362.1 C1713.58 1369.6 1715.35 1377.98 1718.22 1385.92 C1721.08 1393.87 1725.27 1402.69 1728.8 1409.75 C1732.33 1416.81 1736.96 1422.1 1739.39 1428.28 C1741.82 1434.45 1743.8 1440.63 1743.36 1446.8 C1742.92 1452.98 1739.61 1460.04 1736.74 1465.33 C1733.88 1470.63 1730.13 1474.15 1726.16 1478.57 C1722.19 1482.98 1717.33 1486.86 1712.92 1491.8 C1708.51 1496.74 1701.89 1505.48 1699.69 1508.21" fill="none" stroke="#FFE6B4" stroke-width="1.6" stroke-linecap="round" opacity="0.95"/><path d="M1791.01 1213.88 C1788.14 1217.41 1779.76 1228.88 1773.8 1235.05 C1767.85 1241.23 1760.57 1245.2 1755.27 1250.93 C1749.98 1256.67 1746.01 1262.84 1742.04 1269.46 C1738.07 1276.08 1734.98 1284.02 1731.45 1290.64 C1727.92 1297.25 1723.51 1304.75 1720.86 1309.16 C1718.22 1313.58 1716.45 1315.78 1715.57 1317.11" fill="none" stroke="#F0A048" stroke-width="3.4" stroke-linecap="round" opacity="0.45"/><path d="M1791.01 1213.88 C1788.14 1217.41 1779.76 1228.88 1773.8 1235.05 C1767.85 1241.23 1760.57 1245.2 1755.27 1250.93 C1749.98 1256.67 1746.01 1262.84 1742.04 1269.46 C1738.07 1276.08 1734.98 1284.02 1731.45 1290.64 C1727.92 1297.25 1723.51 1304.75 1720.86 1309.16 C1718.22 1313.58 1716.45 1315.78 1715.57 1317.11" fill="none" stroke="#FFE6B4" stroke-width="1.6" stroke-linecap="round" opacity="0.95"/><path d="M1765.86 1196.67 C1764.54 1200.42 1760.57 1211.01 1757.92 1219.17 C1755.27 1227.33 1751.74 1239.9 1749.98 1245.64 C1748.21 1251.37 1747.77 1252.26 1747.33 1253.58" fill="none" stroke="#F0A048" stroke-width="3.4" stroke-linecap="round" opacity="0.45"/><path d="M1765.86 1196.67 C1764.54 1200.42 1760.57 1211.01 1757.92 1219.17 C1755.27 1227.33 1751.74 1239.9 1749.98 1245.64 C1748.21 1251.37 1747.77 1252.26 1747.33 1253.58" fill="none" stroke="#FFE6B4" stroke-width="1.6" stroke-linecap="round" opacity="0.95"/><path d="M1501.17 1139.76 C1497.2 1141.97 1484.85 1147.26 1477.35 1153 C1469.85 1158.73 1463.23 1166.67 1456.17 1174.17 C1449.11 1181.67 1441.17 1189.61 1435 1197.99 C1428.82 1206.38 1424.41 1215.64 1419.12 1224.46 C1413.82 1233.29 1407.43 1242.11 1403.23 1250.93 C1399.04 1259.76 1394.85 1269.46 1393.97 1277.4 C1393.09 1285.34 1395.07 1291.08 1397.94 1298.58 C1400.81 1306.08 1405.88 1315.34 1411.18 1322.4 C1416.47 1329.46 1423.53 1334.75 1429.7 1340.93 C1435.88 1347.1 1441.61 1353.28 1448.23 1359.46 C1454.85 1365.63 1462.79 1372.25 1469.41 1377.98 C1476.02 1383.72 1482.2 1388.57 1487.94 1393.87 C1493.67 1399.16 1498.52 1404.89 1503.82 1409.75 C1509.11 1414.6 1513.96 1419.89 1519.7 1422.98 C1525.43 1426.07 1531.61 1426.51 1538.23 1428.28 C1544.84 1430.04 1552.34 1431.36 1559.4 1433.57 C1566.46 1435.77 1574.4 1438.42 1580.58 1441.51 C1586.75 1444.6 1591.61 1448.57 1596.46 1452.1 C1601.31 1455.63 1607.05 1459.6 1609.69 1462.69 C1612.34 1465.77 1613 1469.08 1612.34 1470.63 C1611.68 1472.17 1607.93 1473.05 1605.72 1471.95 C1603.52 1470.85 1601.53 1467.76 1599.11 1464.01 C1596.68 1460.26 1592.49 1451.88 1591.16 1449.45" fill="none" stroke="#F0A048" stroke-width="3.4" stroke-linecap="round" opacity="0.45"/><path d="M1501.17 1139.76 C1497.2 1141.97 1484.85 1147.26 1477.35 1153 C1469.85 1158.73 1463.23 1166.67 1456.17 1174.17 C1449.11 1181.67 1441.17 1189.61 1435 1197.99 C1428.82 1206.38 1424.41 1215.64 1419.12 1224.46 C1413.82 1233.29 1407.43 1242.11 1403.23 1250.93 C1399.04 1259.76 1394.85 1269.46 1393.97 1277.4 C1393.09 1285.34 1395.07 1291.08 1397.94 1298.58 C1400.81 1306.08 1405.88 1315.34 1411.18 1322.4 C1416.47 1329.46 1423.53 1334.75 1429.7 1340.93 C1435.88 1347.1 1441.61 1353.28 1448.23 1359.46 C1454.85 1365.63 1462.79 1372.25 1469.41 1377.98 C1476.02 1383.72 1482.2 1388.57 1487.94 1393.87 C1493.67 1399.16 1498.52 1404.89 1503.82 1409.75 C1509.11 1414.6 1513.96 1419.89 1519.7 1422.98 C1525.43 1426.07 1531.61 1426.51 1538.23 1428.28 C1544.84 1430.04 1552.34 1431.36 1559.4 1433.57 C1566.46 1435.77 1574.4 1438.42 1580.58 1441.51 C1586.75 1444.6 1591.61 1448.57 1596.46 1452.1 C1601.31 1455.63 1607.05 1459.6 1609.69 1462.69 C1612.34 1465.77 1613 1469.08 1612.34 1470.63 C1611.68 1472.17 1607.93 1473.05 1605.72 1471.95 C1603.52 1470.85 1601.53 1467.76 1599.11 1464.01 C1596.68 1460.26 1592.49 1451.88 1591.16 1449.45" fill="none" stroke="#FFE6B4" stroke-width="1.6" stroke-linecap="round" opacity="0.95"/><path d="M1390 1375.34 C1392.65 1374.9 1400.59 1374.01 1405.88 1372.69 C1411.18 1371.37 1417.35 1369.6 1421.76 1367.4 C1426.17 1365.19 1429.92 1362.1 1432.35 1359.46 C1434.78 1356.81 1435.66 1352.84 1436.32 1351.52" fill="none" stroke="#F0A048" stroke-width="3.4" stroke-linecap="round" opacity="0.45"/><path d="M1390 1375.34 C1392.65 1374.9 1400.59 1374.01 1405.88 1372.69 C1411.18 1371.37 1417.35 1369.6 1421.76 1367.4 C1426.17 1365.19 1429.92 1362.1 1432.35 1359.46 C1434.78 1356.81 1435.66 1352.84 1436.32 1351.52" fill="none" stroke="#FFE6B4" stroke-width="1.6" stroke-linecap="round" opacity="0.95"/><path d="M1446.91 1359.46 C1448.89 1362.1 1455.95 1369.6 1458.82 1375.34 C1461.69 1381.07 1463.67 1387.25 1464.11 1393.87 C1464.55 1400.48 1463.67 1408.42 1461.47 1415.04 C1459.26 1421.66 1455.29 1429.38 1450.88 1433.57 C1446.47 1437.76 1440.73 1437.98 1435 1440.19 C1429.26 1442.39 1422.2 1443.05 1416.47 1446.8 C1410.73 1450.55 1405 1457.61 1400.59 1462.69 C1396.18 1467.76 1391.76 1474.82 1390 1477.24" fill="none" stroke="#F0A048" stroke-width="3.4" stroke-linecap="round" opacity="0.45"/><path d="M1446.91 1359.46 C1448.89 1362.1 1455.95 1369.6 1458.82 1375.34 C1461.69 1381.07 1463.67 1387.25 1464.11 1393.87 C1464.55 1400.48 1463.67 1408.42 1461.47 1415.04 C1459.26 1421.66 1455.29 1429.38 1450.88 1433.57 C1446.47 1437.76 1440.73 1437.98 1435 1440.19 C1429.26 1442.39 1422.2 1443.05 1416.47 1446.8 C1410.73 1450.55 1405 1457.61 1400.59 1462.69 C1396.18 1467.76 1391.76 1474.82 1390 1477.24" fill="none" stroke="#FFE6B4" stroke-width="1.6" stroke-linecap="round" opacity="0.95"/><path d="M1461.47 1508.21 C1461.91 1503.27 1461.91 1487.92 1464.11 1478.57 C1466.32 1469.21 1470.29 1459.16 1474.7 1452.1 C1479.11 1445.04 1484.85 1440.19 1490.58 1436.22 C1496.32 1432.25 1502.49 1429.82 1509.11 1428.28 C1515.73 1426.73 1523.23 1426.73 1530.29 1426.95 C1537.34 1427.17 1547.93 1429.16 1551.46 1429.6" fill="none" stroke="#F0A048" stroke-width="3.4" stroke-linecap="round" opacity="0.45"/><path d="M1461.47 1508.21 C1461.91 1503.27 1461.91 1487.92 1464.11 1478.57 C1466.32 1469.21 1470.29 1459.16 1474.7 1452.1 C1479.11 1445.04 1484.85 1440.19 1490.58 1436.22 C1496.32 1432.25 1502.49 1429.82 1509.11 1428.28 C1515.73 1426.73 1523.23 1426.73 1530.29 1426.95 C1537.34 1427.17 1547.93 1429.16 1551.46 1429.6" fill="none" stroke="#FFE6B4" stroke-width="1.6" stroke-linecap="round" opacity="0.95"/><path d="M1530.29 1407.1 C1532.49 1408.86 1538.67 1414.16 1543.52 1417.69 C1548.37 1421.22 1554.11 1424.75 1559.4 1428.28 C1564.7 1431.8 1572.64 1437.1 1575.28 1438.86" fill="none" stroke="#F0A048" stroke-width="3.4" stroke-linecap="round" opacity="0.45"/><path d="M1530.29 1407.1 C1532.49 1408.86 1538.67 1414.16 1543.52 1417.69 C1548.37 1421.22 1554.11 1424.75 1559.4 1428.28 C1564.7 1431.8 1572.64 1437.1 1575.28 1438.86" fill="none" stroke="#FFE6B4" stroke-width="1.6" stroke-linecap="round" opacity="0.95"/><path d="M1662.63 1325.05 C1663.51 1328.13 1665.28 1337.84 1667.92 1343.57 C1670.57 1349.31 1674.1 1354.6 1678.51 1359.46 C1682.92 1364.31 1689.54 1369.16 1694.39 1372.69 C1699.25 1376.22 1705.42 1379.31 1707.63 1380.63" fill="none" stroke="#F0A048" stroke-width="3.4" stroke-linecap="round" opacity="0.45"/><path d="M1662.63 1325.05 C1663.51 1328.13 1665.28 1337.84 1667.92 1343.57 C1670.57 1349.31 1674.1 1354.6 1678.51 1359.46 C1682.92 1364.31 1689.54 1369.16 1694.39 1372.69 C1699.25 1376.22 1705.42 1379.31 1707.63 1380.63" fill="none" stroke="#FFE6B4" stroke-width="1.6" stroke-linecap="round" opacity="0.95"/><path d="M1708.95 1372.69 C1707.85 1371.37 1704.98 1367.4 1702.33 1364.75 C1699.69 1362.1 1694.84 1359.46 1693.07 1356.81 C1691.31 1354.16 1691.09 1351.07 1691.75 1348.87 C1692.41 1346.66 1694.84 1344.24 1697.04 1343.57 C1699.25 1342.91 1703 1343.13 1704.98 1344.9 C1706.97 1346.66 1707.85 1350.41 1708.95 1354.16 C1710.05 1357.91 1711.16 1365.19 1711.6 1367.4" fill="none" stroke="#F0A048" stroke-width="3.4" stroke-linecap="round" opacity="0.45"/><path d="M1708.95 1372.69 C1707.85 1371.37 1704.98 1367.4 1702.33 1364.75 C1699.69 1362.1 1694.84 1359.46 1693.07 1356.81 C1691.31 1354.16 1691.09 1351.07 1691.75 1348.87 C1692.41 1346.66 1694.84 1344.24 1697.04 1343.57 C1699.25 1342.91 1703 1343.13 1704.98 1344.9 C1706.97 1346.66 1707.85 1350.41 1708.95 1354.16 C1710.05 1357.91 1711.16 1365.19 1711.6 1367.4" fill="none" stroke="#FFE6B4" stroke-width="1.6" stroke-linecap="round" opacity="0.95"/><path d="M1659.98 1364.75 C1661.75 1367.84 1667.7 1376.66 1670.57 1383.28 C1673.44 1389.9 1675.64 1397.39 1677.19 1404.45 C1678.73 1411.51 1680.5 1419.01 1679.84 1425.63 C1679.17 1432.25 1676.53 1438.86 1673.22 1444.16 C1669.91 1449.45 1665.28 1454.08 1659.98 1457.39 C1654.69 1460.7 1647.63 1463.35 1641.46 1464.01 C1635.28 1464.67 1628.22 1462.46 1622.93 1461.36 C1617.63 1460.26 1611.9 1458.05 1609.69 1457.39" fill="none" stroke="#F0A048" stroke-width="3.4" stroke-linecap="round" opacity="0.45"/><path d="M1659.98 1364.75 C1661.75 1367.84 1667.7 1376.66 1670.57 1383.28 C1673.44 1389.9 1675.64 1397.39 1677.19 1404.45 C1678.73 1411.51 1680.5 1419.01 1679.84 1425.63 C1679.17 1432.25 1676.53 1438.86 1673.22 1444.16 C1669.91 1449.45 1665.28 1454.08 1659.98 1457.39 C1654.69 1460.7 1647.63 1463.35 1641.46 1464.01 C1635.28 1464.67 1628.22 1462.46 1622.93 1461.36 C1617.63 1460.26 1611.9 1458.05 1609.69 1457.39" fill="none" stroke="#FFE6B4" stroke-width="1.6" stroke-linecap="round" opacity="0.95"/><path d="M1739.39 1428.28 C1742.92 1430.04 1751.96 1435.55 1760.57 1438.86 C1769.17 1442.17 1785.93 1446.58 1791.01 1448.13" fill="none" stroke="#F0A048" stroke-width="3.4" stroke-linecap="round" opacity="0.45"/><path d="M1739.39 1428.28 C1742.92 1430.04 1751.96 1435.55 1760.57 1438.86 C1769.17 1442.17 1785.93 1446.58 1791.01 1448.13" fill="none" stroke="#FFE6B4" stroke-width="1.6" stroke-linecap="round" opacity="0.95"/><path d="M1765.86 1339.6 C1767.62 1338.72 1772.26 1335.85 1776.45 1334.31 C1780.64 1332.77 1788.58 1331 1791.01 1330.34" fill="none" stroke="#F0A048" stroke-width="3.4" stroke-linecap="round" opacity="0.45"/><path d="M1765.86 1339.6 C1767.62 1338.72 1772.26 1335.85 1776.45 1334.31 C1780.64 1332.77 1788.58 1331 1791.01 1330.34" fill="none" stroke="#FFE6B4" stroke-width="1.6" stroke-linecap="round" opacity="0.95"/><path d="M1427.06 1276.08 C1428.6 1275.2 1434.03 1272.77 1436.32 1270.78 C1438.61 1268.8 1440.07 1265.27 1440.82 1264.17" fill="none" stroke="#F0A048" stroke-width="3.4" stroke-linecap="round" opacity="0.45"/><path d="M1427.06 1276.08 C1428.6 1275.2 1434.03 1272.77 1436.32 1270.78 C1438.61 1268.8 1440.07 1265.27 1440.82 1264.17" fill="none" stroke="#FFE6B4" stroke-width="1.6" stroke-linecap="round" opacity="0.95"/><path d="M1681.16 1508.21 C1683.37 1505.04 1689.1 1493.65 1694.39 1489.15 C1699.69 1484.65 1706.75 1482.98 1712.92 1481.21 C1719.1 1479.45 1728.36 1479.01 1731.45 1478.57" fill="none" stroke="#F0A048" stroke-width="3.4" stroke-linecap="round" opacity="0.45"/><path d="M1681.16 1508.21 C1683.37 1505.04 1689.1 1493.65 1694.39 1489.15 C1699.69 1484.65 1706.75 1482.98 1712.92 1481.21 C1719.1 1479.45 1728.36 1479.01 1731.45 1478.57" fill="none" stroke="#FFE6B4" stroke-width="1.6" stroke-linecap="round" opacity="0.95"/><path d="M1718.22 1498.42 C1722.19 1497.54 1734.1 1495.55 1742.04 1493.12 C1749.98 1490.7 1757.7 1485.85 1765.86 1483.86 C1774.02 1481.88 1786.81 1481.65 1791.01 1481.21" fill="none" stroke="#F0A048" stroke-width="3.4" stroke-linecap="round" opacity="0.45"/><path d="M1718.22 1498.42 C1722.19 1497.54 1734.1 1495.55 1742.04 1493.12 C1749.98 1490.7 1757.7 1485.85 1765.86 1483.86 C1774.02 1481.88 1786.81 1481.65 1791.01 1481.21" fill="none" stroke="#FFE6B4" stroke-width="1.6" stroke-linecap="round" opacity="0.95"/><path d="M1760.57 1508.21 C1762.77 1505.92 1768.73 1497.62 1773.8 1494.45 C1778.87 1491.27 1788.14 1490.04 1791.01 1489.15" fill="none" stroke="#F0A048" stroke-width="3.4" stroke-linecap="round" opacity="0.45"/><path d="M1760.57 1508.21 C1762.77 1505.92 1768.73 1497.62 1773.8 1494.45 C1778.87 1491.27 1788.14 1490.04 1791.01 1489.15" fill="none" stroke="#FFE6B4" stroke-width="1.6" stroke-linecap="round" opacity="0.95"/><circle cx="1406.41" cy="1227.9" r="2.4" fill="#FFF8E0"/><circle cx="1498.52" cy="1242.99" r="2.4" fill="#FFF8E0"/><circle cx="1446.38" cy="1252.26" r="2" fill="#FFF8E0"/><circle cx="1481.85" cy="1254.11" r="2" fill="#FFF8E0"/><circle cx="1600.43" cy="1238.49" r="1.8" fill="#FFF8E0"/><circle cx="1697.04" cy="1262.84" r="1.6" fill="#FFF8E0"/><circle cx="1650.19" cy="1303.87" r="1.8" fill="#FFF8E0"/><circle cx="1569.99" cy="1325.58" r="1.8" fill="#FFF8E0"/><circle cx="1650.72" cy="1343.57" r="2.2" fill="#FFF8E0"/><circle cx="1765.86" cy="1383.28" r="1.8" fill="#FFF8E0"/><circle cx="1442.94" cy="1392.54" r="1.8" fill="#FFF8E0"/><circle cx="1446.38" cy="1423.51" r="1.6" fill="#FFF8E0"/><circle cx="1708.42" cy="1195.35" r="2.2" fill="#FFF8E0"/><circle cx="1526.32" cy="1186.61" r="1.6" fill="#FFF8E0"/><circle cx="1487.14" cy="1224.73" r="1.6" fill="#FFF8E0"/><circle cx="1615.78" cy="1227.11" r="1.4" fill="#FFF8E0"/><circle cx="1450.35" cy="1288.78" r="1.6" fill="#FFF8E0"/><circle cx="1413.82" cy="1305.19" r="1.4" fill="#FFF8E0"/><circle cx="1499.32" cy="1317.11" r="1.4" fill="#FFF8E0"/><circle cx="1548.81" cy="1327.69" r="1.2" fill="#FFF8E0"/><ellipse cx="1775.12" cy="1311.28" rx="5.6" ry="4.2" fill="#FFFAE8"/><ellipse cx="1605.72" cy="1504.24" rx="4.6" ry="3.4" fill="#FFFAE8"/><circle cx="1638.05" cy="1403.75" r="1.44" fill="#FFE8B0" opacity="0.98"/><circle cx="1684.26" cy="2380" r="1.17" fill="#FFE8B0" opacity="0.98"/><circle cx="1648.34" cy="2357.04" r="1.52" fill="#FFE8B0" opacity="0.73"/><circle cx="1577.28" cy="1207.64" r="1.24" fill="#FFE8B0" opacity="0.87"/><circle cx="1397.18" cy="2376.76" r="1.53" fill="#FFE8B0" opacity="0.93"/><circle cx="1455.04" cy="2420.44" r="1.44" fill="#FFE8B0" opacity="0.74"/><circle cx="1635.89" cy="1160.17" r="0.8" fill="#FFE8B0" opacity="0.96"/><circle cx="1474.74" cy="2407.82" r="1.5" fill="#FFE8B0" opacity="0.79"/><circle cx="1771.78" cy="2559.34" r="1.23" fill="#FFE8B0" opacity="0.9"/><circle cx="1472.89" cy="1482.63" r="1.35" fill="#FFE8B0" opacity="0.99"/><circle cx="1745.03" cy="2345" r="0.93" fill="#FFE8B0" opacity="0.74"/><circle cx="1417.73" cy="2428.18" r="1.04" fill="#FFE8B0" opacity="0.88"/><circle cx="1393.34" cy="1378.46" r="1.07" fill="#FFE8B0" opacity="0.79"/><circle cx="1715.31" cy="2304.46" r="1.18" fill="#FFE8B0" opacity="0.91"/><circle cx="1414.52" cy="2372.36" r="1.58" fill="#FFE8B0" opacity="0.71"/><circle cx="1688.17" cy="1444.57" r="0.81" fill="#FFE8B0" opacity="0.94"/><circle cx="1536.64" cy="2356.67" r="0.84" fill="#FFE8B0" opacity="0.75"/><circle cx="1769.3" cy="2360.52" r="0.96" fill="#FFE8B0" opacity="0.93"/><circle cx="1759.21" cy="1483.05" r="1.08" fill="#FFE8B0" opacity="0.81"/><circle cx="1599.26" cy="2370.36" r="1.4" fill="#FFE8B0" opacity="0.94"/><circle cx="1731.58" cy="2331.96" r="0.83" fill="#FFE8B0" opacity="0.98"/><circle cx="1428.02" cy="1244.93" r="1.29" fill="#FFE8B0" opacity="0.98"/><circle cx="1526.28" cy="2443.09" r="1.05" fill="#FFE8B0" opacity="0.8"/><circle cx="1462.1" cy="2324.72" r="0.86" fill="#FFE8B0" opacity="0.74"/><circle cx="1664.22" cy="1504.7" r="0.93" fill="#FFE8B0" opacity="0.71"/><circle cx="1781.75" cy="2295.15" r="0.99" fill="#FFE8B0" opacity="0.88"/><circle cx="1718.39" cy="2350.06" r="1.16" fill="#FFE8B0" opacity="0.83"/><circle cx="1414" cy="1472.76" r="0.83" fill="#FFE8B0" opacity="0.85"/><circle cx="1723.18" cy="2442.43" r="1.56" fill="#FFE8B0" opacity="0.89"/><circle cx="1703.26" cy="2448.05" r="0.89" fill="#FFE8B0" opacity="0.83"/><circle cx="1450.95" cy="1444.51" r="1.04" fill="#FFE8B0" opacity="0.84"/><circle cx="1786.72" cy="2479.56" r="1.16" fill="#FFE8B0" opacity="0.85"/><circle cx="1680.15" cy="2211.93" r="1.18" fill="#FFE8B0" opacity="0.79"/><circle cx="1551.5" cy="1168.02" r="1.1" fill="#FFE8B0" opacity="1"/><circle cx="1771.13" cy="2307.5" r="1.07" fill="#FFE8B0" opacity="0.73"/><circle cx="1499.56" cy="2306.06" r="1.43" fill="#FFE8B0" opacity="0.96"/><circle cx="1534.72" cy="1421.26" r="1.42" fill="#FFE8B0" opacity="0.91"/><circle cx="1654.29" cy="2369.03" r="1.36" fill="#FFE8B0" opacity="0.78"/><circle cx="1583.85" cy="2298.59" r="1.42" fill="#FFE8B0" opacity="0.91"/><circle cx="1508.07" cy="1484.44" r="1.32" fill="#FFE8B0" opacity="0.87"/><circle cx="1396.57" cy="2314.12" r="1.34" fill="#FFE8B0" opacity="0.84"/><circle cx="1714.59" cy="2349.53" r="1.32" fill="#FFE8B0" opacity="0.94"/><circle cx="1529.41" cy="1365.05" r="1.39" fill="#FFE8B0" opacity="0.95"/><circle cx="1530.27" cy="2442.9" r="1.35" fill="#FFE8B0" opacity="0.99"/><circle cx="1769.82" cy="2247.02" r="1.21" fill="#FFE8B0" opacity="0.86"/><circle cx="1457.64" cy="1441.3" r="1.55" fill="#FFE8B0" opacity="0.84"/><circle cx="1665.11" cy="2343.54" r="0.94" fill="#FFE8B0" opacity="0.93"/><circle cx="1621.43" cy="2253.72" r="1.33" fill="#FFE8B0" opacity="0.83"/><circle cx="1638.38" cy="1416.78" r="1.31" fill="#FFE8B0" opacity="0.92"/><circle cx="1402.91" cy="2405.45" r="1.32" fill="#FFE8B0" opacity="0.77"/><circle cx="1662.95" cy="2428.76" r="1.3" fill="#FFE8B0" opacity="0.71"/><circle cx="1578.28" cy="1199.59" r="0.84" fill="#FFE8B0" opacity="0.74"/><circle cx="1517.35" cy="2384.13" r="0.83" fill="#FFE8B0" opacity="0.84"/><circle cx="1542.22" cy="2406.71" r="1.29" fill="#FFE8B0" opacity="0.88"/><circle cx="1485.95" cy="1467.66" r="0.8" fill="#FFE8B0" opacity="0.82"/><circle cx="1502.02" cy="2335.77" r="1.47" fill="#FFE8B0" opacity="0.81"/><circle cx="1406.24" cy="2383.54" r="1.29" fill="#FFE8B0" opacity="0.73"/><circle cx="1607.36" cy="1244.39" r="1.26" fill="#FFE8B0" opacity="0.99"/><circle cx="1715.32" cy="2253.02" r="1.31" fill="#FFE8B0" opacity="0.81"/><circle cx="1448.13" cy="2427.38" r="1.28" fill="#FFE8B0" opacity="0.87"/><circle cx="1770.1" cy="1493.33" r="1.29" fill="#FFE8B0" opacity="0.81"/><circle cx="1744.92" cy="2398.45" r="1.25" fill="#FFE8B0" opacity="0.88"/><circle cx="1447.58" cy="2365.2" r="1.3" fill="#FFE8B0" opacity="0.97"/><circle cx="1540.46" cy="1280.95" r="0.98" fill="#FFE8B0" opacity="0.79"/><circle cx="1776.12" cy="2235.12" r="1.53" fill="#FFE8B0" opacity="0.88"/><circle cx="1494.63" cy="2487.31" r="1.58" fill="#FFE8B0" opacity="0.85"/><circle cx="1556.12" cy="1236.38" r="1.59" fill="#FFE8B0" opacity="0.85"/><circle cx="1505.13" cy="2329.68" r="1.3" fill="#FFE8B0" opacity="0.83"/><circle cx="1507.78" cy="2370.15" r="1.43" fill="#FFE8B0" opacity="0.95"/><circle cx="1397.22" cy="1320.9" r="1.02" fill="#FFE8B0" opacity="0.98"/><circle cx="1700.85" cy="2366.51" r="0.92" fill="#FFE8B0" opacity="1"/><circle cx="1507.81" cy="2420.24" r="1.29" fill="#FFE8B0" opacity="0.84"/><circle cx="1646.73" cy="1349.13" r="1.39" fill="#FFE8B0" opacity="0.74"/><circle cx="1692.36" cy="2337.93" r="1.07" fill="#FFE8B0" opacity="0.79"/><circle cx="1601.3" cy="2447.1" r="1.17" fill="#FFE8B0" opacity="0.81"/><circle cx="1686.28" cy="1343.96" r="0.83" fill="#FFE8B0" opacity="0.78"/><circle cx="1571.97" cy="2491.79" r="1.24" fill="#FFE8B0" opacity="0.7"/><circle cx="1699.46" cy="2291.7" r="1.14" fill="#FFE8B0" opacity="0.87"/><circle cx="1671.73" cy="1360.37" r="1.19" fill="#FFE8B0" opacity="0.97"/><circle cx="1544.26" cy="2258.57" r="0.96" fill="#FFE8B0" opacity="0.79"/><circle cx="1719.86" cy="2450.96" r="0.85" fill="#FFE8B0" opacity="0.95"/><circle cx="1666.38" cy="1281.4" r="1.03" fill="#FFE8B0" opacity="0.93"/><circle cx="1751.72" cy="2414.86" r="1.24" fill="#FFE8B0" opacity="0.85"/><circle cx="1522.64" cy="2427.39" r="0.92" fill="#FFE8B0" opacity="0.88"/><circle cx="1712.67" cy="1137.09" r="0.98" fill="#FFE8B0" opacity="0.95"/><circle cx="1704.74" cy="2356.77" r="1.38" fill="#FFE8B0" opacity="0.99"/><circle cx="1786.34" cy="2351.36" r="1.36" fill="#FFE8B0" opacity="0.71"/><circle cx="1724.61" cy="1196.82" r="1.32" fill="#FFE8B0" opacity="0.99"/><circle cx="1673.42" cy="2403.61" r="1.53" fill="#FFE8B0" opacity="0.74"/><circle cx="1633.19" cy="2408.59" r="1.13" fill="#FFE8B0" opacity="0.75"/><circle cx="1637.85" cy="1127.25" r="0.89" fill="#FFE8B0" opacity="0.81"/><circle cx="1420.44" cy="2450.68" r="1.39" fill="#FFE8B0" opacity="0.96"/><circle cx="1445.06" cy="2397.41" r="1.15" fill="#FFE8B0" opacity="0.79"/><circle cx="1629.09" cy="1303.87" r="1.55" fill="#FFE8B0" opacity="0.81"/><circle cx="1414.02" cy="2351.97" r="1.31" fill="#FFE8B0" opacity="0.85"/><circle cx="1751.62" cy="2327.11" r="1.24" fill="#FFE8B0" opacity="0.89"/><circle cx="1495.98" cy="1328.46" r="1" fill="#FFE8B0" opacity="0.93"/><circle cx="1596.21" cy="2399.13" r="1.1" fill="#FFE8B0" opacity="0.92"/><circle cx="1462.83" cy="2403.12" r="1.37" fill="#FFE8B0" opacity="0.9"/><circle cx="1425.67" cy="1374.51" r="0.87" fill="#FFE8B0" opacity="0.74"/><circle cx="1626.62" cy="2375.27" r="1.18" fill="#FFE8B0" opacity="0.8"/><circle cx="1706.6" cy="2507.92" r="0.82" fill="#FFE8B0" opacity="0.92"/><circle cx="1413.2" cy="1169.72" r="1.56" fill="#FFE8B0" opacity="0.9"/><circle cx="1480.12" cy="2505.06" r="1.33" fill="#FFE8B0" opacity="0.95"/><circle cx="1447.21" cy="2490.18" r="1.3" fill="#FFE8B0" opacity="0.81"/><circle cx="1484.83" cy="1241.97" r="1.29" fill="#FFE8B0" opacity="0.8"/><circle cx="1544.37" cy="2451.41" r="1.32" fill="#FFE8B0" opacity="0.94"/><circle cx="1563.19" cy="2464.81" r="1.48" fill="#FFE8B0" opacity="0.86"/><circle cx="1626.09" cy="1337.01" r="1.39" fill="#FFE8B0" opacity="0.82"/><circle cx="1430.31" cy="2411.06" r="0.83" fill="#FFE8B0" opacity="0.97"/><circle cx="1581.99" cy="2374.74" r="1.41" fill="#FFE8B0" opacity="0.7"/><circle cx="1577.72" cy="1462.35" r="1.3" fill="#FFE8B0" opacity="0.83"/><circle cx="1575.9" cy="2397.87" r="0.93" fill="#FFE8B0" opacity="0.81"/><circle cx="1544.33" cy="2388.8" r="1.5" fill="#FFE8B0" opacity="0.75"/><circle cx="1492.36" cy="1219.86" r="0.93" fill="#FFE8B0" opacity="0.79"/><circle cx="1484.89" cy="2347.23" r="1.54" fill="#FFE8B0" opacity="0.81"/><circle cx="1762.49" cy="2367.01" r="1.35" fill="#FFE8B0" opacity="0.9"/><circle cx="1578.33" cy="1484.38" r="0.89" fill="#FFE8B0" opacity="0.9"/><circle cx="1506.98" cy="2313.29" r="0.93" fill="#FFE8B0" opacity="0.76"/><circle cx="1401.85" cy="2264.34" r="0.98" fill="#FFE8B0" opacity="0.72"/><circle cx="1550.42" cy="1495.54" r="1.09" fill="#FFE8B0" opacity="0.79"/><circle cx="1576.87" cy="2341.5" r="1.37" fill="#FFE8B0" opacity="0.75"/><circle cx="1487.01" cy="2476.2" r="1.34" fill="#FFE8B0" opacity="0.98"/><circle cx="1647.12" cy="1280.54" r="1.58" fill="#FFE8B0" opacity="0.7"/><circle cx="1416.04" cy="2378.15" r="0.84" fill="#FFE8B0" opacity="0.86"/><circle cx="1782.89" cy="2294.28" r="1.22" fill="#FFE8B0" opacity="0.81"/><circle cx="1429.06" cy="1138.2" r="1.52" fill="#FFE8B0" opacity="0.85"/><circle cx="1761.62" cy="2414.34" r="0.84" fill="#FFE8B0" opacity="0.82"/><circle cx="1415.75" cy="2382.33" r="1" fill="#FFE8B0" opacity="0.82"/><circle cx="1512.85" cy="1130.33" r="0.83" fill="#FFE8B0" opacity="0.99"/><circle cx="1462.86" cy="2294.08" r="1.23" fill="#FFE8B0" opacity="0.73"/><circle cx="1515.99" cy="2361.15" r="0.89" fill="#FFE8B0" opacity="0.86"/><circle cx="1755.91" cy="1346.92" r="1.49" fill="#FFE8B0" opacity="0.76"/><circle cx="1398.88" cy="2286.67" r="1.26" fill="#FFE8B0" opacity="0.81"/><circle cx="1638.91" cy="2345.08" r="1.38" fill="#FFE8B0" opacity="0.97"/><circle cx="1513.51" cy="1287.82" r="1.46" fill="#FFE8B0" opacity="0.77"/><circle cx="1437.7" cy="2353.66" r="1.42" fill="#FFE8B0" opacity="0.95"/><circle cx="1515.59" cy="2392.75" r="0.9" fill="#FFE8B0" opacity="0.72"/><circle cx="1488.72" cy="1143.39" r="1.14" fill="#FFE8B0" opacity="0.87"/><circle cx="1488.93" cy="2465.71" r="0.84" fill="#FFE8B0" opacity="0.76"/><circle cx="1504.98" cy="2405.93" r="1.1" fill="#FFE8B0" opacity="0.73"/><circle cx="1558.13" cy="1234.32" r="1.4" fill="#FFE8B0" opacity="0.87"/><circle cx="1745.96" cy="2298" r="1.26" fill="#FFE8B0" opacity="0.83"/><circle cx="1714.64" cy="2267.61" r="1.32" fill="#FFE8B0" opacity="0.99"/><circle cx="1679.57" cy="1387.67" r="1.01" fill="#FFE8B0" opacity="0.94"/><circle cx="1543.05" cy="2382.67" r="0.94" fill="#FFE8B0" opacity="0.78"/><circle cx="1658.98" cy="2383.87" r="1.03" fill="#FFE8B0" opacity="0.72"/><circle cx="1693.7" cy="1330.66" r="0.82" fill="#FFE8B0" opacity="0.72"/><circle cx="1443.4" cy="2278.48" r="1.56" fill="#FFE8B0" opacity="0.88"/><circle cx="1483.28" cy="2473.48" r="1.14" fill="#FFE8B0" opacity="0.81"/><circle cx="1522.5" cy="1114.93" r="1.27" fill="#FFE8B0" opacity="0.95"/><circle cx="1679.1" cy="2436.09" r="0.94" fill="#FFE8B0" opacity="0.91"/><circle cx="1568.26" cy="2413.5" r="1.55" fill="#FFE8B0" opacity="0.94"/><circle cx="1438.69" cy="1235.56" r="1.53" fill="#FFE8B0" opacity="0.84"/><circle cx="1563.49" cy="2253.44" r="1.55" fill="#FFE8B0" opacity="0.86"/><circle cx="1775.02" cy="2408.02" r="1.28" fill="#FFE8B0" opacity="0.73"/><circle cx="1713.63" cy="1276.11" r="0.84" fill="#FFE8B0" opacity="0.99"/><circle cx="1404.98" cy="2293.92" r="1.51" fill="#FFE8B0" opacity="0.82"/><circle cx="1477.17" cy="2327.66" r="1.02" fill="#FFE8B0" opacity="0.76"/><circle cx="1614.16" cy="1251.37" r="1.4" fill="#FFE8B0" opacity="0.77"/><circle cx="1530.95" cy="2367.2" r="1.47" fill="#FFE8B0" opacity="0.95"/><circle cx="1636.17" cy="2563.99" r="1.12" fill="#FFE8B0" opacity="0.74"/><circle cx="1720.51" cy="1304.08" r="0.83" fill="#FFE8B0" opacity="0.75"/><circle cx="1430.99" cy="2334.7" r="0.96" fill="#FFE8B0" opacity="0.94"/><circle cx="1520" cy="2217.81" r="1.35" fill="#FFE8B0" opacity="0.96"/><circle cx="1638.13" cy="1426.95" r="1.1" fill="#FFE8B0" opacity="0.7"/><circle cx="1594.14" cy="2326.73" r="1.11" fill="#FFE8B0" opacity="0.8"/><circle cx="1402.68" cy="2341.82" r="1.05" fill="#FFE8B0" opacity="0.81"/><circle cx="1580.06" cy="1388.53" r="1.12" fill="#FFE8B0" opacity="0.99"/><circle cx="1714.13" cy="2460.48" r="1.34" fill="#FFE8B0" opacity="0.86"/></g></g><line x1="1555.2" y1="1299.2" x2="1585.8" y2="1299.2" stroke="#00F4F4" stroke-width="3.9"/><text x="1403.39" y="1139.2" font-size="27" font-weight="bold" fill="#fff">50:1</text><rect x="1694.8" y="1470.7" width="80.2" height="7.3" fill="#fff"/><text x="1692.8" y="1464" font-size="23.4" font-weight="bold" fill="#fff">1.5 µm</text><rect x="1789.3" y="1108" width="111.3" height="400" fill="#000"/><polygon points="1789.3,1108 1808.2,1108 1819.8,1121.6 1815,1148.6 1815,1179.6 1809.6,1194.5 1806.9,1208 1816.3,1222 1808.2,1237.7 1806.3,1249 1810.9,1263.3 1820.4,1279.5 1826.6,1293.8 1890.6,1307.3 1819.8,1321.9 1809.6,1337.6 1803.6,1355.1 1803.1,1365.9 1810.4,1393.5 1802,1421.8 1807.4,1436.1 1808.2,1450.4 1812.8,1464.5 1810.9,1480.7 1803.6,1494.2 1802,1508 1789.3,1508" fill="#FF8000" stroke="none" stroke-width="1"/><text transform="translate(1833.4 1365.2) rotate(90)" font-size="27.2" fill="#fff">3.2 nm</text></g>
</svg>
</body></html>
